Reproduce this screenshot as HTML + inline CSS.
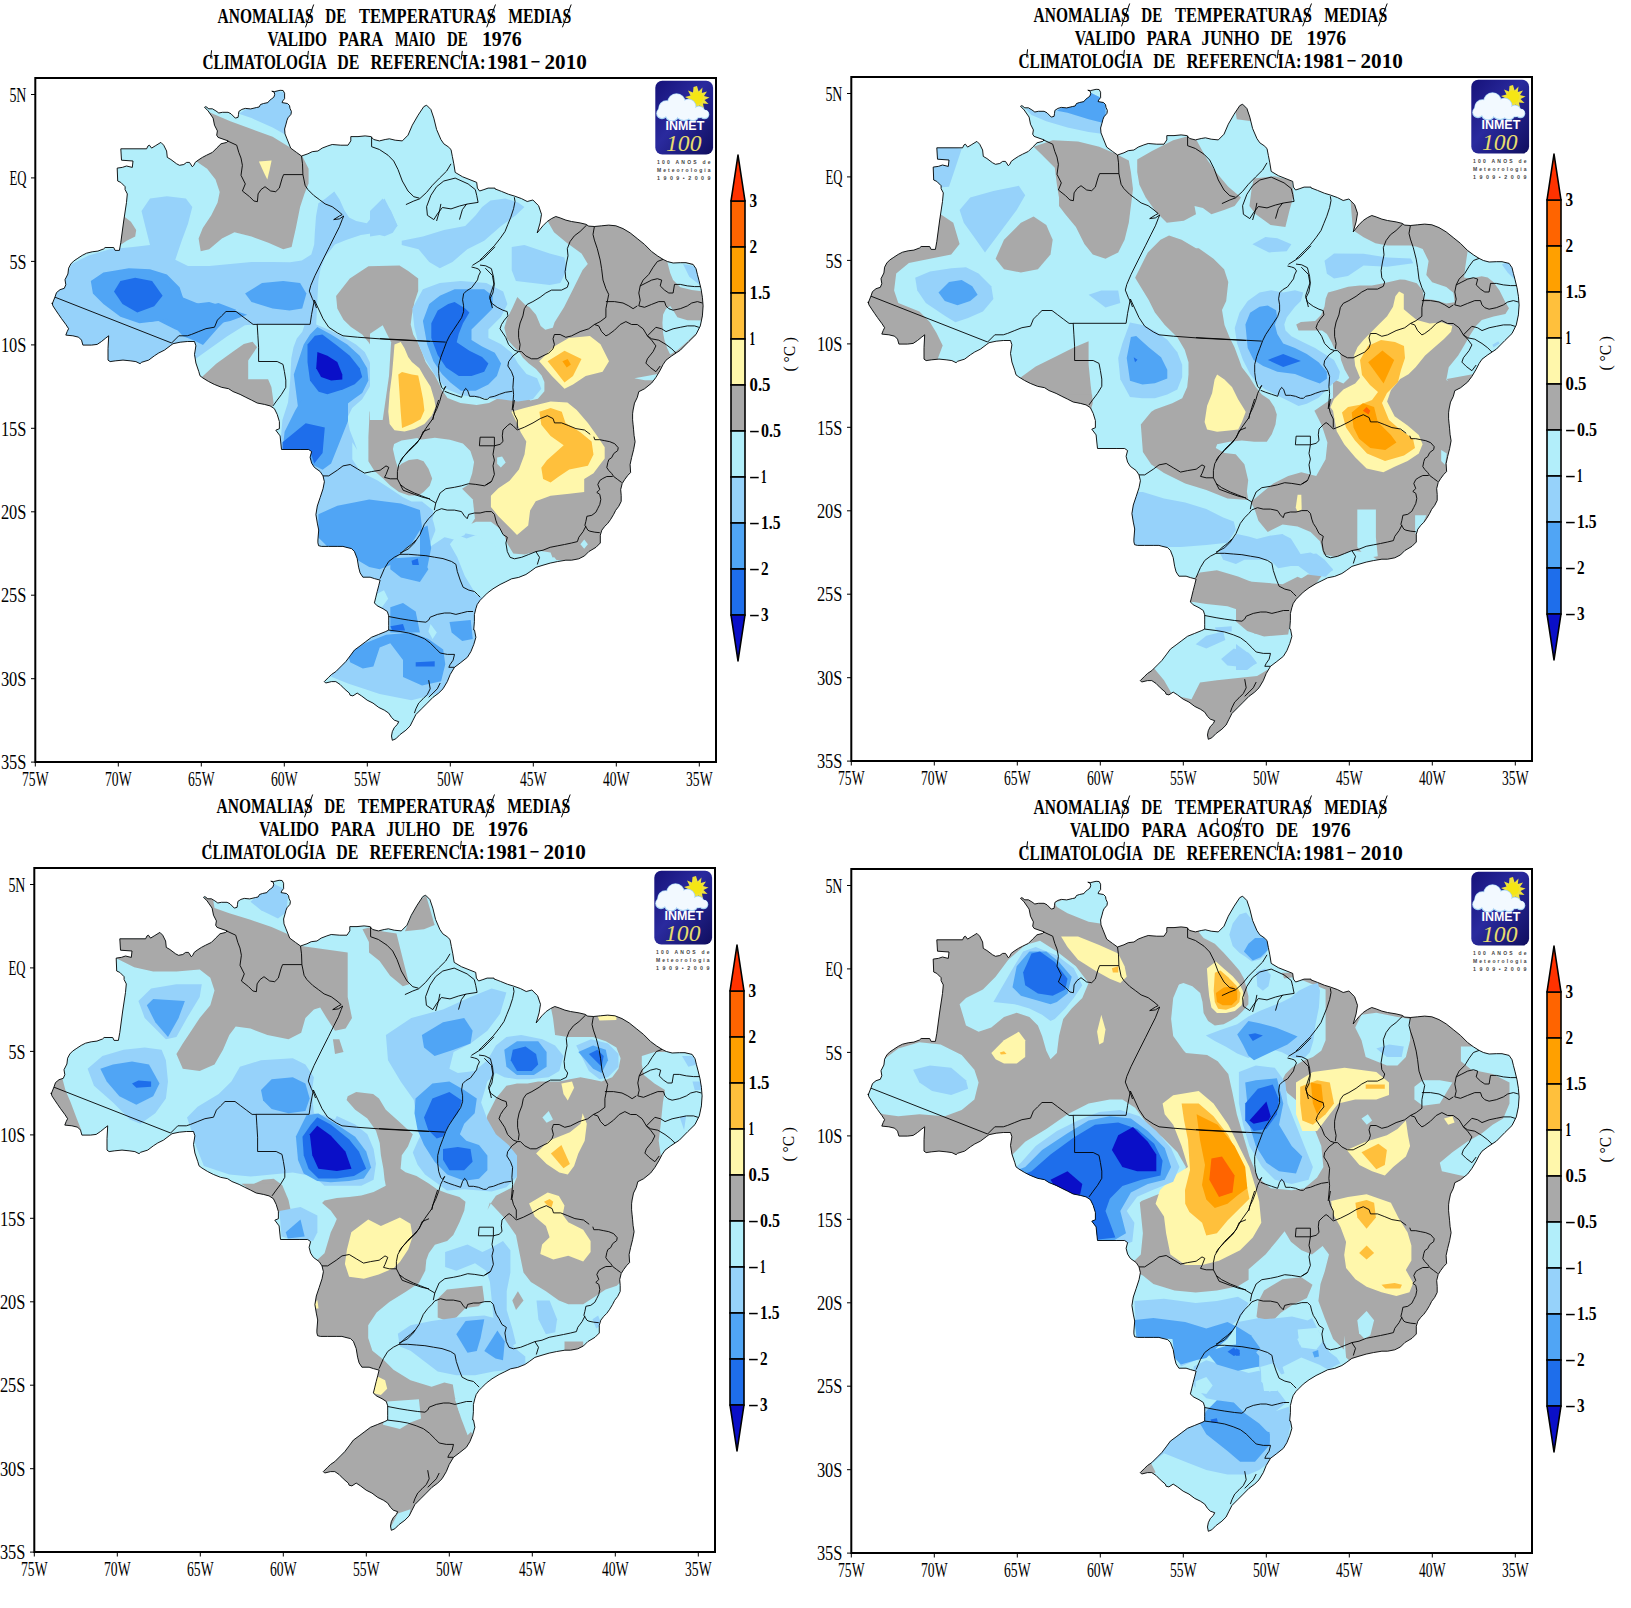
<!DOCTYPE html>
<html><head><meta charset="utf-8"><style>html,body{margin:0;padding:0;background:#fff}svg{display:block}</style></head>
<body><svg xmlns="http://www.w3.org/2000/svg" width="1631" height="1608" viewBox="0 0 1631 1608">
<defs>
<clipPath id="brz"><path d="M52.2 304.0 L55.0 296.9 L56.5 292.6 L60.0 289.7 L64.3 288.3 L65.8 284.7 L65.0 279.7 L67.9 274.0 L68.6 268.2 L70.8 264.0 L73.6 261.1 L77.9 258.2 L82.2 255.4 L86.5 253.2 L92.2 251.8 L97.9 251.1 L103.7 248.9 L105.1 247.5 L113.7 247.5 L115.1 250.4 L119.4 250.4 L120.8 242.5 L123.7 221.0 L126.5 202.4 L127.3 193.9 L125.1 189.6 L125.1 186.7 L120.8 182.4 L117.7 181.0 L117.2 168.1 L122.3 167.4 L126.5 166.0 L132.3 167.4 L133.0 161.0 L121.5 160.2 L120.8 148.8 L146.6 148.8 L148.0 145.9 L149.4 145.2 L151.6 148.1 L155.2 145.9 L160.9 142.4 L163.7 145.2 L166.6 151.0 L167.3 157.4 L170.9 159.5 L176.6 163.8 L179.5 165.3 L183.8 164.5 L186.6 162.4 L189.5 162.4 L192.3 166.7 L193.8 165.3 L195.2 162.4 L198.1 160.2 L202.4 157.4 L206.6 155.2 L212.4 152.4 L216.7 148.1 L221.0 143.8 L226.7 142.4 L228.1 140.9 L218.1 137.4 L216.7 135.2 L217.4 130.9 L214.5 125.2 L213.1 118.1 L208.1 110.9 L204.5 107.3 L205.9 106.6 L208.8 108.8 L212.4 108.8 L215.9 110.9 L218.8 113.0 L222.4 112.3 L228.1 112.3 L231.0 113.8 L235.3 118.1 L238.1 117.3 L238.5 114.3 L238.9 111.4 L241.9 109.4 L245.3 108.4 L250.7 108.9 L256.6 107.5 L259.1 107.0 L260.5 104.5 L263.5 103.5 L267.9 102.6 L269.4 100.6 L271.3 99.1 L273.8 97.2 L274.7 94.7 L274.3 92.3 L271.8 91.2 L274.5 91.6 L280.1 90.3 L283.1 90.5 L284.6 93.2 L284.6 98.6 L282.6 101.1 L282.1 102.6 L287.5 103.5 L289.5 105.5 L290.0 108.4 L291.4 111.4 L291.0 114.3 L288.0 117.8 L287.0 120.2 L286.0 124.1 L284.6 129.0 L285.0 133.9 L287.0 138.9 L290.7 148.1 L296.5 152.4 L301.5 156.0 L307.9 153.8 L312.2 151.7 L317.9 151.0 L322.2 148.1 L327.9 145.9 L332.2 144.5 L340.8 145.2 L348.0 145.2 L350.8 140.9 L350.8 136.6 L358.0 136.6 L365.1 135.9 L370.9 136.6 L373.7 139.5 L379.4 140.9 L385.2 139.5 L389.4 138.8 L395.2 140.2 L402.3 140.9 L408.0 135.2 L412.3 125.2 L418.1 115.2 L423.8 106.6 L426.6 105.2 L430.9 109.5 L433.8 118.1 L436.6 129.5 L440.9 139.5 L443.8 143.8 L448.1 146.7 L451.0 149.5 L452.4 156.7 L453.8 163.8 L455.2 172.4 L462.4 176.7 L476.7 182.4 L477.4 188.1 L479.6 191.0 L483.9 189.6 L488.1 188.1 L495.0 188.1 L495.0 188.9 L501.5 191.4 L508.6 194.3 L514.3 196.0 L521.5 198.6 L527.2 201.5 L532.9 200.0 L538.6 205.7 L541.5 214.3 L540.1 222.9 L537.2 232.9 L542.9 225.8 L547.2 221.5 L551.5 218.6 L555.8 216.5 L560.1 217.9 L565.8 220.1 L571.5 221.5 L580.1 222.9 L585.9 224.3 L588.7 226.1 L594.4 226.5 L601.6 225.8 L608.7 225.1 L615.9 225.8 L623.0 228.6 L630.2 232.9 L637.3 238.6 L644.5 244.4 L651.6 251.5 L657.4 255.8 L663.1 259.4 L667.4 261.5 L673.1 263.0 L680.3 262.7 L686.0 262.7 L693.1 264.4 L696.0 268.7 L697.4 274.4 L698.9 280.1 L701.0 288.7 L702.4 297.3 L703.1 305.9 L702.4 315.9 L700.3 325.9 L696.0 334.5 L688.8 341.6 L680.3 350.2 L671.7 355.9 L666.0 360.2 L663.1 364.5 L660.2 370.2 L655.9 377.4 L651.6 383.1 L644.5 388.8 L638.8 391.7 L637.3 397.4 L634.5 403.1 L633.1 410.0 L632.6 413.8 L632.6 419.8 L633.1 424.8 L633.6 429.8 L634.1 435.7 L635.1 441.7 L633.6 449.7 L631.6 457.6 L630.1 464.6 L630.6 472.5 L627.7 475.5 L624.7 479.5 L622.2 483.5 L620.7 489.5 L621.2 495.4 L621.2 501.4 L618.7 506.4 L615.7 510.3 L613.7 514.3 L610.7 519.3 L607.8 523.3 L604.8 526.3 L601.8 530.2 L600.3 535.2 L600.3 543.0 L596.0 547.3 L588.8 551.6 L584.5 555.9 L578.8 558.8 L571.6 560.2 L565.9 560.2 L557.3 561.6 L550.2 563.1 L543.0 565.2 L535.9 567.4 L530.2 571.6 L525.9 574.5 L518.7 577.4 L511.6 578.8 L505.9 581.7 L500.1 584.5 L493.0 588.8 L487.3 593.1 L483.0 597.4 L480.1 600.3 L477.2 604.5 L475.8 608.8 L474.4 614.6 L474.4 621.7 L473.7 630.0 L474.5 630.1 L475.9 637.3 L473.8 644.4 L470.9 651.6 L467.4 657.3 L460.2 663.0 L454.5 667.3 L450.2 674.5 L447.3 681.6 L443.0 688.8 L438.7 693.1 L433.0 697.3 L427.3 703.1 L421.6 708.8 L415.9 714.5 L413.0 720.2 L410.1 726.0 L405.9 730.2 L400.1 734.5 L395.8 738.8 L392.3 740.3 L391.5 736.0 L392.3 731.7 L394.4 727.4 L397.3 724.5 L398.7 721.7 L394.4 720.2 L391.5 717.4 L388.7 713.1 L384.4 710.2 L378.7 707.4 L373.0 703.1 L367.2 700.2 L361.5 695.9 L357.2 693.1 L352.9 695.9 L350.1 695.2 L349.3 693.1 L344.3 688.8 L340.1 684.5 L335.8 681.6 L331.5 681.6 L325.7 683.0 L324.3 681.6 L328.6 677.3 L331.5 674.5 L335.8 671.6 L341.5 665.9 L345.8 661.6 L350.1 655.9 L354.4 650.1 L360.1 645.9 L365.8 641.6 L371.5 637.3 L378.7 634.4 L385.8 631.5 L388.7 630.1 L388.7 625.8 L388.7 620.1 L388.7 615.8 L387.3 611.5 L383.0 608.7 L377.2 605.8 L374.4 602.9 L375.8 597.2 L377.2 591.5 L378.7 585.8 L380.1 580.1 L374.4 578.6 L370.1 577.2 L362.9 577.2 L360.1 572.9 L358.6 567.2 L357.2 558.6 L354.4 551.4 L351.5 548.6 L345.8 547.2 L342.9 546.4 L337.2 546.4 L328.6 546.4 L321.5 546.4 L318.6 545.7 L317.9 542.9 L317.9 540.0 L318.7 530.0 L317.3 523.1 L315.9 514.6 L317.3 506.0 L320.2 497.4 L323.0 488.8 L324.4 481.7 L323.0 475.9 L320.2 471.6 L314.4 467.4 L311.6 463.1 L310.1 457.3 L311.6 451.6 L308.7 449.5 L300.1 449.5 L281.5 449.5 L280.8 443.0 L280.1 435.9 L275.8 430.2 L279.4 428.7 L279.4 421.6 L277.2 414.4 L274.4 408.7 L270.1 405.9 L264.4 404.4 L257.2 403.0 L251.5 400.1 L245.8 397.3 L240.1 394.4 L232.9 391.5 L228.6 388.7 L221.5 387.3 L214.3 384.4 L208.6 381.5 L202.9 378.0 L200.0 375.8 L198.8 371.6 L195.9 363.0 L194.5 354.4 L195.9 345.8 L194.5 341.5 L187.3 341.5 L180.2 342.2 L173.0 343.7 L170.2 345.8 L164.5 350.1 L158.7 353.0 L154.4 355.8 L148.7 360.1 L141.6 362.3 L140.1 363.7 L135.9 361.6 L130.1 360.8 L123.0 360.1 L115.8 360.8 L110.1 361.6 L108.0 360.1 L108.0 348.7 L108.7 335.8 L105.8 338.0 L101.5 341.5 L97.2 344.4 L91.5 345.1 L82.9 345.1 L81.5 340.1 L78.6 337.2 L72.9 335.8 L65.8 335.1 L67.2 331.5 L68.6 328.7 L65.8 324.4 L61.5 318.6 L58.6 314.4 L55.7 310.1 L52.9 305.8 L52.2 302.9 Z"/></clipPath>
<path id="brzline" d="M52.2 304.0 L55.0 296.9 L56.5 292.6 L60.0 289.7 L64.3 288.3 L65.8 284.7 L65.0 279.7 L67.9 274.0 L68.6 268.2 L70.8 264.0 L73.6 261.1 L77.9 258.2 L82.2 255.4 L86.5 253.2 L92.2 251.8 L97.9 251.1 L103.7 248.9 L105.1 247.5 L113.7 247.5 L115.1 250.4 L119.4 250.4 L120.8 242.5 L123.7 221.0 L126.5 202.4 L127.3 193.9 L125.1 189.6 L125.1 186.7 L120.8 182.4 L117.7 181.0 L117.2 168.1 L122.3 167.4 L126.5 166.0 L132.3 167.4 L133.0 161.0 L121.5 160.2 L120.8 148.8 L146.6 148.8 L148.0 145.9 L149.4 145.2 L151.6 148.1 L155.2 145.9 L160.9 142.4 L163.7 145.2 L166.6 151.0 L167.3 157.4 L170.9 159.5 L176.6 163.8 L179.5 165.3 L183.8 164.5 L186.6 162.4 L189.5 162.4 L192.3 166.7 L193.8 165.3 L195.2 162.4 L198.1 160.2 L202.4 157.4 L206.6 155.2 L212.4 152.4 L216.7 148.1 L221.0 143.8 L226.7 142.4 L228.1 140.9 L218.1 137.4 L216.7 135.2 L217.4 130.9 L214.5 125.2 L213.1 118.1 L208.1 110.9 L204.5 107.3 L205.9 106.6 L208.8 108.8 L212.4 108.8 L215.9 110.9 L218.8 113.0 L222.4 112.3 L228.1 112.3 L231.0 113.8 L235.3 118.1 L238.1 117.3 L238.5 114.3 L238.9 111.4 L241.9 109.4 L245.3 108.4 L250.7 108.9 L256.6 107.5 L259.1 107.0 L260.5 104.5 L263.5 103.5 L267.9 102.6 L269.4 100.6 L271.3 99.1 L273.8 97.2 L274.7 94.7 L274.3 92.3 L271.8 91.2 L274.5 91.6 L280.1 90.3 L283.1 90.5 L284.6 93.2 L284.6 98.6 L282.6 101.1 L282.1 102.6 L287.5 103.5 L289.5 105.5 L290.0 108.4 L291.4 111.4 L291.0 114.3 L288.0 117.8 L287.0 120.2 L286.0 124.1 L284.6 129.0 L285.0 133.9 L287.0 138.9 L290.7 148.1 L296.5 152.4 L301.5 156.0 L307.9 153.8 L312.2 151.7 L317.9 151.0 L322.2 148.1 L327.9 145.9 L332.2 144.5 L340.8 145.2 L348.0 145.2 L350.8 140.9 L350.8 136.6 L358.0 136.6 L365.1 135.9 L370.9 136.6 L373.7 139.5 L379.4 140.9 L385.2 139.5 L389.4 138.8 L395.2 140.2 L402.3 140.9 L408.0 135.2 L412.3 125.2 L418.1 115.2 L423.8 106.6 L426.6 105.2 L430.9 109.5 L433.8 118.1 L436.6 129.5 L440.9 139.5 L443.8 143.8 L448.1 146.7 L451.0 149.5 L452.4 156.7 L453.8 163.8 L455.2 172.4 L462.4 176.7 L476.7 182.4 L477.4 188.1 L479.6 191.0 L483.9 189.6 L488.1 188.1 L495.0 188.1 L495.0 188.9 L501.5 191.4 L508.6 194.3 L514.3 196.0 L521.5 198.6 L527.2 201.5 L532.9 200.0 L538.6 205.7 L541.5 214.3 L540.1 222.9 L537.2 232.9 L542.9 225.8 L547.2 221.5 L551.5 218.6 L555.8 216.5 L560.1 217.9 L565.8 220.1 L571.5 221.5 L580.1 222.9 L585.9 224.3 L588.7 226.1 L594.4 226.5 L601.6 225.8 L608.7 225.1 L615.9 225.8 L623.0 228.6 L630.2 232.9 L637.3 238.6 L644.5 244.4 L651.6 251.5 L657.4 255.8 L663.1 259.4 L667.4 261.5 L673.1 263.0 L680.3 262.7 L686.0 262.7 L693.1 264.4 L696.0 268.7 L697.4 274.4 L698.9 280.1 L701.0 288.7 L702.4 297.3 L703.1 305.9 L702.4 315.9 L700.3 325.9 L696.0 334.5 L688.8 341.6 L680.3 350.2 L671.7 355.9 L666.0 360.2 L663.1 364.5 L660.2 370.2 L655.9 377.4 L651.6 383.1 L644.5 388.8 L638.8 391.7 L637.3 397.4 L634.5 403.1 L633.1 410.0 L632.6 413.8 L632.6 419.8 L633.1 424.8 L633.6 429.8 L634.1 435.7 L635.1 441.7 L633.6 449.7 L631.6 457.6 L630.1 464.6 L630.6 472.5 L627.7 475.5 L624.7 479.5 L622.2 483.5 L620.7 489.5 L621.2 495.4 L621.2 501.4 L618.7 506.4 L615.7 510.3 L613.7 514.3 L610.7 519.3 L607.8 523.3 L604.8 526.3 L601.8 530.2 L600.3 535.2 L600.3 543.0 L596.0 547.3 L588.8 551.6 L584.5 555.9 L578.8 558.8 L571.6 560.2 L565.9 560.2 L557.3 561.6 L550.2 563.1 L543.0 565.2 L535.9 567.4 L530.2 571.6 L525.9 574.5 L518.7 577.4 L511.6 578.8 L505.9 581.7 L500.1 584.5 L493.0 588.8 L487.3 593.1 L483.0 597.4 L480.1 600.3 L477.2 604.5 L475.8 608.8 L474.4 614.6 L474.4 621.7 L473.7 630.0 L474.5 630.1 L475.9 637.3 L473.8 644.4 L470.9 651.6 L467.4 657.3 L460.2 663.0 L454.5 667.3 L450.2 674.5 L447.3 681.6 L443.0 688.8 L438.7 693.1 L433.0 697.3 L427.3 703.1 L421.6 708.8 L415.9 714.5 L413.0 720.2 L410.1 726.0 L405.9 730.2 L400.1 734.5 L395.8 738.8 L392.3 740.3 L391.5 736.0 L392.3 731.7 L394.4 727.4 L397.3 724.5 L398.7 721.7 L394.4 720.2 L391.5 717.4 L388.7 713.1 L384.4 710.2 L378.7 707.4 L373.0 703.1 L367.2 700.2 L361.5 695.9 L357.2 693.1 L352.9 695.9 L350.1 695.2 L349.3 693.1 L344.3 688.8 L340.1 684.5 L335.8 681.6 L331.5 681.6 L325.7 683.0 L324.3 681.6 L328.6 677.3 L331.5 674.5 L335.8 671.6 L341.5 665.9 L345.8 661.6 L350.1 655.9 L354.4 650.1 L360.1 645.9 L365.8 641.6 L371.5 637.3 L378.7 634.4 L385.8 631.5 L388.7 630.1 L388.7 625.8 L388.7 620.1 L388.7 615.8 L387.3 611.5 L383.0 608.7 L377.2 605.8 L374.4 602.9 L375.8 597.2 L377.2 591.5 L378.7 585.8 L380.1 580.1 L374.4 578.6 L370.1 577.2 L362.9 577.2 L360.1 572.9 L358.6 567.2 L357.2 558.6 L354.4 551.4 L351.5 548.6 L345.8 547.2 L342.9 546.4 L337.2 546.4 L328.6 546.4 L321.5 546.4 L318.6 545.7 L317.9 542.9 L317.9 540.0 L318.7 530.0 L317.3 523.1 L315.9 514.6 L317.3 506.0 L320.2 497.4 L323.0 488.8 L324.4 481.7 L323.0 475.9 L320.2 471.6 L314.4 467.4 L311.6 463.1 L310.1 457.3 L311.6 451.6 L308.7 449.5 L300.1 449.5 L281.5 449.5 L280.8 443.0 L280.1 435.9 L275.8 430.2 L279.4 428.7 L279.4 421.6 L277.2 414.4 L274.4 408.7 L270.1 405.9 L264.4 404.4 L257.2 403.0 L251.5 400.1 L245.8 397.3 L240.1 394.4 L232.9 391.5 L228.6 388.7 L221.5 387.3 L214.3 384.4 L208.6 381.5 L202.9 378.0 L200.0 375.8 L198.8 371.6 L195.9 363.0 L194.5 354.4 L195.9 345.8 L194.5 341.5 L187.3 341.5 L180.2 342.2 L173.0 343.7 L170.2 345.8 L164.5 350.1 L158.7 353.0 L154.4 355.8 L148.7 360.1 L141.6 362.3 L140.1 363.7 L135.9 361.6 L130.1 360.8 L123.0 360.1 L115.8 360.8 L110.1 361.6 L108.0 360.1 L108.0 348.7 L108.7 335.8 L105.8 338.0 L101.5 341.5 L97.2 344.4 L91.5 345.1 L82.9 345.1 L81.5 340.1 L78.6 337.2 L72.9 335.8 L65.8 335.1 L67.2 331.5 L68.6 328.7 L65.8 324.4 L61.5 318.6 L58.6 314.4 L55.7 310.1 L52.9 305.8 L52.2 302.9 Z" fill="none" stroke="#000" stroke-width="0.9" stroke-linejoin="round"/>
<g id="logo">
<defs><linearGradient id="lg" x1="0" y1="0" x2="1" y2="1"><stop offset="0" stop-color="#16127a"/><stop offset="0.45" stop-color="#2a2a9e"/><stop offset="1" stop-color="#100e5e"/></linearGradient></defs>
<rect x="655.3" y="80.8" width="57.8" height="73.8" rx="7" fill="url(#lg)"/>
<polygon points="697,86 698.6,91.5 702.5,87.5 701.8,93 707,91.5 704,96 709.5,97.5 704.5,100 708.5,104 703,103.5 704,109 699.5,105.5 697,110 695,105 690.5,108 691.5,103 686,103.5 690,99.5 685,97 690.5,95.5 688,90.5 693,92.5 693.5,87" fill="#efe23a"/>
<circle cx="697" cy="97.8" r="6.2" fill="#f5e614"/>
<g fill="#a8d4f4"><circle cx="666.5" cy="108.5" r="8.3"/><circle cx="676.5" cy="102.5" r="9.3"/><circle cx="688.5" cy="106.5" r="7.8"/><circle cx="699" cy="112" r="6.3"/><circle cx="684" cy="112" r="9.3"/><circle cx="662" cy="113.5" r="5.8"/><circle cx="704.5" cy="114.5" r="4.8"/><circle cx="672" cy="114.5" r="7.3"/><circle cx="693" cy="115" r="6.3"/></g>
<g fill="#f2f9ff"><circle cx="666.5" cy="108.5" r="7.5"/><circle cx="676.5" cy="102.5" r="8.5"/><circle cx="688.5" cy="106.5" r="7"/><circle cx="699" cy="112" r="5.5"/><circle cx="684" cy="111.5" r="8.5"/><circle cx="662" cy="113" r="5"/><circle cx="704.5" cy="114" r="4"/><circle cx="672" cy="114" r="6.5"/><circle cx="693" cy="114.5" r="5.5"/></g>
<text x="665.5" y="130.3" font-size="12" fill="#ffffff" style="font-family:'Liberation Sans',sans-serif;font-weight:bold" textLength="38.8" lengthAdjust="spacingAndGlyphs">INMET</text>
<text x="666" y="150.5" font-size="23" fill="#e6dc6e" style="font-family:'Liberation Serif',serif;font-style:italic" textLength="35.5" lengthAdjust="spacingAndGlyphs">100</text>
<text x="657" y="163.8" font-size="5" fill="#444" style="font-family:'Liberation Sans',sans-serif;font-weight:bold" textLength="53.5" lengthAdjust="spacing">100 ANOS de</text>
<text x="657" y="171.9" font-size="5" fill="#444" style="font-family:'Liberation Sans',sans-serif;font-weight:bold" textLength="53.5" lengthAdjust="spacing">Meteorologia</text>
<text x="657" y="179.6" font-size="5.3" fill="#444" style="font-family:'Liberation Sans',sans-serif;font-weight:bold" textLength="53.5" lengthAdjust="spacing">1909•2009</text>
</g>
</defs>
<rect width="1631" height="1608" fill="#fff"/>
<g transform="translate(0,0)">
<text x="217.6" y="22.8" font-size="21.5" textLength="96.1" lengthAdjust="spacingAndGlyphs" style="font-family:'Liberation Serif',serif;font-weight:bold">ANOMALIAS</text>
<text x="325.3" y="22.8" font-size="21.5" textLength="21.0" lengthAdjust="spacingAndGlyphs" style="font-family:'Liberation Serif',serif;font-weight:bold">DE</text>
<text x="359.1" y="22.8" font-size="21.5" textLength="136.9" lengthAdjust="spacingAndGlyphs" style="font-family:'Liberation Serif',serif;font-weight:bold">TEMPERATURAS</text>
<text x="508.2" y="22.8" font-size="21.5" textLength="63.0" lengthAdjust="spacingAndGlyphs" style="font-family:'Liberation Serif',serif;font-weight:bold">MEDIAS</text>
<text x="267.5" y="45.6" font-size="21.5" textLength="59.6" lengthAdjust="spacingAndGlyphs" style="font-family:'Liberation Serif',serif;font-weight:bold">VALIDO</text>
<text x="338.6" y="45.6" font-size="21.5" textLength="44.7" lengthAdjust="spacingAndGlyphs" style="font-family:'Liberation Serif',serif;font-weight:bold">PARA</text>
<text x="394.9" y="45.6" font-size="21.5" textLength="40.6" lengthAdjust="spacingAndGlyphs" style="font-family:'Liberation Serif',serif;font-weight:bold">MAIO</text>
<text x="447.1" y="45.6" font-size="21.5" textLength="20.7" lengthAdjust="spacingAndGlyphs" style="font-family:'Liberation Serif',serif;font-weight:bold">DE</text>
<text x="481.9" y="45.6" font-size="21.5" textLength="39.7" lengthAdjust="spacingAndGlyphs" style="font-family:'Liberation Serif',serif;font-weight:bold">1976</text>
<text x="202.4" y="69.2" font-size="21.5" textLength="124.4" lengthAdjust="spacingAndGlyphs" style="font-family:'Liberation Serif',serif;font-weight:bold">CLIMATOLOGIA</text>
<text x="337.2" y="69.2" font-size="21.5" textLength="22.1" lengthAdjust="spacingAndGlyphs" style="font-family:'Liberation Serif',serif;font-weight:bold">DE</text>
<text x="370.4" y="69.2" font-size="21.5" textLength="115.1" lengthAdjust="spacingAndGlyphs" style="font-family:'Liberation Serif',serif;font-weight:bold">REFERENCIA:</text>
<text x="486.9" y="69.2" font-size="21.5" textLength="41.7" lengthAdjust="spacingAndGlyphs" style="font-family:'Liberation Serif',serif;font-weight:bold">1981</text>
<text x="530.5" y="69.2" font-size="21.5" textLength="10.0" lengthAdjust="spacingAndGlyphs" style="font-family:'Liberation Serif',serif;font-weight:bold">−</text>
<text x="544.5" y="69.2" font-size="21.5" textLength="42.3" lengthAdjust="spacingAndGlyphs" style="font-family:'Liberation Serif',serif;font-weight:bold">2010</text>
<line x1="305.5" y1="27.3" x2="313.7" y2="4.5" stroke="#000" stroke-width="1"/>
<line x1="486.7" y1="27.3" x2="495.5" y2="4.5" stroke="#000" stroke-width="1"/>
<line x1="562.4" y1="27.3" x2="571.2" y2="4.5" stroke="#000" stroke-width="1"/>
<line x1="211.6" y1="50.3" x2="210.6" y2="58.3" stroke="#000" stroke-width="1"/>
<line x1="308.4" y1="50.9" x2="307.4" y2="59.5" stroke="#000" stroke-width="1"/>
<line x1="462.3" y1="50.9" x2="461.3" y2="59.5" stroke="#000" stroke-width="1"/>
<g clip-path="url(#brz)">
<rect x="40" y="80" width="680" height="680" fill="#b2eefa"/>
<path d="M545.5 217.4 L540.0 190.0 L730.0 190.0 L730.0 565.0 L553.4 560.0 L550.6 552.6 L539.4 550.7 L524.5 554.4 L513.3 553.5 L507.7 544.2 L504.0 534.9 L498.4 527.4 L490.9 521.8 L476.0 521.8 L462.9 527.4 L453.6 534.9 L446.1 534.9 L440.5 529.3 L440.5 510.6 L448.0 501.3 L457.3 491.9 L462.9 488.2 L468.5 484.5 L472.2 473.3 L474.1 462.1 L470.4 450.9 L462.9 443.4 L449.9 439.7 L434.9 437.8 L420.0 439.7 L417.4 438.0 L401.5 440.5 L394.1 444.1 L392.9 449.0 L395.4 460.1 L397.8 467.4 L401.5 463.8 L408.9 460.1 L417.4 458.9 L423.6 461.3 L428.5 468.7 L432.2 478.5 L429.7 485.8 L423.6 492.0 L418.7 495.6 L408.9 495.6 L399.0 492.0 L390.5 485.8 L383.1 478.5 L374.5 471.1 L368.4 461.3 L368.4 436.8 L369.6 412.3 L373.3 400.0 L369.7 450.0 L368.4 436.6 L369.7 430.3 L369.7 417.9 L373.4 405.5 L374.6 393.0 L377.1 380.6 L377.1 369.4 L374.6 359.5 L373.4 349.5 L368.4 342.0 L362.2 334.6 L351.0 327.1 L343.5 319.7 L337.3 308.5 L336.1 296.0 L349.8 278.6 L368.4 266.2 L399.5 265.5 L408.2 271.1 L418.2 278.6 L418.2 291.0 L414.4 302.2 L411.9 314.7 L410.7 324.6 L413.2 334.6 L418.2 343.3 L421.9 352.0 L425.6 361.9 L430.6 369.4 L434.3 374.4 L438.1 381.8 L440.5 386.8 L441.0 388.6 L447.5 398.0 L460.4 403.0 L476.6 405.0 L489.0 403.0 L498.7 398.0 L513.6 391.0 L520.1 392.2 L530.4 400.6 L537.9 398.7 L544.4 391.3 L544.4 381.9 L541.6 375.4 L536.0 368.9 L528.5 363.3 L522.9 357.7 L519.2 352.1 L513.6 346.5 L507.1 339.0 L504.3 327.8 L507.1 318.5 L512.7 307.3 L517.3 297.1 L524.8 304.5 L529.5 307.3 L536.0 314.8 L540.7 326.0 L545.3 329.7 L552.8 327.8 L554.6 322.2 L564.0 307.3 L573.3 288.7 L582.6 270.0 L587.8 264.0 L581.5 253.4 L566.7 242.8 L554.0 232.3 Z" fill="#a9a9a9"/>
<path d="M188.0 101.1 L202.8 109.6 L230.3 121.2 L251.5 129.1 L272.6 136.7 L288.5 146.6 L302.2 156.1 L308.6 168.8 L308.6 183.6 L304.3 194.2 L300.1 206.9 L295.9 228.0 L291.6 247.1 L283.2 249.2 L268.4 242.8 L251.5 236.5 L234.5 232.3 L221.9 238.6 L209.2 249.2 L200.7 251.3 L198.6 238.6 L202.8 228.0 L211.3 215.3 L217.6 202.6 L219.7 192.1 L215.5 179.4 L207.1 168.8 L196.5 161.4 L188.0 160.4 Z" fill="#a9a9a9"/>
<path d="M122.5 215.3 L130.9 221.7 L136.2 230.1 L135.2 236.5 L126.7 240.7 L120.4 244.9 L114.0 228.0 Z" fill="#a9a9a9"/>
<path d="M201.9 377.1 L216.2 363.8 L232.8 351.7 L243.8 343.9 L252.6 341.7 L257.1 347.3 L252.6 353.9 L248.2 360.5 L248.2 379.3 L268.1 379.3 L271.4 387.0 L273.6 402.4 L272.5 406.9 L275.8 424.5 L194.1 424.5 Z" fill="#a9a9a9"/>
<path d="M667.4 262.2 L686.0 263.0 L694.6 265.8 L716.0 265.8 L716.0 293.0 L691.7 290.1 L680.3 287.3 L673.1 280.1 L670.2 273.0 Z" fill="#b2eefa"/>
<path d="M683.0 264.0 L693.5 266.1 L718.9 270.3 L718.9 289.3 L699.9 285.1 L689.3 276.7 Z" fill="#96d2fa"/>
<path d="M663.1 314.5 L666.0 308.7 L670.2 305.9 L673.1 310.2 L677.4 317.3 L687.4 320.2 L716.0 320.9 L716.0 325.9 L694.6 334.5 L687.4 341.6 L677.4 350.2 L670.2 354.5 L667.4 348.8 L664.5 340.2 L663.1 333.1 L662.4 323.0 Z" fill="#b2eefa"/>
<path d="M634.3 378.2 L647.0 376.0 L657.6 373.9 L655.5 380.3 L644.9 380.3 Z" fill="#b2eefa"/>
<path d="M497.1 457.6 L502.1 456.4 L505.7 462.5 L500.8 467.4 L497.1 463.8 Z" fill="#b2eefa"/>
<path d="M580.4 544.2 L584.2 539.5 L587.9 544.2 L584.2 548.8 Z" fill="#b2eefa"/>
<path d="M258.9 161.4 L271.6 160.4 L269.4 170.9 L267.3 179.4 L264.1 173.0 Z" fill="#fff7ab"/>
<path d="M394.5 344.5 L400.7 342.0 L404.5 348.3 L408.2 357.0 L411.9 361.9 L419.4 368.2 L424.4 376.9 L430.6 386.8 L434.3 399.3 L435.6 406.7 L431.8 415.4 L424.4 424.1 L414.4 429.1 L404.5 431.6 L394.5 430.3 L389.6 424.1 L388.3 411.7 L389.6 393.0 L392.0 374.4 L393.3 359.5 Z" fill="#fff7ab"/>
<path d="M398.3 374.4 L402.0 371.9 L411.9 374.4 L418.2 375.6 L420.6 386.8 L423.1 399.3 L424.4 410.4 L420.6 419.2 L411.9 424.1 L402.0 427.9 L400.7 411.7 L399.5 393.0 Z" fill="#ffc03c"/>
<path d="M539.2 361.2 L554.0 346.4 L568.8 338.0 L589.9 335.9 L600.5 344.3 L609.0 361.2 L602.6 371.8 L585.7 376.0 L573.0 384.5 L564.5 388.7 L551.9 376.0 Z" fill="#fff7ab"/>
<path d="M547.6 361.2 L564.5 350.7 L581.5 359.1 L573.0 376.0 L564.5 382.4 L556.1 371.8 Z" fill="#ffc03c"/>
<path d="M562.4 361.2 L567.7 359.1 L570.9 364.4 L566.7 367.6 Z" fill="#ffa000"/>
<path d="M511.4 411.7 L524.5 408.0 L539.4 404.3 L550.6 401.5 L567.4 402.4 L576.7 409.9 L587.9 422.9 L597.2 436.0 L604.7 447.2 L604.7 458.4 L599.1 465.8 L593.5 473.3 L584.2 478.9 L584.2 491.9 L569.3 493.8 L550.6 495.7 L535.7 501.3 L530.1 510.6 L528.2 525.5 L517.0 534.9 L507.7 525.5 L498.4 516.2 L490.9 506.9 L490.9 495.7 L498.4 488.2 L509.6 480.7 L518.9 469.6 L524.5 454.6 L526.3 441.6 L520.7 432.2 L517.0 422.9 Z" fill="#fff7ab"/>
<path d="M539.4 411.7 L550.6 408.0 L561.8 411.7 L565.5 422.9 L580.4 432.2 L591.6 441.6 L593.5 454.6 L587.9 465.8 L569.3 469.6 L558.1 477.0 L550.6 482.6 L543.1 478.9 L541.3 467.7 L546.9 460.2 L563.7 445.3 L550.6 436.0 L541.3 424.8 Z" fill="#ffc03c"/>
<path d="M238.8 113.8 L251.5 105.4 L272.6 90.6 L289.5 92.7 L293.8 122.3 L289.5 137.1 L272.6 127.6 L251.5 118.1 Z" fill="#96d2fa"/>
<path d="M40.0 312.6 L52.7 299.9 L56.9 289.3 L65.4 276.7 L71.7 264.0 L88.6 255.5 L109.8 249.2 L133.0 247.1 L150.0 244.9 L145.7 228.0 L141.5 211.1 L150.0 198.4 L166.9 196.3 L185.9 198.4 L192.3 206.9 L188.0 223.8 L181.7 240.7 L175.3 259.7 L188.0 266.1 L209.2 266.1 L230.3 264.0 L251.5 261.9 L272.6 261.9 L290.0 262.3 L301.8 260.5 L311.3 254.6 L314.2 244.5 L314.8 232.7 L316.0 216.2 L318.4 203.2 L325.5 198.4 L334.3 191.4 L339.6 199.6 L344.4 210.3 L349.1 217.4 L356.2 220.9 L366.8 223.3 L371.5 217.4 L377.4 206.7 L384.5 198.4 L390.4 210.3 L397.5 225.6 L392.8 232.7 L384.5 236.3 L372.7 233.3 L360.9 235.1 L346.7 239.8 L334.9 244.5 L325.5 256.4 L320.7 268.2 L318.4 280.0 L316.2 324.6 L331.1 330.8 L343.5 337.1 L356.0 344.5 L364.7 352.0 L369.7 361.9 L372.1 374.4 L369.7 386.8 L362.2 399.3 L352.2 408.0 L347.3 417.9 L349.8 430.3 L354.7 442.8 L357.2 450.0 L352.3 442.3 L352.3 459.2 L360.7 471.9 L377.6 480.4 L390.3 488.8 L403.0 497.3 L411.5 501.5 L422.0 501.5 L432.6 510.0 L436.8 526.9 L428.4 548.0 L453.8 531.1 L474.9 535.3 L481.2 548.0 L477.0 560.7 L481.2 573.4 L431.2 518.1 L444.3 536.7 L457.3 531.1 L466.6 538.6 L476.0 534.9 L481.6 544.2 L494.6 551.6 L500.2 559.1 L507.7 566.6 L517.0 566.6 L524.5 566.6 L535.7 570.3 L550.6 572.2 L560.0 650.0 L520.0 760.0 L300.0 760.0 L300.0 650.0 L270.0 560.0 L282.4 420.0 L288.0 402.4 L290.2 380.4 L291.3 358.3 L293.5 347.3 L296.8 338.4 L302.3 331.8 L304.5 325.2 L257.1 324.1 L244.9 325.2 L227.3 336.2 L211.8 347.3 L196.4 358.3 L183.1 369.3 L100.0 360.0 L20.0 330.0 Z" fill="#96d2fa"/>
<path d="M466.6 538.6 L476.0 534.9 L487.2 540.4 L498.4 547.9 L507.7 555.4 L524.5 559.1 L539.4 559.1 L554.3 557.2 L561.8 566.6 L531.9 585.2 L494.6 603.9 L476.0 594.6 L464.8 575.9 L457.3 557.2 L449.9 544.2 L457.3 534.9 Z" fill="#b2eefa"/>
<path d="M443.2 490.9 L460.1 486.7 L472.8 499.4 L474.9 518.4 L464.3 535.3 L453.8 539.6 L436.8 535.3 L432.6 518.4 L436.8 501.5 Z" fill="#b2eefa"/>
<path d="M305.7 679.1 L326.9 674.9 L348.0 683.4 L379.7 693.9 L411.5 700.3 L428.4 696.0 L443.2 691.8 L453.8 717.2 L411.5 759.5 L305.7 759.5 Z" fill="#b2eefa"/>
<path d="M430.5 624.1 L436.8 632.6 L432.6 639.0 L428.4 631.6 Z" fill="#b2eefa"/>
<path d="M375.5 594.5 L384.0 590.3 L388.2 598.8 L381.9 607.2 L373.4 603.0 Z" fill="#b2eefa"/>
<path d="M370.0 333.8 L382.7 325.3 L391.1 342.2 L389.0 376.0 L382.7 420.0 L370.0 420.0 Z" fill="#b2eefa"/>
<path d="M370.0 211.1 L382.7 198.4 L391.1 211.1 L397.5 225.9 L382.7 234.4 L370.0 236.5 Z" fill="#96d2fa"/>
<path d="M401.7 240.7 L422.9 236.5 L444.0 230.1 L465.2 225.9 L475.7 215.3 L482.1 206.9 L490.5 200.5 L505.3 198.4 L518.0 202.6 L524.4 206.9 L515.9 215.3 L501.1 225.9 L484.2 240.7 L467.3 249.2 L452.5 261.9 L439.8 268.2 L429.2 261.9 L418.6 249.2 L401.7 244.9 Z" fill="#96d2fa"/>
<path d="M511.7 247.1 L524.4 244.9 L549.7 253.4 L564.5 257.6 L566.7 270.3 L560.3 283.0 L549.7 285.1 L532.8 283.0 L515.9 280.9 L511.7 270.3 Z" fill="#96d2fa"/>
<path d="M412.3 308.4 L422.9 289.3 L439.8 283.0 L460.9 280.9 L486.3 283.0 L503.2 291.5 L507.4 304.1 L501.1 316.8 L488.4 329.5 L488.4 338.0 L501.1 344.3 L511.7 352.8 L518.0 363.4 L526.5 373.9 L537.1 378.2 L541.3 388.7 L532.8 399.3 L518.0 401.4 L501.1 399.3 L475.7 397.2 L460.9 395.1 L446.1 388.7 L435.6 376.0 L425.0 359.1 L418.6 344.3 L414.4 327.4 Z" fill="#96d2fa"/>
<path d="M422.9 321.1 L429.2 304.1 L439.8 295.7 L454.6 289.3 L484.2 289.3 L492.6 295.7 L492.6 308.4 L482.1 319.0 L471.5 329.5 L471.5 340.1 L482.1 346.4 L494.8 352.8 L501.1 363.4 L496.9 376.0 L488.4 384.5 L475.7 390.8 L460.9 390.8 L450.4 382.4 L441.9 373.9 L433.4 361.2 L427.1 344.3 Z" fill="#50a5f5"/>
<path d="M431.3 323.2 L437.7 310.5 L448.2 304.1 L454.6 302.0 L465.2 308.4 L469.4 312.6 L463.0 323.2 L458.8 333.8 L456.7 342.2 L469.4 350.7 L482.1 357.0 L488.4 363.4 L484.2 371.8 L471.5 376.0 L458.8 376.0 L446.1 367.6 L437.7 354.9 L431.3 338.0 Z" fill="#1e6eeb"/>
<path d="M90.8 280.9 L103.4 272.4 L128.8 268.2 L150.0 269.3 L166.9 274.5 L179.6 287.2 L183.8 299.9 L192.3 304.1 L209.2 302.0 L230.3 308.4 L234.5 310.5 L247.2 314.7 L230.3 321.1 L209.2 325.3 L188.0 333.8 L175.3 329.5 L158.4 321.1 L139.4 323.2 L120.4 316.8 L103.4 304.1 L92.9 293.6 Z" fill="#50a5f5"/>
<path d="M245.1 293.6 L262.0 283.0 L283.2 280.9 L300.1 283.0 L306.4 293.6 L302.2 308.4 L289.5 310.5 L272.6 308.4 L251.5 302.0 Z" fill="#50a5f5"/>
<path d="M150.0 270.0 L161.0 274.4 L183.1 297.6 L205.2 306.4 L218.4 303.1 L236.1 309.7 L218.4 327.4 L203.0 345.0 L194.1 340.6 L183.1 336.2 L166.6 318.6 L150.0 321.9 Z" fill="#50a5f5"/>
<path d="M114.0 291.5 L120.4 280.9 L135.2 277.7 L152.1 280.9 L162.6 295.7 L154.2 306.3 L137.3 312.6 L122.5 304.1 Z" fill="#1e6eeb"/>
<path d="M303.7 344.5 L310.0 334.6 L317.4 327.1 L331.1 334.6 L347.3 344.5 L359.7 355.7 L367.2 368.2 L368.4 380.6 L362.2 393.0 L353.5 399.3 L343.5 406.7 L337.3 415.4 L328.6 421.6 L318.7 424.1 L310.0 424.1 L300.0 422.9 L293.8 374.4 Z" fill="#50a5f5"/>
<path d="M307.5 344.5 L314.9 335.8 L322.4 334.6 L337.3 345.8 L349.8 355.7 L359.7 368.2 L362.2 376.9 L354.7 384.3 L343.5 389.3 L327.4 394.3 L318.7 391.8 L310.0 380.6 L307.5 361.9 Z" fill="#1e6eeb"/>
<path d="M317.4 352.0 L327.4 355.7 L337.3 361.9 L342.3 374.4 L342.3 379.4 L331.1 380.6 L321.1 376.9 L316.2 368.2 Z" fill="#0a0fc8"/>
<path d="M301.5 400.0 L348.0 400.0 L348.0 421.1 L339.6 442.3 L331.1 463.4 L322.6 469.8 L310.0 463.4 L295.2 452.9 L282.5 450.8 L284.6 431.7 L295.2 410.6 Z" fill="#50a5f5"/>
<path d="M282.5 442.3 L305.7 423.3 L324.8 427.5 L322.6 452.9 L314.2 463.4 L310.0 450.8 L282.5 450.8 Z" fill="#1e6eeb"/>
<path d="M318.4 514.2 L337.4 505.7 L369.2 499.4 L400.9 503.6 L419.9 510.0 L422.0 526.9 L411.5 543.8 L400.9 552.3 L390.3 564.9 L379.7 569.2 L369.2 567.1 L358.6 560.7 L348.0 548.0 L326.9 545.9 L318.4 537.4 Z" fill="#50a5f5"/>
<path d="M390.3 558.6 L422.0 556.5 L428.4 569.2 L419.9 581.9 L400.9 577.6 L390.3 569.2 Z" fill="#50a5f5"/>
<path d="M411.5 560.7 L417.8 558.6 L418.9 564.9 L412.5 564.9 Z" fill="#1e6eeb"/>
<path d="M390.3 607.2 L403.0 603.0 L415.7 611.5 L419.9 632.6 L390.3 632.6 Z" fill="#50a5f5"/>
<path d="M390.3 626.3 L403.0 624.1 L405.1 630.5 L392.4 630.5 Z" fill="#1e6eeb"/>
<path d="M449.5 622.0 L470.7 619.9 L472.8 639.0 L462.2 641.1 L451.6 632.6 Z" fill="#50a5f5"/>
<path d="M348.0 653.8 L364.9 643.2 L386.1 634.7 L411.5 632.6 L428.4 639.0 L443.2 649.5 L445.3 664.3 L441.1 681.2 L422.0 685.5 L403.0 677.0 L403.0 660.1 L390.3 643.2 L379.7 647.4 L373.4 666.4 L362.8 668.6 L350.1 662.2 Z" fill="#50a5f5"/>
<path d="M415.7 662.2 L434.7 661.2 L434.7 666.4 L415.7 666.4 Z" fill="#1e6eeb"/>
<path d="M420.0 529.3 L427.5 525.5 L431.2 547.9 L427.5 566.6 L420.0 575.9 Z" fill="#50a5f5"/>
</g>
<path d="M227.4 140.9 L236.7 145.2 L238.8 152.4 L241.0 158.1 L242.4 165.3 L241.0 175.3 L245.3 183.9 L242.4 191.0 L249.6 196.7 L253.9 201.0 L257.4 201.7 L258.1 193.9 L261.0 189.6 L265.0 186.7" fill="none" stroke="#000" stroke-width="0.9"/>
<path d="M265.0 186.7 L270.7 191.0 L275.7 191.7 L279.3 188.1 L282.2 178.1 L283.6 174.6 L302.9 174.6" fill="none" stroke="#000" stroke-width="0.9"/>
<path d="M301.5 156.0 L302.5 163.8 L302.9 174.6 L305.1 185.3 L307.9 189.6 L313.6 195.3 L319.4 199.6 L325.1 203.9 L332.2 206.7 L338.0 211.0 L342.2 214.6 L339.4 216.0 L333.7 219.6 L339.4 218.9 L343.7 216.0 L342.2 219.6 L339.4 226.8 L335.1 235.3 L329.4 246.8 L322.2 261.1 L315.1 275.4 L310.8 285.4 L309.3 291.1 L312.2 298.3 L315.1 304.0 L316.5 308.0" fill="none" stroke="#000" stroke-width="0.9"/>
<path d="M371.6 136.6 L371.6 146.7 L379.4 149.5 L388.0 155.2 L393.7 161.0 L398.0 169.5 L402.3 181.0 L408.0 191.0 L413.8 196.7 L419.5 198.2" fill="none" stroke="#000" stroke-width="0.9"/>
<path d="M405.9 204.6 L413.8 201.0 L419.5 198.9 L426.6 192.4 L432.4 185.3 L439.5 178.1 L446.7 171.0 L451.0 163.8" fill="none" stroke="#000" stroke-width="0.9"/>
<path d="M426.6 206.7 L427.4 215.3 L433.8 219.6 L437.4 213.9 L442.4 207.5 L451.0 208.9 L459.5 206.0 L468.1 203.9 L478.1 202.4 L476.7 195.3 L475.3 189.6 L468.1 183.9 L455.2 178.1 L443.8 181.0 L436.6 186.7 L430.9 195.3 L426.6 206.7" fill="none" stroke="#000" stroke-width="0.9"/>
<path d="M436.6 221.0 L439.5 211.0 L440.9 203.9" fill="none" stroke="#000" stroke-width="0.9"/>
<path d="M459.5 219.6 L462.4 209.6 L466.7 203.9" fill="none" stroke="#000" stroke-width="0.9"/>
<path d="M495.0 246.8 L483.9 258.2 L472.4 265.4" fill="none" stroke="#000" stroke-width="0.9"/>
<path d="M471.5 267.0 L475.5 268.0 L478.5 269.0 L480.5 271.9 L478.5 275.9 L477.5 279.9 L474.5 283.9 L471.5 287.9 L466.6 290.8 L463.6 293.8 L462.6 299.8 L463.6 305.8 L463.6 311.7 L461.6 317.7 L457.6 323.7 L453.6 329.7 L449.7 335.6 L446.7 341.6 L443.7 349.6 L440.7 357.5 L438.7 365.5 L438.7 373.4 L439.7 381.4 L441.7 387.4 L443.7 389.4 L445.7 386.4 L443.7 390.3 L441.7 394.3 L439.7 401.3 L436.7 409.3 L433.7 415.2 L432.7 420.0" fill="none" stroke="#000" stroke-width="0.9"/>
<path d="M380.0 338.6 L445.7 342.1" fill="none" stroke="#000" stroke-width="0.9"/>
<path d="M444.7 391.3 L449.7 393.3 L455.6 395.3 L461.6 397.3 L463.6 391.3 L465.6 388.4 L467.6 390.3 L469.6 396.3 L474.5 396.3 L479.5 397.3 L484.5 399.3 L487.5 399.3 L489.5 397.3 L494.4 396.3 L499.4 394.3 L505.4 392.3 L512.3 391.3" fill="none" stroke="#000" stroke-width="0.9"/>
<path d="M514.3 197.2 L515.0 201.5 L513.6 208.6 L510.8 217.2 L507.9 224.3 L505.0 231.5 L500.0 238.6 L494.3 245.8 L488.6 251.5 L482.9 257.2 L480.0 260.1" fill="none" stroke="#000" stroke-width="0.9"/>
<path d="M485.3 268.2 L492.4 275.4 L493.9 284.0 L489.6 296.9 L492.4 308.0" fill="none" stroke="#000" stroke-width="0.9"/>
<path d="M480.0 265.1 L485.7 265.8 L491.4 268.7 L493.6 277.3 L494.3 284.4 L492.9 293.0 L490.0 298.7 L491.4 303.0 L497.2 307.3 L502.9 310.2 L507.2 311.6 L507.9 315.9 L504.3 320.2 L501.5 324.5 L500.0 328.8 L502.9 333.1 L505.7 337.3 L508.6 344.5 L514.3 350.2 L518.6 351.6" fill="none" stroke="#000" stroke-width="0.9"/>
<path d="M518.6 351.6 L512.9 355.9 L508.6 361.7 L507.9 366.0 L511.5 371.7 L513.6 377.4 L512.9 387.4 L513.6 394.6 L512.9 403.1 L512.2 410.0" fill="none" stroke="#000" stroke-width="0.9"/>
<path d="M586.6 225.1 L580.1 231.5 L574.4 235.8 L570.1 241.5 L567.3 248.7 L568.0 255.8 L566.5 263.0 L565.1 271.5 L565.8 278.7 L568.7 283.0 L567.3 287.3 L561.5 290.1 L551.5 290.1 L545.8 293.0 L540.1 297.3 L532.9 301.6 L527.2 304.4 L524.3 308.7 L522.9 315.9 L520.1 323.0 L518.6 330.2 L518.6 337.3 L520.1 344.5 L519.3 350.2" fill="none" stroke="#000" stroke-width="0.9"/>
<path d="M594.4 226.5 L593.0 234.4 L594.4 240.1 L597.3 248.7 L600.2 260.1 L601.6 268.7 L603.0 280.1 L605.9 288.7 L608.7 294.4 L607.3 301.6 L605.9 308.7 L605.9 317.3 L600.2 321.6 L594.4 324.5" fill="none" stroke="#000" stroke-width="0.9"/>
<path d="M594.4 324.5 L588.7 328.8 L580.1 331.6 L571.5 335.9 L565.8 337.3 L560.1 334.5 L554.4 334.5 L553.0 338.8 L554.4 344.5 L553.0 348.8 L548.7 353.1 L542.9 355.9 L537.2 358.8 L531.5 358.8 L525.8 355.9 L521.5 351.6 L518.6 351.6" fill="none" stroke="#000" stroke-width="0.9"/>
<path d="M605.9 301.6 L614.5 301.6 L623.0 303.0 L628.8 305.9 L633.1 308.7 L637.3 305.9" fill="none" stroke="#000" stroke-width="0.9"/>
<path d="M594.4 324.5 L598.7 325.9 L601.6 331.6 L605.9 335.9 L608.7 334.5 L614.5 330.2 L620.2 324.5 L625.9 321.6 L631.6 324.5 L637.3 324.5 L643.1 328.8 L647.4 335.9 L651.6 338.8 L658.8 340.2 L666.0 344.5 L671.7 348.8 L676.0 353.1" fill="none" stroke="#000" stroke-width="0.9"/>
<path d="M663.1 259.4 L657.4 261.5 L653.1 267.3 L648.8 274.4 L643.1 280.1 L640.2 285.9 L638.8 293.0 L640.2 300.2 L638.8 305.9" fill="none" stroke="#000" stroke-width="0.9"/>
<path d="M640.2 285.9 L645.9 283.0 L651.6 280.1 L657.4 278.7 L661.7 280.1 L660.2 285.9 L664.5 290.1 L668.8 293.0 L673.1 293.0 L674.5 284.4 L680.3 284.4 L687.4 285.9 L694.6 286.6 L700.3 286.6" fill="none" stroke="#000" stroke-width="0.9"/>
<path d="M638.8 305.9 L644.5 307.3 L651.6 304.4 L658.8 301.6 L664.5 301.6 L666.0 305.9 L668.8 308.7 L673.1 310.2 L680.3 308.7 L687.4 305.9 L691.7 303.0 L697.4 301.6 L702.4 303.0" fill="none" stroke="#000" stroke-width="0.9"/>
<path d="M647.4 335.9 L655.9 327.3 L661.7 328.8 L666.0 331.6 L673.1 328.8 L680.3 327.3 L687.4 325.9 L694.6 325.9 L698.9 327.3" fill="none" stroke="#000" stroke-width="0.9"/>
<path d="M647.4 335.9 L651.6 340.2 L655.9 345.9 L653.1 351.6 L647.4 358.8 L645.9 363.1 L650.2 367.4 L655.9 371.7 L660.2 366.0" fill="none" stroke="#000" stroke-width="0.9"/>
<path d="M514.4 400.0 L513.0 408.6 L514.4 414.3 L517.3 420.0 L517.3 428.6" fill="none" stroke="#000" stroke-width="0.9"/>
<path d="M517.3 430.0 L524.4 427.2 L533.0 422.9 L540.2 418.6 L547.3 415.7 L553.1 418.6 L554.5 422.9 L561.6 422.9 L568.8 425.7 L575.9 428.6 L584.5 430.0 L590.2 434.3" fill="none" stroke="#000" stroke-width="0.9"/>
<path d="M593.8 436.7 L594.8 439.7 L599.8 439.7 L604.8 440.7 L609.8 441.7 L614.7 443.7 L618.2 447.7 L617.7 450.6 L613.7 453.6 L611.7 457.6 L608.8 459.6 L607.8 462.6 L606.8 467.6 L608.8 470.5 L611.7 473.5 L613.7 476.5 L617.7 479.5 L621.7 482.5" fill="none" stroke="#000" stroke-width="0.9"/>
<path d="M612.7 476.5 L606.8 476.5 L602.8 478.5 L599.8 480.5 L597.8 484.5 L599.8 489.5 L596.8 492.4 L599.8 494.4 L600.8 499.4 L599.8 504.4 L597.8 508.4 L595.8 512.3 L591.8 515.3 L586.9 516.3 L585.9 521.3 L584.9 525.3 L587.9 530.2 L589.9 531.2 L594.8 532.2 L599.8 532.7" fill="none" stroke="#000" stroke-width="0.9"/>
<path d="M586.0 525.9 L583.1 531.6 L578.8 537.3 L577.4 541.6 L571.6 543.0 L564.5 544.5 L557.3 545.9 L550.2 547.3 L543.0 550.2 L535.9 551.6 L528.7 554.5 L521.6 557.3 L514.4 558.8 L510.1 557.3 L507.3 551.6 L505.9 543.0 L507.3 537.3 L503.0 534.5 L500.1 528.7 L497.3 524.4 L495.8 520.2 L494.4 514.4 L491.5 511.6 L485.8 511.6 L480.1 513.0 L474.4 513.0 L468.7 514.4 L467.2 518.7 L464.4 515.9 L461.5 511.6 L454.4 510.1 L447.2 510.1 L441.5 508.7 L435.8 510.9 L432.9 514.4 L428.6 518.7 L424.3 524.4 L420.0 534.5 L414.3 543.0 L408.6 548.8 L400.0 553.1" fill="none" stroke="#000" stroke-width="0.9"/>
<path d="M535.9 551.6 L539.5 557.3 L537.3 564.5" fill="none" stroke="#000" stroke-width="0.9"/>
<path d="M485.8 485.1 L491.5 481.5 L494.4 474.4 L493.0 465.8 L494.4 460.1 L493.0 454.4 L494.4 445.8" fill="none" stroke="#000" stroke-width="0.9"/>
<path d="M480.1 437.2 L494.4 437.2 L494.4 445.8 L479.4 445.8 L480.1 437.2" fill="none" stroke="#000" stroke-width="0.9"/>
<path d="M494.4 445.8 L500.1 444.3 L503.0 441.5 L502.3 435.8 L503.0 430.0 L507.3 425.7 L510.1 423.6 L513.0 425.7 L517.3 430.0" fill="none" stroke="#000" stroke-width="0.9"/>
<path d="M400.0 484.4 L405.7 488.7 L414.3 493.0 L421.5 495.8 L428.6 498.7 L435.8 503.0" fill="none" stroke="#000" stroke-width="0.9"/>
<path d="M435.8 503.0 L440.1 493.0 L445.8 488.7 L454.4 487.3 L461.5 485.8 L468.7 483.7 L475.8 484.4 L484.4 485.8 L491.5 481.5" fill="none" stroke="#000" stroke-width="0.9"/>
<path d="M435.8 503.0 L434.3 510.1" fill="none" stroke="#000" stroke-width="0.9"/>
<path d="M438.6 400.0 L435.8 408.6 L432.9 418.6 L425.7 428.6 L421.5 435.8 L417.2 442.9 L408.6 451.5 L402.9 457.2 L400.0 461.5" fill="none" stroke="#000" stroke-width="0.9"/>
<path d="M388.7 616.5 L400.1 618.7 L408.7 620.1 L418.7 621.5 L425.9 622.2 L428.7 620.1 L430.2 617.2 L437.3 614.4 L444.5 613.0 L450.2 613.0 L455.9 614.4 L461.6 613.0 L467.4 611.5 L473.1 611.5" fill="none" stroke="#000" stroke-width="0.9"/>
<path d="M388.7 630.1 L400.1 631.5 L408.7 633.0 L417.3 635.8 L424.4 638.7 L430.2 643.0 L435.9 648.7 L440.2 653.0 L447.3 654.4 L454.5 654.4 L453.1 660.2 L450.2 664.4 L448.8 667.3 L454.5 667.3" fill="none" stroke="#000" stroke-width="0.9"/>
<path d="M380.1 578.6 L384.4 568.6 L388.7 561.5 L394.4 557.2 L400.1 554.3 L408.7 554.3 L417.3 555.0 L425.9 555.7 L434.5 557.2 L443.0 558.6 L451.6 561.5 L455.9 564.3 L457.3 571.5 L460.2 580.1 L463.1 587.2 L468.8 590.1 L474.5 591.5 L477.4 594.4 L480.2 597.2" fill="none" stroke="#000" stroke-width="0.9"/>
<path d="M400.1 554.3 L405.9 548.6 L411.6 544.3 L415.9 540.0" fill="none" stroke="#000" stroke-width="0.9"/>
<path d="M428.7 680.2 L430.2 688.8 L427.3 694.5 L423.0 698.8 L418.7 703.1 L415.9 708.8 L414.4 713.1" fill="none" stroke="#000" stroke-width="0.9"/>
<path d="M440.2 683.0 L437.3 688.8 L433.0 693.1 L428.7 697.3" fill="none" stroke="#000" stroke-width="0.9"/>
<path d="M55.0 297.2 L171.6 343.0 L178.8 335.8 L187.3 335.8 L191.6 334.4 L198.8 331.5 L205.9 328.7 L214.5 327.2 L217.4 320.1 L221.7 315.8 L226.0 311.5 L236.0 311.5 L241.7 315.8 L247.4 320.1 L253.1 324.4 L257.4 324.4" fill="none" stroke="#000" stroke-width="0.9"/>
<path d="M257.2 324.3 L257.9 335.8 L258.6 347.2 L258.6 361.5 L277.2 361.5 L283.0 364.4 L284.4 371.5 L285.8 380.1 L285.8 387.3 L281.5 394.4 L277.2 400.1 L273.0 405.9" fill="none" stroke="#000" stroke-width="0.9"/>
<path d="M257.2 324.3 L310.1 324.3 L311.6 314.3 L314.4 300.0" fill="none" stroke="#000" stroke-width="0.9"/>
<path d="M314.4 300.0 L323.0 318.6 L328.7 327.2 L337.3 332.9 L343.0 335.8 L357.3 337.2 L386.0 339.3 L430.0 341.5" fill="none" stroke="#000" stroke-width="0.9"/>
<path d="M323.0 475.9 L328.7 475.9 L337.3 470.2 L343.0 465.9 L350.2 464.5 L357.3 468.8 L364.5 473.1 L371.6 471.6 L380.2 470.2 L386.0 465.9 L388.8 467.4 L386.0 474.5 L384.5 477.4 L390.2 478.8 L397.4 478.8 L400.3 484.5 L403.1 490.2 L414.6 494.5 L423.1 497.4 L430.0 498.8" fill="none" stroke="#000" stroke-width="0.9"/>
<path d="M430.0 428.7 L423.1 431.6 L420.3 438.7 L414.6 444.5 L408.8 450.2 L403.1 457.3 L398.8 464.5 L397.4 471.6 L397.4 478.8" fill="none" stroke="#000" stroke-width="0.9"/>
<use href="#brzline"/>
<rect x="35.3" y="78" width="680.7" height="684" fill="none" stroke="#000" stroke-width="2"/>
<line x1="31" y1="94.5" x2="35.3" y2="94.5" stroke="#000" stroke-width="1"/>
<text x="26.4" y="101.7" font-size="20" text-anchor="end" textLength="17.0" lengthAdjust="spacingAndGlyphs" style="font-family:'Liberation Serif',serif" >5N</text>
<line x1="31" y1="177.9" x2="35.3" y2="177.9" stroke="#000" stroke-width="1"/>
<text x="26.4" y="185.1" font-size="20" text-anchor="end" textLength="17.0" lengthAdjust="spacingAndGlyphs" style="font-family:'Liberation Serif',serif" >EQ</text>
<line x1="31" y1="261.4" x2="35.3" y2="261.4" stroke="#000" stroke-width="1"/>
<text x="26.4" y="268.6" font-size="20" text-anchor="end" textLength="17.0" lengthAdjust="spacingAndGlyphs" style="font-family:'Liberation Serif',serif" >5S</text>
<line x1="31" y1="344.9" x2="35.3" y2="344.9" stroke="#000" stroke-width="1"/>
<text x="26.4" y="352.1" font-size="20" text-anchor="end" textLength="25.5" lengthAdjust="spacingAndGlyphs" style="font-family:'Liberation Serif',serif" >10S</text>
<line x1="31" y1="428.3" x2="35.3" y2="428.3" stroke="#000" stroke-width="1"/>
<text x="26.4" y="435.5" font-size="20" text-anchor="end" textLength="25.5" lengthAdjust="spacingAndGlyphs" style="font-family:'Liberation Serif',serif" >15S</text>
<line x1="31" y1="511.8" x2="35.3" y2="511.8" stroke="#000" stroke-width="1"/>
<text x="26.4" y="519.0" font-size="20" text-anchor="end" textLength="25.5" lengthAdjust="spacingAndGlyphs" style="font-family:'Liberation Serif',serif" >20S</text>
<line x1="31" y1="595.2" x2="35.3" y2="595.2" stroke="#000" stroke-width="1"/>
<text x="26.4" y="602.4" font-size="20" text-anchor="end" textLength="25.5" lengthAdjust="spacingAndGlyphs" style="font-family:'Liberation Serif',serif" >25S</text>
<line x1="31" y1="678.7" x2="35.3" y2="678.7" stroke="#000" stroke-width="1"/>
<text x="26.4" y="685.9" font-size="20" text-anchor="end" textLength="25.5" lengthAdjust="spacingAndGlyphs" style="font-family:'Liberation Serif',serif" >30S</text>
<line x1="31" y1="762.1" x2="35.3" y2="762.1" stroke="#000" stroke-width="1"/>
<text x="26.4" y="769.3" font-size="20" text-anchor="end" textLength="25.5" lengthAdjust="spacingAndGlyphs" style="font-family:'Liberation Serif',serif" >35S</text>
<line x1="35.3" y1="762" x2="35.3" y2="766.5" stroke="#000" stroke-width="1"/>
<text x="35.3" y="785.8" font-size="20" text-anchor="middle" textLength="26.5" lengthAdjust="spacingAndGlyphs" style="font-family:'Liberation Serif',serif" >75W</text>
<line x1="118.3" y1="762" x2="118.3" y2="766.5" stroke="#000" stroke-width="1"/>
<text x="118.3" y="785.8" font-size="20" text-anchor="middle" textLength="26.5" lengthAdjust="spacingAndGlyphs" style="font-family:'Liberation Serif',serif" >70W</text>
<line x1="201.3" y1="762" x2="201.3" y2="766.5" stroke="#000" stroke-width="1"/>
<text x="201.3" y="785.8" font-size="20" text-anchor="middle" textLength="26.5" lengthAdjust="spacingAndGlyphs" style="font-family:'Liberation Serif',serif" >65W</text>
<line x1="284.3" y1="762" x2="284.3" y2="766.5" stroke="#000" stroke-width="1"/>
<text x="284.3" y="785.8" font-size="20" text-anchor="middle" textLength="26.5" lengthAdjust="spacingAndGlyphs" style="font-family:'Liberation Serif',serif" >60W</text>
<line x1="367.3" y1="762" x2="367.3" y2="766.5" stroke="#000" stroke-width="1"/>
<text x="367.3" y="785.8" font-size="20" text-anchor="middle" textLength="26.5" lengthAdjust="spacingAndGlyphs" style="font-family:'Liberation Serif',serif" >55W</text>
<line x1="450.3" y1="762" x2="450.3" y2="766.5" stroke="#000" stroke-width="1"/>
<text x="450.3" y="785.8" font-size="20" text-anchor="middle" textLength="26.5" lengthAdjust="spacingAndGlyphs" style="font-family:'Liberation Serif',serif" >50W</text>
<line x1="533.3" y1="762" x2="533.3" y2="766.5" stroke="#000" stroke-width="1"/>
<text x="533.3" y="785.8" font-size="20" text-anchor="middle" textLength="26.5" lengthAdjust="spacingAndGlyphs" style="font-family:'Liberation Serif',serif" >45W</text>
<line x1="616.3" y1="762" x2="616.3" y2="766.5" stroke="#000" stroke-width="1"/>
<text x="616.3" y="785.8" font-size="20" text-anchor="middle" textLength="26.5" lengthAdjust="spacingAndGlyphs" style="font-family:'Liberation Serif',serif" >40W</text>
<line x1="699.3" y1="762" x2="699.3" y2="766.5" stroke="#000" stroke-width="1"/>
<text x="699.3" y="785.8" font-size="20" text-anchor="middle" textLength="26.5" lengthAdjust="spacingAndGlyphs" style="font-family:'Liberation Serif',serif" >35W</text>
<rect x="731" y="201" width="14" height="46" fill="#ff6400" stroke="#000" stroke-width="1.6"/>
<rect x="731" y="247" width="14" height="46" fill="#ffa000" stroke="#000" stroke-width="1.6"/>
<rect x="731" y="293" width="14" height="46" fill="#ffc03c" stroke="#000" stroke-width="1.6"/>
<rect x="731" y="339" width="14" height="46" fill="#fff7ab" stroke="#000" stroke-width="1.6"/>
<rect x="731" y="385" width="14" height="46" fill="#a9a9a9" stroke="#000" stroke-width="1.6"/>
<rect x="731" y="431" width="14" height="46" fill="#b2eefa" stroke="#000" stroke-width="1.6"/>
<rect x="731" y="477" width="14" height="46" fill="#96d2fa" stroke="#000" stroke-width="1.6"/>
<rect x="731" y="523" width="14" height="46" fill="#50a5f5" stroke="#000" stroke-width="1.6"/>
<rect x="731" y="569" width="14" height="46" fill="#1e6eeb" stroke="#000" stroke-width="1.6"/>
<path d="M731 201 L738 155 L745 201 Z" fill="#ff3200" stroke="#000" stroke-width="1.6" stroke-linejoin="round"/>
<path d="M731 615 L738 661 L745 615 Z" fill="#0a0fc8" stroke="#000" stroke-width="1.6" stroke-linejoin="round"/>
<text x="749.5" y="207.3" font-size="18.5" textLength="7.6" lengthAdjust="spacingAndGlyphs" style="font-family:'Liberation Serif',serif;font-weight:bold">3</text>
<text x="749.5" y="253.3" font-size="18.5" textLength="7.6" lengthAdjust="spacingAndGlyphs" style="font-family:'Liberation Serif',serif;font-weight:bold">2</text>
<text x="749.5" y="299.3" font-size="18.5" textLength="21" lengthAdjust="spacingAndGlyphs" style="font-family:'Liberation Serif',serif;font-weight:bold">1.5</text>
<text x="749.5" y="345.3" font-size="18.5" textLength="5.6" lengthAdjust="spacingAndGlyphs" style="font-family:'Liberation Serif',serif;font-weight:bold">1</text>
<text x="749.5" y="391.3" font-size="18.5" textLength="21" lengthAdjust="spacingAndGlyphs" style="font-family:'Liberation Serif',serif;font-weight:bold">0.5</text>
<rect x="750.1" y="430.8" width="8.6" height="1.5" fill="#000"/>
<text x="761" y="437.3" font-size="18.5" textLength="20" lengthAdjust="spacingAndGlyphs" style="font-family:'Liberation Serif',serif;font-weight:bold">0.5</text>
<rect x="750.1" y="476.8" width="8.6" height="1.5" fill="#000"/>
<text x="761" y="483.3" font-size="18.5" textLength="5.6" lengthAdjust="spacingAndGlyphs" style="font-family:'Liberation Serif',serif;font-weight:bold">1</text>
<rect x="750.1" y="522.8" width="8.6" height="1.5" fill="#000"/>
<text x="761" y="529.3" font-size="18.5" textLength="19.5" lengthAdjust="spacingAndGlyphs" style="font-family:'Liberation Serif',serif;font-weight:bold">1.5</text>
<rect x="750.1" y="568.8" width="8.6" height="1.5" fill="#000"/>
<text x="761" y="575.3" font-size="18.5" textLength="7.6" lengthAdjust="spacingAndGlyphs" style="font-family:'Liberation Serif',serif;font-weight:bold">2</text>
<rect x="750.1" y="614.8" width="8.6" height="1.5" fill="#000"/>
<text x="761" y="621.3" font-size="18.5" textLength="7.6" lengthAdjust="spacingAndGlyphs" style="font-family:'Liberation Serif',serif;font-weight:bold">3</text>
<text transform="translate(795,354.3) rotate(-90)" font-size="17" text-anchor="middle" textLength="34.5" lengthAdjust="spacingAndGlyphs" style="font-family:'Liberation Serif',serif">( °C )</text>
<use href="#logo"/>
</g><g transform="translate(816,-1)">
<text x="217.6" y="22.8" font-size="21.5" textLength="96.1" lengthAdjust="spacingAndGlyphs" style="font-family:'Liberation Serif',serif;font-weight:bold">ANOMALIAS</text>
<text x="325.3" y="22.8" font-size="21.5" textLength="21.0" lengthAdjust="spacingAndGlyphs" style="font-family:'Liberation Serif',serif;font-weight:bold">DE</text>
<text x="359.1" y="22.8" font-size="21.5" textLength="136.9" lengthAdjust="spacingAndGlyphs" style="font-family:'Liberation Serif',serif;font-weight:bold">TEMPERATURAS</text>
<text x="508.2" y="22.8" font-size="21.5" textLength="63.0" lengthAdjust="spacingAndGlyphs" style="font-family:'Liberation Serif',serif;font-weight:bold">MEDIAS</text>
<text x="258.7" y="45.6" font-size="21.5" textLength="60.7" lengthAdjust="spacingAndGlyphs" style="font-family:'Liberation Serif',serif;font-weight:bold">VALIDO</text>
<text x="330.4" y="45.6" font-size="21.5" textLength="45.1" lengthAdjust="spacingAndGlyphs" style="font-family:'Liberation Serif',serif;font-weight:bold">PARA</text>
<text x="385.6" y="45.6" font-size="21.5" textLength="58.0" lengthAdjust="spacingAndGlyphs" style="font-family:'Liberation Serif',serif;font-weight:bold">JUNHO</text>
<text x="454.6" y="45.6" font-size="21.5" textLength="22.1" lengthAdjust="spacingAndGlyphs" style="font-family:'Liberation Serif',serif;font-weight:bold">DE</text>
<text x="490.5" y="45.6" font-size="21.5" textLength="39.5" lengthAdjust="spacingAndGlyphs" style="font-family:'Liberation Serif',serif;font-weight:bold">1976</text>
<text x="202.4" y="69.2" font-size="21.5" textLength="124.4" lengthAdjust="spacingAndGlyphs" style="font-family:'Liberation Serif',serif;font-weight:bold">CLIMATOLOGIA</text>
<text x="337.2" y="69.2" font-size="21.5" textLength="22.1" lengthAdjust="spacingAndGlyphs" style="font-family:'Liberation Serif',serif;font-weight:bold">DE</text>
<text x="370.4" y="69.2" font-size="21.5" textLength="115.1" lengthAdjust="spacingAndGlyphs" style="font-family:'Liberation Serif',serif;font-weight:bold">REFERENCIA:</text>
<text x="486.9" y="69.2" font-size="21.5" textLength="41.7" lengthAdjust="spacingAndGlyphs" style="font-family:'Liberation Serif',serif;font-weight:bold">1981</text>
<text x="530.5" y="69.2" font-size="21.5" textLength="10.0" lengthAdjust="spacingAndGlyphs" style="font-family:'Liberation Serif',serif;font-weight:bold">−</text>
<text x="544.5" y="69.2" font-size="21.5" textLength="42.3" lengthAdjust="spacingAndGlyphs" style="font-family:'Liberation Serif',serif;font-weight:bold">2010</text>
<line x1="305.5" y1="27.3" x2="313.7" y2="4.5" stroke="#000" stroke-width="1"/>
<line x1="486.7" y1="27.3" x2="495.5" y2="4.5" stroke="#000" stroke-width="1"/>
<line x1="562.4" y1="27.3" x2="571.2" y2="4.5" stroke="#000" stroke-width="1"/>
<line x1="211.6" y1="50.3" x2="210.6" y2="58.3" stroke="#000" stroke-width="1"/>
<line x1="308.4" y1="50.9" x2="307.4" y2="59.5" stroke="#000" stroke-width="1"/>
<line x1="462.3" y1="50.9" x2="461.3" y2="59.5" stroke="#000" stroke-width="1"/>
<g clip-path="url(#brz)">
<rect x="40" y="80" width="680" height="680" fill="#b2eefa"/>
<path d="M217.6 147.7 L236.7 141.3 L262.0 142.4 L283.2 147.7 L300.1 155.1 L312.8 161.4 L314.9 173.0 L317.0 190.0 L314.9 206.9 L312.8 223.8 L308.6 240.7 L302.2 253.4 L289.5 259.7 L276.8 255.5 L268.4 244.9 L259.9 228.0 L249.3 215.3 L243.0 206.9 L243.0 198.4 L240.9 185.7 L238.8 168.8 L226.1 156.1 Z" fill="#a9a9a9"/>
<path d="M321.2 160.4 L336.0 151.9 L357.2 141.3 L380.0 135.0 L380.6 141.3 L391.1 160.4 L401.7 175.2 L412.3 187.8 L425.0 198.4 L418.6 206.9 L408.1 211.1 L395.4 215.3 L386.9 209.0 L378.5 206.9 L380.0 215.3 L367.8 221.7 L350.8 223.8 L340.3 213.2 L329.7 198.4 L323.4 185.7 L321.2 173.0 Z" fill="#a9a9a9"/>
<path d="M437.7 179.4 L458.8 177.3 L475.7 181.5 L477.8 196.3 L473.6 211.1 L469.4 228.0 L454.6 225.9 L439.8 215.3 L433.4 206.9 L435.6 190.0 Z" fill="#a9a9a9"/>
<path d="M418.6 107.5 L431.3 103.3 L437.7 113.8 L435.6 122.3 L420.8 120.2 Z" fill="#a9a9a9"/>
<path d="M179.6 259.7 L188.0 240.7 L204.9 223.8 L217.6 217.4 L230.3 225.9 L236.7 240.7 L234.5 255.5 L221.9 270.3 L204.9 273.5 L188.0 270.3 Z" fill="#a9a9a9"/>
<path d="M124.6 215.3 L137.3 223.8 L143.6 244.9 L135.2 255.5 L114.0 259.7 L92.9 264.0 L80.2 274.5 L78.1 291.5 L82.3 304.1 L103.4 312.6 L114.0 323.2 L120.4 333.8 L126.7 346.4 L120.4 363.4 L40.0 363.4 L40.0 215.3 Z" fill="#a9a9a9"/>
<path d="M188.0 397.2 L204.9 378.2 L219.7 367.6 L240.9 357.0 L257.8 348.6 L272.6 342.2 L272.6 365.5 L274.7 386.6 L276.8 403.5 L272.6 420.0 L230.3 439.5 L188.0 418.3 Z" fill="#a9a9a9"/>
<path d="M319.1 278.8 L331.8 253.4 L344.5 240.7 L353.0 236.5 L365.6 240.7 L380.0 249.2 L382.7 249.2 L397.5 259.7 L408.1 270.3 L412.3 283.0 L410.2 302.0 L406.0 311.0 L408.5 325.9 L413.5 338.3 L418.5 348.3 L422.2 358.2 L425.9 368.2 L433.4 378.1 L439.6 388.1 L445.8 395.5 L453.3 400.5 L458.3 408.0 L460.8 415.4 L459.5 425.4 L455.8 435.3 L450.8 442.8 L438.4 442.8 L425.9 441.5 L413.5 442.8 L401.1 445.3 L399.8 449.0 L408.5 454.0 L419.7 455.2 L428.4 465.2 L432.2 481.3 L430.9 492.5 L432.2 501.0 L411.5 499.4 L390.3 490.9 L369.2 484.6 L348.0 474.0 L335.3 465.6 L326.9 452.9 L324.8 425.4 L335.3 412.7 L338.9 410.5 L356.3 404.2 L366.2 399.3 L371.2 388.1 L372.5 375.6 L372.5 363.2 L368.7 350.8 L361.3 338.3 L348.8 325.9 L338.9 313.4 L332.7 301.0 Z" fill="#a9a9a9"/>
<path d="M534.9 206.9 L534.0 181.0 L734.0 181.0 L734.0 566.0 L604.0 566.0 L561.8 561.0 L550.6 553.5 L535.7 551.6 L520.7 558.2 L507.7 555.4 L504.0 542.3 L494.6 533.0 L481.6 527.4 L466.6 525.5 L451.7 533.0 L442.4 521.8 L438.7 510.6 L434.9 503.1 L448.0 491.9 L457.3 484.5 L472.2 477.0 L485.3 473.3 L500.2 477.0 L509.6 460.2 L511.4 443.4 L505.8 426.6 L498.4 411.7 L517.0 398.7 L517.0 380.0 L527.4 384.6 L533.3 378.7 L528.6 370.4 L525.0 360.9 L523.9 352.7 L518.0 349.1 L515.6 343.2 L510.9 335.0 L506.1 331.4 L496.7 331.4 L482.5 331.4 L480.2 325.5 L484.9 323.1 L499.1 322.0 L505.0 316.1 L508.5 307.8 L509.7 299.5 L512.1 293.6 L520.3 291.2 L532.1 287.7 L543.9 286.5 L555.8 286.5 L567.6 284.2 L584.0 280.6 L589.0 280.8 L600.8 284.3 L606.7 291.4 L607.9 299.7 L618.5 300.9 L630.3 304.4 L638.6 303.3 L637.4 293.8 L630.3 287.9 L616.2 283.2 L610.3 276.1 L612.6 261.9 L606.7 250.1 L600.8 247.7 L594.9 246.5 L583.1 246.5 L571.3 246.5 L559.4 244.2 L547.6 238.3 L537.0 231.2 Z" fill="#a9a9a9"/>
<path d="M348.0 584.0 L373.4 584.0 L384.0 573.4 L400.9 571.3 L422.0 577.6 L443.2 586.1 L464.3 590.3 L474.9 588.2 L481.2 581.9 L491.8 575.5 L506.6 575.5 L496.0 590.3 L479.1 603.0 L474.9 611.5 L470.7 624.1 L453.8 628.4 L439.0 634.7 L430.5 628.4 L424.1 611.5 L411.5 607.2 L390.3 605.1 L377.6 603.0 L348.0 603.0 Z" fill="#a9a9a9"/>
<path d="M420.0 581.5 L466.6 585.2 L481.6 577.8 L498.4 585.2 L476.0 613.2 L472.2 635.6 L448.0 637.5 L431.2 631.9 L420.0 622.5 Z" fill="#a9a9a9"/>
<path d="M318.4 681.2 L337.4 668.6 L348.0 681.2 L356.5 696.0 L375.5 700.3 L384.0 683.4 L400.9 681.2 L422.0 679.1 L441.1 677.0 L451.6 670.7 L464.3 662.2 L485.5 674.9 L474.9 759.5 L326.9 759.5 Z" fill="#a9a9a9"/>
<path d="M242.3 395.8 L276.1 395.8 L276.1 406.3 L263.4 408.5 Z" fill="#a9a9a9"/>
<path d="M651.6 252.4 L662.2 258.4 L689.4 263.1 L724.9 261.9 L724.9 391.9 L648.1 391.9 L630.3 381.0 L632.7 368.2 L642.2 356.4 L649.3 344.6 L654.0 336.3 L659.9 326.9 L665.8 321.0 L677.6 317.4 L689.4 315.1 L693.0 309.2 L689.4 303.3 L683.5 291.4 L677.6 283.2 L671.7 278.4 L665.8 277.3 L654.0 279.6 L648.1 278.4 L649.3 267.8 Z" fill="#b2eefa"/>
<path d="M685.9 265.4 L691.8 263.1 L713.1 266.6 L713.1 280.8 L697.7 279.6 L691.8 273.7 Z" fill="#96d2fa"/>
<path d="M676.4 345.8 L682.3 342.2 L683.5 344.6 L677.6 348.2 Z" fill="#96d2fa"/>
<path d="M630.8 380.0 L681.2 370.7 L681.2 391.2 L643.9 391.2 L634.6 387.5 Z" fill="#a9a9a9"/>
<path d="M625.2 450.9 L630.8 454.6 L629.0 465.8 L625.2 462.1 Z" fill="#b2eefa"/>
<path d="M541.3 510.6 L559.9 510.6 L559.9 538.6 L561.8 557.2 L550.6 559.1 L541.3 547.9 L541.3 525.5 Z" fill="#b2eefa"/>
<path d="M599.1 516.2 L610.3 516.2 L606.6 525.5 L599.1 534.9 Z" fill="#b2eefa"/>
<path d="M583.1 292.6 L587.8 295.0 L587.8 310.3 L594.9 316.3 L600.8 321.0 L613.8 324.5 L625.6 323.3 L636.3 326.9 L635.1 332.8 L628.0 339.9 L618.5 348.2 L609.1 356.4 L599.6 368.2 L592.5 375.3 L584.2 380.0 L574.9 391.2 L571.1 402.4 L578.6 417.3 L591.6 426.6 L602.8 436.0 L606.6 445.3 L602.8 454.6 L591.6 462.1 L578.6 467.7 L567.4 473.3 L550.6 469.6 L539.4 458.4 L528.2 445.3 L520.7 432.2 L517.0 411.7 L514.4 408.2 L518.0 399.9 L527.4 390.5 L539.2 384.6 L544.0 378.7 L539.2 366.9 L538.0 356.2 L541.6 348.0 L547.5 340.9 L555.8 332.6 L562.8 325.5 L571.1 317.2 L577.0 307.8 L579.4 297.2 Z" fill="#fff7ab"/>
<path d="M544.0 361.0 L552.0 347.0 L565.0 340.9 L579.0 343.0 L588.0 347.0 L589.0 359.0 L585.0 371.0 L582.0 383.0 L571.0 394.0 L566.0 404.0 L573.0 421.0 L584.0 430.4 L597.0 439.7 L599.0 449.0 L588.0 456.5 L569.0 462.0 L551.0 454.6 L539.0 441.6 L530.0 428.5 L526.0 413.6 L532.0 408.0 L544.0 405.8 L556.0 401.0 L562.0 393.0 L554.0 386.0 L546.0 376.0 Z" fill="#ffc03c"/>
<path d="M552.2 363.3 L566.4 351.5 L578.2 361.0 L567.6 384.6 Z" fill="#ffa000"/>
<path d="M535.7 413.6 L546.9 404.3 L558.1 408.0 L561.8 422.9 L574.9 436.0 L580.4 443.4 L569.3 450.9 L554.3 449.0 L543.1 439.7 L537.5 428.5 Z" fill="#ffa000"/>
<path d="M546.9 411.7 L550.6 408.0 L554.3 411.7 L552.5 415.4 Z" fill="#ff6400"/>
<path d="M388.6 422.9 L391.1 406.7 L396.1 394.3 L398.6 380.6 L401.1 375.6 L408.5 380.6 L416.0 388.1 L422.2 400.5 L428.4 410.5 L429.7 412.9 L425.9 422.9 L422.2 430.4 L413.5 431.6 L401.1 432.8 L391.1 430.4 Z" fill="#fff7ab"/>
<path d="M481.6 495.7 L485.3 495.7 L485.7 510.6 L481.6 512.8 L479.7 508.7 Z" fill="#fff7ab"/>
<path d="M209.2 109.6 L240.9 109.6 L272.6 92.7 L289.5 101.1 L291.6 115.9 L287.4 135.0 L272.6 132.9 L251.5 128.6 L230.3 122.3 L215.5 115.9 Z" fill="#96d2fa"/>
<path d="M240.9 111.7 L272.6 92.7 L289.5 101.1 L289.5 124.4 L272.6 120.2 L251.5 113.8 Z" fill="#50a5f5"/>
<path d="M103.4 143.4 L145.7 149.8 L139.4 168.8 L133.0 187.8 L103.4 190.0 Z" fill="#96d2fa"/>
<path d="M143.6 211.1 L154.2 198.4 L177.4 192.1 L202.8 186.8 L209.2 196.3 L200.7 211.1 L188.0 228.0 L175.3 244.9 L169.0 253.4 L158.4 238.6 L147.8 223.8 Z" fill="#96d2fa"/>
<path d="M99.2 278.8 L114.0 272.4 L135.2 269.3 L150.0 268.2 L162.6 274.5 L175.3 287.2 L177.4 299.9 L166.9 312.6 L152.1 319.0 L139.4 323.2 L128.8 316.8 L109.8 304.1 L101.3 291.5 Z" fill="#96d2fa"/>
<path d="M122.5 293.6 L133.0 283.0 L145.7 280.9 L156.3 287.2 L161.6 295.7 L154.2 302.0 L141.5 306.3 L128.8 302.0 Z" fill="#50a5f5"/>
<path d="M272.6 295.7 L285.3 291.5 L302.2 291.5 L304.3 304.1 L289.5 308.4 Z" fill="#96d2fa"/>
<path d="M302.2 359.1 L306.4 344.3 L314.0 323.4 L326.4 325.9 L338.9 332.1 L351.3 340.8 L361.3 353.2 L366.2 365.7 L366.2 378.1 L361.3 390.6 L351.3 395.5 L338.9 399.3 L326.4 399.3 L314.0 398.0 L304.3 380.3 Z" fill="#96d2fa"/>
<path d="M310.7 359.1 L314.9 338.0 L320.2 337.1 L332.7 348.3 L345.1 358.2 L351.3 370.7 L351.3 379.4 L338.9 384.3 L326.4 385.6 L314.0 381.8 Z" fill="#50a5f5"/>
<path d="M317.7 358.2 L321.5 360.7 L319.0 363.2 Z" fill="#1e6eeb"/>
<path d="M418.7 329.1 L423.5 313.7 L431.7 301.9 L443.5 293.6 L455.3 291.2 L467.2 293.6 L479.0 291.2 L487.2 293.6 L484.9 301.9 L479.0 307.8 L470.7 318.4 L468.3 325.5 L469.5 331.4 L475.4 337.3 L487.2 343.2 L499.1 349.1 L508.5 355.0 L518.0 360.9 L523.9 372.8 L522.7 379.8 L516.8 384.6 L510.9 390.5 L502.6 398.7 L490.8 404.7 L482.5 407.0 L473.1 402.3 L461.3 396.4 L449.4 390.5 L441.2 384.6 L434.1 375.1 L427.0 360.9 L421.1 344.4 Z" fill="#96d2fa"/>
<path d="M429.4 325.5 L434.1 313.7 L443.5 307.8 L451.8 306.6 L460.1 311.3 L461.3 319.6 L458.9 325.5 L461.3 335.0 L467.2 344.4 L479.0 349.1 L490.8 355.0 L502.6 363.3 L510.9 372.8 L510.9 379.8 L503.8 384.6 L490.8 379.8 L479.0 375.1 L461.3 372.8 L447.1 366.9 L437.6 360.9 L431.7 349.1 Z" fill="#50a5f5"/>
<path d="M451.8 360.9 L467.2 355.0 L484.9 362.1 L467.2 368.0 Z" fill="#1e6eeb"/>
<path d="M436.4 245.2 L449.4 238.1 L461.3 239.3 L475.4 245.2 L470.7 252.3 L453.0 253.4 Z" fill="#96d2fa"/>
<path d="M508.5 261.7 L518.0 254.6 L547.6 254.8 L571.3 258.4 L594.9 259.5 L597.3 264.3 L571.3 267.8 L547.6 266.6 L532.0 277.0 L518.0 279.4 L510.9 274.7 Z" fill="#96d2fa"/>
<path d="M295.2 493.0 L326.9 493.0 L348.0 499.4 L369.2 503.6 L390.3 510.0 L407.2 518.4 L417.8 522.6 L419.9 531.1 L411.5 543.8 L390.3 545.9 L364.9 548.0 L348.0 548.0 L326.9 548.0 L295.2 548.0 Z" fill="#96d2fa"/>
<path d="M403.0 552.3 L411.5 543.8 L422.0 535.3 L432.6 537.4 L453.8 543.8 L466.4 535.3 L474.9 539.6 L485.5 556.5 L500.3 554.4 L508.7 560.7 L517.2 571.3 L508.7 575.5 L491.8 567.1 L474.9 567.1 L462.2 569.2 L453.8 560.7 L428.4 560.7 L419.9 564.9 L407.2 560.7 Z" fill="#96d2fa"/>
<path d="M420.0 534.9 L438.7 540.4 L453.6 536.7 L466.6 534.9 L476.0 544.2 L481.6 555.4 L494.6 553.5 L505.8 559.1 L517.0 570.3 L509.6 577.8 L494.6 575.9 L481.6 566.6 L466.6 566.6 L453.6 561.0 L438.7 555.4 L420.0 555.4 Z" fill="#96d2fa"/>
<path d="M398.8 628.4 L415.7 627.3 L415.7 632.6 L400.9 632.6 Z" fill="#96d2fa"/>
<path d="M379.7 645.3 L390.3 636.8 L407.2 632.6 L409.3 641.1 L390.3 649.5 Z" fill="#96d2fa"/>
<path d="M405.1 660.1 L417.8 649.5 L432.6 653.8 L441.1 664.3 L432.6 668.6 L411.5 666.4 Z" fill="#96d2fa"/>
<path d="M420.0 644.9 L434.9 656.1 L440.5 663.6 L431.2 671.0 L420.0 671.0 Z" fill="#96d2fa"/>
</g>
<path d="M227.4 140.9 L236.7 145.2 L238.8 152.4 L241.0 158.1 L242.4 165.3 L241.0 175.3 L245.3 183.9 L242.4 191.0 L249.6 196.7 L253.9 201.0 L257.4 201.7 L258.1 193.9 L261.0 189.6 L265.0 186.7" fill="none" stroke="#000" stroke-width="0.9"/>
<path d="M265.0 186.7 L270.7 191.0 L275.7 191.7 L279.3 188.1 L282.2 178.1 L283.6 174.6 L302.9 174.6" fill="none" stroke="#000" stroke-width="0.9"/>
<path d="M301.5 156.0 L302.5 163.8 L302.9 174.6 L305.1 185.3 L307.9 189.6 L313.6 195.3 L319.4 199.6 L325.1 203.9 L332.2 206.7 L338.0 211.0 L342.2 214.6 L339.4 216.0 L333.7 219.6 L339.4 218.9 L343.7 216.0 L342.2 219.6 L339.4 226.8 L335.1 235.3 L329.4 246.8 L322.2 261.1 L315.1 275.4 L310.8 285.4 L309.3 291.1 L312.2 298.3 L315.1 304.0 L316.5 308.0" fill="none" stroke="#000" stroke-width="0.9"/>
<path d="M371.6 136.6 L371.6 146.7 L379.4 149.5 L388.0 155.2 L393.7 161.0 L398.0 169.5 L402.3 181.0 L408.0 191.0 L413.8 196.7 L419.5 198.2" fill="none" stroke="#000" stroke-width="0.9"/>
<path d="M405.9 204.6 L413.8 201.0 L419.5 198.9 L426.6 192.4 L432.4 185.3 L439.5 178.1 L446.7 171.0 L451.0 163.8" fill="none" stroke="#000" stroke-width="0.9"/>
<path d="M426.6 206.7 L427.4 215.3 L433.8 219.6 L437.4 213.9 L442.4 207.5 L451.0 208.9 L459.5 206.0 L468.1 203.9 L478.1 202.4 L476.7 195.3 L475.3 189.6 L468.1 183.9 L455.2 178.1 L443.8 181.0 L436.6 186.7 L430.9 195.3 L426.6 206.7" fill="none" stroke="#000" stroke-width="0.9"/>
<path d="M436.6 221.0 L439.5 211.0 L440.9 203.9" fill="none" stroke="#000" stroke-width="0.9"/>
<path d="M459.5 219.6 L462.4 209.6 L466.7 203.9" fill="none" stroke="#000" stroke-width="0.9"/>
<path d="M495.0 246.8 L483.9 258.2 L472.4 265.4" fill="none" stroke="#000" stroke-width="0.9"/>
<path d="M471.5 267.0 L475.5 268.0 L478.5 269.0 L480.5 271.9 L478.5 275.9 L477.5 279.9 L474.5 283.9 L471.5 287.9 L466.6 290.8 L463.6 293.8 L462.6 299.8 L463.6 305.8 L463.6 311.7 L461.6 317.7 L457.6 323.7 L453.6 329.7 L449.7 335.6 L446.7 341.6 L443.7 349.6 L440.7 357.5 L438.7 365.5 L438.7 373.4 L439.7 381.4 L441.7 387.4 L443.7 389.4 L445.7 386.4 L443.7 390.3 L441.7 394.3 L439.7 401.3 L436.7 409.3 L433.7 415.2 L432.7 420.0" fill="none" stroke="#000" stroke-width="0.9"/>
<path d="M380.0 338.6 L445.7 342.1" fill="none" stroke="#000" stroke-width="0.9"/>
<path d="M444.7 391.3 L449.7 393.3 L455.6 395.3 L461.6 397.3 L463.6 391.3 L465.6 388.4 L467.6 390.3 L469.6 396.3 L474.5 396.3 L479.5 397.3 L484.5 399.3 L487.5 399.3 L489.5 397.3 L494.4 396.3 L499.4 394.3 L505.4 392.3 L512.3 391.3" fill="none" stroke="#000" stroke-width="0.9"/>
<path d="M514.3 197.2 L515.0 201.5 L513.6 208.6 L510.8 217.2 L507.9 224.3 L505.0 231.5 L500.0 238.6 L494.3 245.8 L488.6 251.5 L482.9 257.2 L480.0 260.1" fill="none" stroke="#000" stroke-width="0.9"/>
<path d="M485.3 268.2 L492.4 275.4 L493.9 284.0 L489.6 296.9 L492.4 308.0" fill="none" stroke="#000" stroke-width="0.9"/>
<path d="M480.0 265.1 L485.7 265.8 L491.4 268.7 L493.6 277.3 L494.3 284.4 L492.9 293.0 L490.0 298.7 L491.4 303.0 L497.2 307.3 L502.9 310.2 L507.2 311.6 L507.9 315.9 L504.3 320.2 L501.5 324.5 L500.0 328.8 L502.9 333.1 L505.7 337.3 L508.6 344.5 L514.3 350.2 L518.6 351.6" fill="none" stroke="#000" stroke-width="0.9"/>
<path d="M518.6 351.6 L512.9 355.9 L508.6 361.7 L507.9 366.0 L511.5 371.7 L513.6 377.4 L512.9 387.4 L513.6 394.6 L512.9 403.1 L512.2 410.0" fill="none" stroke="#000" stroke-width="0.9"/>
<path d="M586.6 225.1 L580.1 231.5 L574.4 235.8 L570.1 241.5 L567.3 248.7 L568.0 255.8 L566.5 263.0 L565.1 271.5 L565.8 278.7 L568.7 283.0 L567.3 287.3 L561.5 290.1 L551.5 290.1 L545.8 293.0 L540.1 297.3 L532.9 301.6 L527.2 304.4 L524.3 308.7 L522.9 315.9 L520.1 323.0 L518.6 330.2 L518.6 337.3 L520.1 344.5 L519.3 350.2" fill="none" stroke="#000" stroke-width="0.9"/>
<path d="M594.4 226.5 L593.0 234.4 L594.4 240.1 L597.3 248.7 L600.2 260.1 L601.6 268.7 L603.0 280.1 L605.9 288.7 L608.7 294.4 L607.3 301.6 L605.9 308.7 L605.9 317.3 L600.2 321.6 L594.4 324.5" fill="none" stroke="#000" stroke-width="0.9"/>
<path d="M594.4 324.5 L588.7 328.8 L580.1 331.6 L571.5 335.9 L565.8 337.3 L560.1 334.5 L554.4 334.5 L553.0 338.8 L554.4 344.5 L553.0 348.8 L548.7 353.1 L542.9 355.9 L537.2 358.8 L531.5 358.8 L525.8 355.9 L521.5 351.6 L518.6 351.6" fill="none" stroke="#000" stroke-width="0.9"/>
<path d="M605.9 301.6 L614.5 301.6 L623.0 303.0 L628.8 305.9 L633.1 308.7 L637.3 305.9" fill="none" stroke="#000" stroke-width="0.9"/>
<path d="M594.4 324.5 L598.7 325.9 L601.6 331.6 L605.9 335.9 L608.7 334.5 L614.5 330.2 L620.2 324.5 L625.9 321.6 L631.6 324.5 L637.3 324.5 L643.1 328.8 L647.4 335.9 L651.6 338.8 L658.8 340.2 L666.0 344.5 L671.7 348.8 L676.0 353.1" fill="none" stroke="#000" stroke-width="0.9"/>
<path d="M663.1 259.4 L657.4 261.5 L653.1 267.3 L648.8 274.4 L643.1 280.1 L640.2 285.9 L638.8 293.0 L640.2 300.2 L638.8 305.9" fill="none" stroke="#000" stroke-width="0.9"/>
<path d="M640.2 285.9 L645.9 283.0 L651.6 280.1 L657.4 278.7 L661.7 280.1 L660.2 285.9 L664.5 290.1 L668.8 293.0 L673.1 293.0 L674.5 284.4 L680.3 284.4 L687.4 285.9 L694.6 286.6 L700.3 286.6" fill="none" stroke="#000" stroke-width="0.9"/>
<path d="M638.8 305.9 L644.5 307.3 L651.6 304.4 L658.8 301.6 L664.5 301.6 L666.0 305.9 L668.8 308.7 L673.1 310.2 L680.3 308.7 L687.4 305.9 L691.7 303.0 L697.4 301.6 L702.4 303.0" fill="none" stroke="#000" stroke-width="0.9"/>
<path d="M647.4 335.9 L655.9 327.3 L661.7 328.8 L666.0 331.6 L673.1 328.8 L680.3 327.3 L687.4 325.9 L694.6 325.9 L698.9 327.3" fill="none" stroke="#000" stroke-width="0.9"/>
<path d="M647.4 335.9 L651.6 340.2 L655.9 345.9 L653.1 351.6 L647.4 358.8 L645.9 363.1 L650.2 367.4 L655.9 371.7 L660.2 366.0" fill="none" stroke="#000" stroke-width="0.9"/>
<path d="M514.4 400.0 L513.0 408.6 L514.4 414.3 L517.3 420.0 L517.3 428.6" fill="none" stroke="#000" stroke-width="0.9"/>
<path d="M517.3 430.0 L524.4 427.2 L533.0 422.9 L540.2 418.6 L547.3 415.7 L553.1 418.6 L554.5 422.9 L561.6 422.9 L568.8 425.7 L575.9 428.6 L584.5 430.0 L590.2 434.3" fill="none" stroke="#000" stroke-width="0.9"/>
<path d="M593.8 436.7 L594.8 439.7 L599.8 439.7 L604.8 440.7 L609.8 441.7 L614.7 443.7 L618.2 447.7 L617.7 450.6 L613.7 453.6 L611.7 457.6 L608.8 459.6 L607.8 462.6 L606.8 467.6 L608.8 470.5 L611.7 473.5 L613.7 476.5 L617.7 479.5 L621.7 482.5" fill="none" stroke="#000" stroke-width="0.9"/>
<path d="M612.7 476.5 L606.8 476.5 L602.8 478.5 L599.8 480.5 L597.8 484.5 L599.8 489.5 L596.8 492.4 L599.8 494.4 L600.8 499.4 L599.8 504.4 L597.8 508.4 L595.8 512.3 L591.8 515.3 L586.9 516.3 L585.9 521.3 L584.9 525.3 L587.9 530.2 L589.9 531.2 L594.8 532.2 L599.8 532.7" fill="none" stroke="#000" stroke-width="0.9"/>
<path d="M586.0 525.9 L583.1 531.6 L578.8 537.3 L577.4 541.6 L571.6 543.0 L564.5 544.5 L557.3 545.9 L550.2 547.3 L543.0 550.2 L535.9 551.6 L528.7 554.5 L521.6 557.3 L514.4 558.8 L510.1 557.3 L507.3 551.6 L505.9 543.0 L507.3 537.3 L503.0 534.5 L500.1 528.7 L497.3 524.4 L495.8 520.2 L494.4 514.4 L491.5 511.6 L485.8 511.6 L480.1 513.0 L474.4 513.0 L468.7 514.4 L467.2 518.7 L464.4 515.9 L461.5 511.6 L454.4 510.1 L447.2 510.1 L441.5 508.7 L435.8 510.9 L432.9 514.4 L428.6 518.7 L424.3 524.4 L420.0 534.5 L414.3 543.0 L408.6 548.8 L400.0 553.1" fill="none" stroke="#000" stroke-width="0.9"/>
<path d="M535.9 551.6 L539.5 557.3 L537.3 564.5" fill="none" stroke="#000" stroke-width="0.9"/>
<path d="M485.8 485.1 L491.5 481.5 L494.4 474.4 L493.0 465.8 L494.4 460.1 L493.0 454.4 L494.4 445.8" fill="none" stroke="#000" stroke-width="0.9"/>
<path d="M480.1 437.2 L494.4 437.2 L494.4 445.8 L479.4 445.8 L480.1 437.2" fill="none" stroke="#000" stroke-width="0.9"/>
<path d="M494.4 445.8 L500.1 444.3 L503.0 441.5 L502.3 435.8 L503.0 430.0 L507.3 425.7 L510.1 423.6 L513.0 425.7 L517.3 430.0" fill="none" stroke="#000" stroke-width="0.9"/>
<path d="M400.0 484.4 L405.7 488.7 L414.3 493.0 L421.5 495.8 L428.6 498.7 L435.8 503.0" fill="none" stroke="#000" stroke-width="0.9"/>
<path d="M435.8 503.0 L440.1 493.0 L445.8 488.7 L454.4 487.3 L461.5 485.8 L468.7 483.7 L475.8 484.4 L484.4 485.8 L491.5 481.5" fill="none" stroke="#000" stroke-width="0.9"/>
<path d="M435.8 503.0 L434.3 510.1" fill="none" stroke="#000" stroke-width="0.9"/>
<path d="M438.6 400.0 L435.8 408.6 L432.9 418.6 L425.7 428.6 L421.5 435.8 L417.2 442.9 L408.6 451.5 L402.9 457.2 L400.0 461.5" fill="none" stroke="#000" stroke-width="0.9"/>
<path d="M388.7 616.5 L400.1 618.7 L408.7 620.1 L418.7 621.5 L425.9 622.2 L428.7 620.1 L430.2 617.2 L437.3 614.4 L444.5 613.0 L450.2 613.0 L455.9 614.4 L461.6 613.0 L467.4 611.5 L473.1 611.5" fill="none" stroke="#000" stroke-width="0.9"/>
<path d="M388.7 630.1 L400.1 631.5 L408.7 633.0 L417.3 635.8 L424.4 638.7 L430.2 643.0 L435.9 648.7 L440.2 653.0 L447.3 654.4 L454.5 654.4 L453.1 660.2 L450.2 664.4 L448.8 667.3 L454.5 667.3" fill="none" stroke="#000" stroke-width="0.9"/>
<path d="M380.1 578.6 L384.4 568.6 L388.7 561.5 L394.4 557.2 L400.1 554.3 L408.7 554.3 L417.3 555.0 L425.9 555.7 L434.5 557.2 L443.0 558.6 L451.6 561.5 L455.9 564.3 L457.3 571.5 L460.2 580.1 L463.1 587.2 L468.8 590.1 L474.5 591.5 L477.4 594.4 L480.2 597.2" fill="none" stroke="#000" stroke-width="0.9"/>
<path d="M400.1 554.3 L405.9 548.6 L411.6 544.3 L415.9 540.0" fill="none" stroke="#000" stroke-width="0.9"/>
<path d="M428.7 680.2 L430.2 688.8 L427.3 694.5 L423.0 698.8 L418.7 703.1 L415.9 708.8 L414.4 713.1" fill="none" stroke="#000" stroke-width="0.9"/>
<path d="M440.2 683.0 L437.3 688.8 L433.0 693.1 L428.7 697.3" fill="none" stroke="#000" stroke-width="0.9"/>
<path d="M55.0 297.2 L171.6 343.0 L178.8 335.8 L187.3 335.8 L191.6 334.4 L198.8 331.5 L205.9 328.7 L214.5 327.2 L217.4 320.1 L221.7 315.8 L226.0 311.5 L236.0 311.5 L241.7 315.8 L247.4 320.1 L253.1 324.4 L257.4 324.4" fill="none" stroke="#000" stroke-width="0.9"/>
<path d="M257.2 324.3 L257.9 335.8 L258.6 347.2 L258.6 361.5 L277.2 361.5 L283.0 364.4 L284.4 371.5 L285.8 380.1 L285.8 387.3 L281.5 394.4 L277.2 400.1 L273.0 405.9" fill="none" stroke="#000" stroke-width="0.9"/>
<path d="M257.2 324.3 L310.1 324.3 L311.6 314.3 L314.4 300.0" fill="none" stroke="#000" stroke-width="0.9"/>
<path d="M314.4 300.0 L323.0 318.6 L328.7 327.2 L337.3 332.9 L343.0 335.8 L357.3 337.2 L386.0 339.3 L430.0 341.5" fill="none" stroke="#000" stroke-width="0.9"/>
<path d="M323.0 475.9 L328.7 475.9 L337.3 470.2 L343.0 465.9 L350.2 464.5 L357.3 468.8 L364.5 473.1 L371.6 471.6 L380.2 470.2 L386.0 465.9 L388.8 467.4 L386.0 474.5 L384.5 477.4 L390.2 478.8 L397.4 478.8 L400.3 484.5 L403.1 490.2 L414.6 494.5 L423.1 497.4 L430.0 498.8" fill="none" stroke="#000" stroke-width="0.9"/>
<path d="M430.0 428.7 L423.1 431.6 L420.3 438.7 L414.6 444.5 L408.8 450.2 L403.1 457.3 L398.8 464.5 L397.4 471.6 L397.4 478.8" fill="none" stroke="#000" stroke-width="0.9"/>
<use href="#brzline"/>
<rect x="35.3" y="78" width="680.7" height="684" fill="none" stroke="#000" stroke-width="2"/>
<line x1="31" y1="94.5" x2="35.3" y2="94.5" stroke="#000" stroke-width="1"/>
<text x="26.4" y="101.7" font-size="20" text-anchor="end" textLength="17.0" lengthAdjust="spacingAndGlyphs" style="font-family:'Liberation Serif',serif" >5N</text>
<line x1="31" y1="177.9" x2="35.3" y2="177.9" stroke="#000" stroke-width="1"/>
<text x="26.4" y="185.1" font-size="20" text-anchor="end" textLength="17.0" lengthAdjust="spacingAndGlyphs" style="font-family:'Liberation Serif',serif" >EQ</text>
<line x1="31" y1="261.4" x2="35.3" y2="261.4" stroke="#000" stroke-width="1"/>
<text x="26.4" y="268.6" font-size="20" text-anchor="end" textLength="17.0" lengthAdjust="spacingAndGlyphs" style="font-family:'Liberation Serif',serif" >5S</text>
<line x1="31" y1="344.9" x2="35.3" y2="344.9" stroke="#000" stroke-width="1"/>
<text x="26.4" y="352.1" font-size="20" text-anchor="end" textLength="25.5" lengthAdjust="spacingAndGlyphs" style="font-family:'Liberation Serif',serif" >10S</text>
<line x1="31" y1="428.3" x2="35.3" y2="428.3" stroke="#000" stroke-width="1"/>
<text x="26.4" y="435.5" font-size="20" text-anchor="end" textLength="25.5" lengthAdjust="spacingAndGlyphs" style="font-family:'Liberation Serif',serif" >15S</text>
<line x1="31" y1="511.8" x2="35.3" y2="511.8" stroke="#000" stroke-width="1"/>
<text x="26.4" y="519.0" font-size="20" text-anchor="end" textLength="25.5" lengthAdjust="spacingAndGlyphs" style="font-family:'Liberation Serif',serif" >20S</text>
<line x1="31" y1="595.2" x2="35.3" y2="595.2" stroke="#000" stroke-width="1"/>
<text x="26.4" y="602.4" font-size="20" text-anchor="end" textLength="25.5" lengthAdjust="spacingAndGlyphs" style="font-family:'Liberation Serif',serif" >25S</text>
<line x1="31" y1="678.7" x2="35.3" y2="678.7" stroke="#000" stroke-width="1"/>
<text x="26.4" y="685.9" font-size="20" text-anchor="end" textLength="25.5" lengthAdjust="spacingAndGlyphs" style="font-family:'Liberation Serif',serif" >30S</text>
<line x1="31" y1="762.1" x2="35.3" y2="762.1" stroke="#000" stroke-width="1"/>
<text x="26.4" y="769.3" font-size="20" text-anchor="end" textLength="25.5" lengthAdjust="spacingAndGlyphs" style="font-family:'Liberation Serif',serif" >35S</text>
<line x1="35.3" y1="762" x2="35.3" y2="766.5" stroke="#000" stroke-width="1"/>
<text x="35.3" y="785.8" font-size="20" text-anchor="middle" textLength="26.5" lengthAdjust="spacingAndGlyphs" style="font-family:'Liberation Serif',serif" >75W</text>
<line x1="118.3" y1="762" x2="118.3" y2="766.5" stroke="#000" stroke-width="1"/>
<text x="118.3" y="785.8" font-size="20" text-anchor="middle" textLength="26.5" lengthAdjust="spacingAndGlyphs" style="font-family:'Liberation Serif',serif" >70W</text>
<line x1="201.3" y1="762" x2="201.3" y2="766.5" stroke="#000" stroke-width="1"/>
<text x="201.3" y="785.8" font-size="20" text-anchor="middle" textLength="26.5" lengthAdjust="spacingAndGlyphs" style="font-family:'Liberation Serif',serif" >65W</text>
<line x1="284.3" y1="762" x2="284.3" y2="766.5" stroke="#000" stroke-width="1"/>
<text x="284.3" y="785.8" font-size="20" text-anchor="middle" textLength="26.5" lengthAdjust="spacingAndGlyphs" style="font-family:'Liberation Serif',serif" >60W</text>
<line x1="367.3" y1="762" x2="367.3" y2="766.5" stroke="#000" stroke-width="1"/>
<text x="367.3" y="785.8" font-size="20" text-anchor="middle" textLength="26.5" lengthAdjust="spacingAndGlyphs" style="font-family:'Liberation Serif',serif" >55W</text>
<line x1="450.3" y1="762" x2="450.3" y2="766.5" stroke="#000" stroke-width="1"/>
<text x="450.3" y="785.8" font-size="20" text-anchor="middle" textLength="26.5" lengthAdjust="spacingAndGlyphs" style="font-family:'Liberation Serif',serif" >50W</text>
<line x1="533.3" y1="762" x2="533.3" y2="766.5" stroke="#000" stroke-width="1"/>
<text x="533.3" y="785.8" font-size="20" text-anchor="middle" textLength="26.5" lengthAdjust="spacingAndGlyphs" style="font-family:'Liberation Serif',serif" >45W</text>
<line x1="616.3" y1="762" x2="616.3" y2="766.5" stroke="#000" stroke-width="1"/>
<text x="616.3" y="785.8" font-size="20" text-anchor="middle" textLength="26.5" lengthAdjust="spacingAndGlyphs" style="font-family:'Liberation Serif',serif" >40W</text>
<line x1="699.3" y1="762" x2="699.3" y2="766.5" stroke="#000" stroke-width="1"/>
<text x="699.3" y="785.8" font-size="20" text-anchor="middle" textLength="26.5" lengthAdjust="spacingAndGlyphs" style="font-family:'Liberation Serif',serif" >35W</text>
<rect x="731" y="201" width="14" height="46" fill="#ff6400" stroke="#000" stroke-width="1.6"/>
<rect x="731" y="247" width="14" height="46" fill="#ffa000" stroke="#000" stroke-width="1.6"/>
<rect x="731" y="293" width="14" height="46" fill="#ffc03c" stroke="#000" stroke-width="1.6"/>
<rect x="731" y="339" width="14" height="46" fill="#fff7ab" stroke="#000" stroke-width="1.6"/>
<rect x="731" y="385" width="14" height="46" fill="#a9a9a9" stroke="#000" stroke-width="1.6"/>
<rect x="731" y="431" width="14" height="46" fill="#b2eefa" stroke="#000" stroke-width="1.6"/>
<rect x="731" y="477" width="14" height="46" fill="#96d2fa" stroke="#000" stroke-width="1.6"/>
<rect x="731" y="523" width="14" height="46" fill="#50a5f5" stroke="#000" stroke-width="1.6"/>
<rect x="731" y="569" width="14" height="46" fill="#1e6eeb" stroke="#000" stroke-width="1.6"/>
<path d="M731 201 L738 155 L745 201 Z" fill="#ff3200" stroke="#000" stroke-width="1.6" stroke-linejoin="round"/>
<path d="M731 615 L738 661 L745 615 Z" fill="#0a0fc8" stroke="#000" stroke-width="1.6" stroke-linejoin="round"/>
<text x="749.5" y="207.3" font-size="18.5" textLength="7.6" lengthAdjust="spacingAndGlyphs" style="font-family:'Liberation Serif',serif;font-weight:bold">3</text>
<text x="749.5" y="253.3" font-size="18.5" textLength="7.6" lengthAdjust="spacingAndGlyphs" style="font-family:'Liberation Serif',serif;font-weight:bold">2</text>
<text x="749.5" y="299.3" font-size="18.5" textLength="21" lengthAdjust="spacingAndGlyphs" style="font-family:'Liberation Serif',serif;font-weight:bold">1.5</text>
<text x="749.5" y="345.3" font-size="18.5" textLength="5.6" lengthAdjust="spacingAndGlyphs" style="font-family:'Liberation Serif',serif;font-weight:bold">1</text>
<text x="749.5" y="391.3" font-size="18.5" textLength="21" lengthAdjust="spacingAndGlyphs" style="font-family:'Liberation Serif',serif;font-weight:bold">0.5</text>
<rect x="750.1" y="430.8" width="8.6" height="1.5" fill="#000"/>
<text x="761" y="437.3" font-size="18.5" textLength="20" lengthAdjust="spacingAndGlyphs" style="font-family:'Liberation Serif',serif;font-weight:bold">0.5</text>
<rect x="750.1" y="476.8" width="8.6" height="1.5" fill="#000"/>
<text x="761" y="483.3" font-size="18.5" textLength="5.6" lengthAdjust="spacingAndGlyphs" style="font-family:'Liberation Serif',serif;font-weight:bold">1</text>
<rect x="750.1" y="522.8" width="8.6" height="1.5" fill="#000"/>
<text x="761" y="529.3" font-size="18.5" textLength="19.5" lengthAdjust="spacingAndGlyphs" style="font-family:'Liberation Serif',serif;font-weight:bold">1.5</text>
<rect x="750.1" y="568.8" width="8.6" height="1.5" fill="#000"/>
<text x="761" y="575.3" font-size="18.5" textLength="7.6" lengthAdjust="spacingAndGlyphs" style="font-family:'Liberation Serif',serif;font-weight:bold">2</text>
<rect x="750.1" y="614.8" width="8.6" height="1.5" fill="#000"/>
<text x="761" y="621.3" font-size="18.5" textLength="7.6" lengthAdjust="spacingAndGlyphs" style="font-family:'Liberation Serif',serif;font-weight:bold">3</text>
<text transform="translate(795,354.3) rotate(-90)" font-size="17" text-anchor="middle" textLength="34.5" lengthAdjust="spacingAndGlyphs" style="font-family:'Liberation Serif',serif">( °C )</text>
<use href="#logo"/>
</g><g transform="translate(-1,790)">
<text x="217.6" y="22.8" font-size="21.5" textLength="96.1" lengthAdjust="spacingAndGlyphs" style="font-family:'Liberation Serif',serif;font-weight:bold">ANOMALIAS</text>
<text x="325.3" y="22.8" font-size="21.5" textLength="21.0" lengthAdjust="spacingAndGlyphs" style="font-family:'Liberation Serif',serif;font-weight:bold">DE</text>
<text x="359.1" y="22.8" font-size="21.5" textLength="136.9" lengthAdjust="spacingAndGlyphs" style="font-family:'Liberation Serif',serif;font-weight:bold">TEMPERATURAS</text>
<text x="508.2" y="22.8" font-size="21.5" textLength="63.0" lengthAdjust="spacingAndGlyphs" style="font-family:'Liberation Serif',serif;font-weight:bold">MEDIAS</text>
<text x="260.3" y="45.6" font-size="21.5" textLength="59.8" lengthAdjust="spacingAndGlyphs" style="font-family:'Liberation Serif',serif;font-weight:bold">VALIDO</text>
<text x="332.0" y="45.6" font-size="21.5" textLength="44.2" lengthAdjust="spacingAndGlyphs" style="font-family:'Liberation Serif',serif;font-weight:bold">PARA</text>
<text x="387.2" y="45.6" font-size="21.5" textLength="54.3" lengthAdjust="spacingAndGlyphs" style="font-family:'Liberation Serif',serif;font-weight:bold">JULHO</text>
<text x="453.4" y="45.6" font-size="21.5" textLength="22.1" lengthAdjust="spacingAndGlyphs" style="font-family:'Liberation Serif',serif;font-weight:bold">DE</text>
<text x="488.4" y="45.6" font-size="21.5" textLength="40.4" lengthAdjust="spacingAndGlyphs" style="font-family:'Liberation Serif',serif;font-weight:bold">1976</text>
<text x="202.4" y="69.2" font-size="21.5" textLength="124.4" lengthAdjust="spacingAndGlyphs" style="font-family:'Liberation Serif',serif;font-weight:bold">CLIMATOLOGIA</text>
<text x="337.2" y="69.2" font-size="21.5" textLength="22.1" lengthAdjust="spacingAndGlyphs" style="font-family:'Liberation Serif',serif;font-weight:bold">DE</text>
<text x="370.4" y="69.2" font-size="21.5" textLength="115.1" lengthAdjust="spacingAndGlyphs" style="font-family:'Liberation Serif',serif;font-weight:bold">REFERENCIA:</text>
<text x="486.9" y="69.2" font-size="21.5" textLength="41.7" lengthAdjust="spacingAndGlyphs" style="font-family:'Liberation Serif',serif;font-weight:bold">1981</text>
<text x="530.5" y="69.2" font-size="21.5" textLength="10.0" lengthAdjust="spacingAndGlyphs" style="font-family:'Liberation Serif',serif;font-weight:bold">−</text>
<text x="544.5" y="69.2" font-size="21.5" textLength="42.3" lengthAdjust="spacingAndGlyphs" style="font-family:'Liberation Serif',serif;font-weight:bold">2010</text>
<line x1="305.5" y1="27.3" x2="313.7" y2="4.5" stroke="#000" stroke-width="1"/>
<line x1="486.7" y1="27.3" x2="495.5" y2="4.5" stroke="#000" stroke-width="1"/>
<line x1="562.4" y1="27.3" x2="571.2" y2="4.5" stroke="#000" stroke-width="1"/>
<line x1="211.6" y1="50.3" x2="210.6" y2="58.3" stroke="#000" stroke-width="1"/>
<line x1="308.4" y1="50.9" x2="307.4" y2="59.5" stroke="#000" stroke-width="1"/>
<line x1="462.3" y1="50.9" x2="461.3" y2="59.5" stroke="#000" stroke-width="1"/>
<g clip-path="url(#brz)">
<rect x="40" y="80" width="680" height="680" fill="#b2eefa"/>
<path d="M103.4 143.4 L213.4 105.4 L215.5 118.1 L230.3 123.3 L251.5 129.7 L272.6 137.1 L287.4 143.4 L302.2 156.1 L348.7 162.5 L348.7 185.7 L348.7 206.9 L353.0 228.0 L346.6 238.6 L336.0 240.7 L327.6 228.0 L321.2 217.4 L314.9 219.6 L306.4 228.0 L302.2 242.8 L289.5 249.2 L268.4 244.9 L251.5 238.6 L236.7 236.5 L230.3 244.9 L224.0 259.7 L215.5 274.5 L200.7 280.9 L183.8 278.8 L177.4 264.0 L183.8 253.4 L192.3 240.7 L200.7 228.0 L211.3 215.3 L215.5 200.5 L211.3 187.8 L200.7 179.4 L177.4 181.5 L154.2 181.5 L135.2 177.3 L118.2 168.8 L103.4 164.6 Z" fill="#a9a9a9"/>
<path d="M333.9 249.2 L340.3 249.2 L344.5 261.9 L336.0 264.0 Z" fill="#a9a9a9"/>
<path d="M40.0 287.2 L63.3 288.3 L66.4 299.9 L71.7 312.6 L78.1 329.5 L82.3 340.1 L40.0 354.9 Z" fill="#a9a9a9"/>
<path d="M247.2 397.2 L264.1 389.8 L274.7 388.7 L283.2 395.1 L289.5 409.9 L291.6 420.0 L251.5 428.9 Z" fill="#a9a9a9"/>
<path d="M242.3 393.7 L278.2 393.7 L280.4 410.6 L269.8 412.7 Z" fill="#a9a9a9"/>
<path d="M363.5 139.2 L380.0 135.0 L382.7 141.3 L397.5 143.4 L401.7 160.4 L405.9 177.3 L410.2 194.2 L403.8 196.3 L391.1 185.7 L380.6 170.9 L370.0 162.5 L369.9 151.9 Z" fill="#a9a9a9"/>
<path d="M405.9 141.3 L418.6 111.7 L427.1 105.4 L435.6 135.0 L425.0 139.2 Z" fill="#a9a9a9"/>
<path d="M348.7 306.3 L357.2 302.0 L374.1 304.1 L380.0 308.4 L386.8 319.8 L399.1 330.8 L413.8 344.3 L408.9 356.6 L402.8 365.2 L401.6 378.7 L406.5 382.3 L417.5 386.0 L429.8 393.4 L438.3 399.5 L448.1 403.2 L460.4 406.9 L466.5 411.8 L465.3 420.4 L460.4 432.6 L454.3 444.9 L448.1 451.0 L435.9 454.7 L429.8 463.3 L427.3 470.0 L426.3 480.4 L419.9 493.0 L407.2 501.5 L390.3 512.1 L377.6 522.6 L369.2 535.3 L369.2 548.0 L373.4 560.7 L384.0 569.2 L394.5 579.7 L411.5 590.3 L432.6 596.7 L445.3 592.4 L453.8 594.5 L455.9 607.2 L460.1 622.0 L464.3 628.4 L466.4 632.6 L472.8 643.2 L496.0 674.9 L432.6 759.5 L326.9 759.5 L263.4 674.9 L242.3 526.9 L274.0 461.3 L310.0 469.8 L318.4 469.8 L325.5 463.3 L329.2 451.0 L331.7 442.4 L335.3 435.1 L337.8 428.9 L331.7 420.4 L323.1 413.0 L325.5 410.6 L337.8 408.1 L350.0 406.9 L362.3 405.6 L374.6 402.0 L386.8 395.8 L385.6 389.7 L384.4 378.7 L381.9 365.2 L380.7 352.9 L377.0 340.7 L368.4 328.4 L356.2 319.8 L347.6 310.0 Z" fill="#a9a9a9"/>
<path d="M551.9 217.4 L551.0 195.0 L731.0 195.0 L731.0 500.0 L621.5 491.9 L617.8 495.7 L606.6 499.4 L595.4 506.9 L584.2 514.3 L569.3 514.3 L559.9 510.6 L546.9 501.3 L531.9 491.9 L524.5 482.6 L520.7 464.0 L517.0 445.3 L504.0 426.6 L490.9 412.6 L488.4 420.0 L492.6 412.0 L496.9 405.7 L505.3 401.4 L513.8 397.2 L518.0 386.6 L515.9 376.0 L507.4 367.6 L496.9 361.2 L488.4 354.9 L484.2 342.2 L488.4 325.3 L496.9 308.4 L507.4 295.7 L518.0 293.6 L528.6 293.6 L539.2 291.5 L549.7 291.5 L560.3 291.5 L570.9 289.3 L581.5 287.2 L592.0 289.3 L602.6 291.5 L613.2 287.2 L619.5 278.8 L621.6 268.2 L617.4 257.6 L606.8 251.3 L594.1 247.1 L581.5 247.1 L568.8 247.1 L556.1 244.9 L554.0 228.0 Z" fill="#a9a9a9"/>
<path d="M438.7 508.7 L448.0 499.4 L483.4 495.7 L485.3 510.6 L479.7 516.2 L466.6 518.1 L457.3 527.4 L448.0 531.1 L438.7 527.4 Z" fill="#a9a9a9"/>
<path d="M513.3 510.6 L518.9 501.3 L524.5 510.6 L517.0 519.9 Z" fill="#a9a9a9"/>
<path d="M565.5 551.6 L584.2 551.6 L584.2 559.1 L565.5 561.0 Z" fill="#a9a9a9"/>
<path d="M388.2 611.5 L419.9 609.3 L422.0 628.4 L411.5 632.6 L400.9 639.0 L384.0 634.7 L386.1 622.0 Z" fill="#b2eefa"/>
<path d="M455.9 609.3 L474.9 609.3 L477.0 636.8 L468.6 645.3 L462.2 628.4 Z" fill="#b2eefa"/>
<path d="M390.3 740.0 L398.8 723.5 L411.5 719.3 L407.2 740.0 Z" fill="#b2eefa"/>
<path d="M642.8 266.1 L655.5 261.9 L676.6 261.9 L693.5 264.0 L729.5 259.7 L729.5 376.0 L661.8 365.5 L659.7 350.7 L661.8 333.8 L663.9 312.6 L666.0 299.9 L655.5 293.6 L644.9 285.1 L642.8 274.5 Z" fill="#b2eefa"/>
<path d="M683.0 266.1 L693.5 266.1 L697.8 274.5 L689.3 276.7 Z" fill="#96d2fa"/>
<path d="M693.5 291.5 L704.1 291.5 L704.1 299.9 L695.7 299.9 Z" fill="#96d2fa"/>
<path d="M680.8 327.4 L687.2 325.3 L685.1 340.1 Z" fill="#96d2fa"/>
<path d="M543.4 327.4 L549.7 321.1 L554.0 329.5 L547.6 332.7 Z" fill="#b2eefa"/>
<path d="M348.0 459.2 L352.3 442.3 L369.2 429.6 L381.9 435.9 L400.9 427.5 L411.5 433.8 L413.6 446.5 L409.3 459.2 L400.9 471.9 L394.5 478.2 L379.7 484.6 L364.9 488.8 L350.1 486.7 L345.9 474.0 Z" fill="#fff7ab"/>
<path d="M373.4 603.0 L377.6 586.1 L386.1 590.3 L388.2 598.8 L381.9 605.1 Z" fill="#fff7ab"/>
<path d="M315.2 514.2 L318.4 510.0 L319.5 518.4 L316.3 518.4 Z" fill="#fff7ab"/>
<path d="M562.4 293.6 L573.0 291.5 L575.1 297.8 L568.8 310.5 L564.5 304.1 Z" fill="#fff7ab"/>
<path d="M537.1 363.4 L549.7 350.7 L570.9 342.2 L581.5 333.8 L583.6 323.2 L587.8 333.8 L585.7 350.7 L579.3 363.4 L575.1 376.0 L568.8 384.5 L560.3 382.4 L547.6 373.9 Z" fill="#fff7ab"/>
<path d="M551.9 363.4 L562.4 354.9 L570.9 373.9 L564.5 378.2 Z" fill="#ffc03c"/>
<path d="M530.1 413.6 L548.7 402.4 L559.9 406.1 L565.5 415.4 L563.7 424.8 L569.3 432.2 L584.2 439.7 L591.6 450.9 L591.6 462.1 L584.2 471.4 L569.3 465.8 L554.3 469.6 L541.3 464.0 L543.1 454.6 L550.6 447.2 L546.9 436.0 L535.7 426.6 Z" fill="#fff7ab"/>
<path d="M545.0 411.7 L550.6 408.9 L554.3 411.7 L552.5 417.3 L548.7 415.4 Z" fill="#ffc03c"/>
<path d="M598.4 225.9 L617.4 224.9 L617.4 230.1 L600.5 230.6 Z" fill="#fff7ab"/>
<path d="M251.5 111.7 L272.6 92.7 L289.5 101.1 L287.4 122.3 L279.0 128.6 L262.0 120.2 Z" fill="#96d2fa"/>
<path d="M139.4 211.1 L152.1 198.4 L177.4 194.2 L202.8 194.2 L200.7 206.9 L188.0 228.0 L177.4 247.1 L166.9 249.2 L158.4 240.7 L145.7 228.0 Z" fill="#96d2fa"/>
<path d="M147.8 215.3 L154.2 209.0 L185.9 211.1 L179.6 228.0 L169.0 247.1 L156.3 232.3 Z" fill="#50a5f5"/>
<path d="M88.6 278.8 L103.4 266.1 L124.6 259.7 L145.7 257.6 L162.6 259.7 L166.9 270.3 L169.0 291.5 L166.9 308.4 L156.3 323.2 L141.5 333.8 L130.9 329.5 L114.0 312.6 L95.0 295.7 Z" fill="#96d2fa"/>
<path d="M101.3 278.8 L114.0 274.5 L133.0 271.4 L150.0 274.5 L160.5 293.6 L154.2 306.3 L137.3 314.7 L120.4 306.3 L107.7 291.5 Z" fill="#50a5f5"/>
<path d="M133.0 293.6 L139.4 290.4 L152.1 291.5 L152.1 296.7 L137.3 297.8 Z" fill="#1e6eeb"/>
<path d="M188.0 327.4 L198.6 316.8 L219.7 304.1 L232.4 291.5 L240.9 276.7 L262.0 270.3 L293.8 268.2 L306.4 274.5 L314.9 287.2 L312.8 302.0 L314.9 323.2 L325.5 325.3 L336.0 329.5 L337.8 325.9 L356.2 334.5 L368.4 344.3 L374.6 359.0 L377.0 373.8 L374.6 389.7 L362.3 395.8 L343.9 395.8 L325.5 395.8 L314.9 386.6 L293.8 382.4 L272.6 384.5 L251.5 386.6 L230.3 384.5 L204.9 376.0 L196.5 354.9 L192.3 340.1 Z" fill="#96d2fa"/>
<path d="M262.0 299.9 L272.6 289.3 L293.8 287.2 L306.4 293.6 L310.7 308.4 L306.4 321.1 L289.5 323.2 L272.6 319.0 L264.1 310.5 Z" fill="#50a5f5"/>
<path d="M296.9 346.4 L307.4 325.3 L319.4 323.5 L337.8 334.5 L356.2 346.8 L367.2 361.5 L372.1 377.4 L364.8 388.5 L350.0 390.9 L331.7 392.2 L318.2 390.9 L304.7 383.6 L299.0 370.0 Z" fill="#50a5f5"/>
<path d="M303.5 346.8 L312.0 334.5 L318.2 327.2 L331.7 334.5 L350.0 349.2 L359.9 361.5 L367.2 378.7 L355.0 386.0 L337.8 388.5 L319.4 388.5 L309.6 378.7 L304.7 365.2 Z" fill="#1e6eeb"/>
<path d="M310.8 344.3 L318.2 335.8 L331.7 345.6 L346.4 361.5 L352.5 378.7 L337.8 381.1 L319.4 378.7 L313.3 365.2 Z" fill="#0a0fc8"/>
<path d="M386.9 244.9 L412.3 228.0 L444.0 219.6 L471.5 206.9 L492.6 198.4 L507.4 202.6 L501.1 223.8 L488.4 240.7 L471.5 253.4 L454.6 261.9 L450.4 278.8 L458.8 283.0 L475.7 280.9 L488.4 270.3 L496.9 255.5 L507.4 247.1 L522.3 244.9 L543.4 249.2 L556.1 255.5 L564.5 266.1 L560.3 280.9 L549.7 287.2 L530.7 289.3 L518.0 289.3 L505.3 287.2 L496.9 283.0 L488.4 291.5 L482.1 312.6 L488.4 329.5 L496.9 344.3 L509.6 354.9 L518.0 365.5 L518.0 386.6 L507.4 397.2 L492.6 401.4 L465.2 399.3 L448.0 400.4 L426.0 384.5 L418.6 374.8 L413.8 362.5 L418.6 351.5 L423.5 341.8 L417.4 328.5 L414.8 310.1 L401.7 291.5 L389.0 270.3 Z" fill="#96d2fa"/>
<path d="M422.9 244.9 L444.0 232.3 L465.2 228.0 L473.6 240.7 L471.5 253.4 L454.6 259.7 L435.6 266.1 L425.0 257.6 Z" fill="#50a5f5"/>
<path d="M505.3 259.7 L518.0 251.3 L539.2 251.3 L547.6 261.9 L547.6 276.7 L534.9 285.1 L518.0 285.1 L507.4 276.7 Z" fill="#50a5f5"/>
<path d="M513.8 259.7 L526.5 256.6 L537.1 264.0 L539.2 274.5 L532.8 280.9 L518.0 280.9 L511.7 270.3 Z" fill="#1e6eeb"/>
<path d="M577.2 255.5 L592.0 249.2 L609.0 253.4 L619.5 264.0 L619.5 276.7 L609.0 287.2 L600.5 289.3 L589.9 280.9 Z" fill="#96d2fa"/>
<path d="M579.3 261.9 L594.1 255.5 L606.8 259.7 L609.0 270.3 L602.6 283.0 L594.1 278.8 Z" fill="#50a5f5"/>
<path d="M589.9 264.0 L598.4 259.7 L604.7 266.1 L602.6 276.7 Z" fill="#1e6eeb"/>
<path d="M416.5 308.4 L433.4 293.6 L450.4 291.5 L465.2 299.9 L477.8 308.4 L475.7 323.2 L465.2 333.8 L460.9 344.3 L467.3 350.7 L480.0 354.9 L488.4 365.5 L488.4 380.3 L480.0 388.7 L465.2 390.8 L448.2 384.5 L435.6 371.8 L425.0 354.9 L418.6 340.1 L415.5 323.2 Z" fill="#50a5f5"/>
<path d="M425.0 327.4 L433.4 308.4 L450.4 302.0 L463.0 310.5 L458.8 323.2 L450.4 333.8 L444.0 346.4 L437.7 348.6 L429.2 340.1 Z" fill="#1e6eeb"/>
<path d="M444.0 359.1 L458.8 357.0 L471.5 359.1 L473.6 371.8 L465.2 380.3 L450.4 380.3 L444.0 369.7 Z" fill="#1e6eeb"/>
<path d="M280.4 421.1 L301.5 416.9 L318.4 425.4 L318.4 442.3 L314.2 450.8 L297.3 450.8 L282.5 446.5 Z" fill="#96d2fa"/>
<path d="M286.7 442.3 L301.5 429.6 L305.7 446.5 L288.8 448.6 Z" fill="#50a5f5"/>
<path d="M446.1 462.1 L468.5 454.6 L483.4 462.1 L490.9 458.4 L504.0 450.9 L511.4 460.2 L511.4 482.6 L507.7 501.3 L507.7 519.9 L513.3 538.6 L517.0 553.5 L507.7 559.1 L502.1 547.9 L494.6 529.3 L492.8 510.6 L490.9 491.9 L487.2 480.7 L476.0 473.3 L457.3 480.7 L446.1 477.0 Z" fill="#96d2fa"/>
<path d="M537.5 510.6 L550.6 510.6 L558.1 529.3 L556.2 542.3 L546.9 544.2 L539.4 529.3 Z" fill="#96d2fa"/>
<path d="M398.8 543.8 L411.5 535.3 L432.6 531.1 L457.3 527.4 L485.3 525.5 L500.2 529.3 L507.7 547.9 L517.0 559.1 L526.3 566.6 L526.3 574.0 L513.3 579.6 L494.6 581.5 L476.0 585.2 L457.3 585.2 L438.7 581.5 L411.5 560.7 L400.9 556.5 Z" fill="#96d2fa"/>
<path d="M457.3 544.2 L466.6 531.1 L485.3 529.3 L481.6 547.9 L477.8 561.0 L468.5 562.8 Z" fill="#50a5f5"/>
<path d="M485.3 561.0 L498.4 540.4 L505.8 551.6 L504.0 570.3 L496.5 568.4 Z" fill="#50a5f5"/>
<path d="M593.5 529.3 L599.1 525.5 L602.8 534.9 L597.2 538.6 Z" fill="#96d2fa"/>
</g>
<path d="M227.4 140.9 L236.7 145.2 L238.8 152.4 L241.0 158.1 L242.4 165.3 L241.0 175.3 L245.3 183.9 L242.4 191.0 L249.6 196.7 L253.9 201.0 L257.4 201.7 L258.1 193.9 L261.0 189.6 L265.0 186.7" fill="none" stroke="#000" stroke-width="0.9"/>
<path d="M265.0 186.7 L270.7 191.0 L275.7 191.7 L279.3 188.1 L282.2 178.1 L283.6 174.6 L302.9 174.6" fill="none" stroke="#000" stroke-width="0.9"/>
<path d="M301.5 156.0 L302.5 163.8 L302.9 174.6 L305.1 185.3 L307.9 189.6 L313.6 195.3 L319.4 199.6 L325.1 203.9 L332.2 206.7 L338.0 211.0 L342.2 214.6 L339.4 216.0 L333.7 219.6 L339.4 218.9 L343.7 216.0 L342.2 219.6 L339.4 226.8 L335.1 235.3 L329.4 246.8 L322.2 261.1 L315.1 275.4 L310.8 285.4 L309.3 291.1 L312.2 298.3 L315.1 304.0 L316.5 308.0" fill="none" stroke="#000" stroke-width="0.9"/>
<path d="M371.6 136.6 L371.6 146.7 L379.4 149.5 L388.0 155.2 L393.7 161.0 L398.0 169.5 L402.3 181.0 L408.0 191.0 L413.8 196.7 L419.5 198.2" fill="none" stroke="#000" stroke-width="0.9"/>
<path d="M405.9 204.6 L413.8 201.0 L419.5 198.9 L426.6 192.4 L432.4 185.3 L439.5 178.1 L446.7 171.0 L451.0 163.8" fill="none" stroke="#000" stroke-width="0.9"/>
<path d="M426.6 206.7 L427.4 215.3 L433.8 219.6 L437.4 213.9 L442.4 207.5 L451.0 208.9 L459.5 206.0 L468.1 203.9 L478.1 202.4 L476.7 195.3 L475.3 189.6 L468.1 183.9 L455.2 178.1 L443.8 181.0 L436.6 186.7 L430.9 195.3 L426.6 206.7" fill="none" stroke="#000" stroke-width="0.9"/>
<path d="M436.6 221.0 L439.5 211.0 L440.9 203.9" fill="none" stroke="#000" stroke-width="0.9"/>
<path d="M459.5 219.6 L462.4 209.6 L466.7 203.9" fill="none" stroke="#000" stroke-width="0.9"/>
<path d="M495.0 246.8 L483.9 258.2 L472.4 265.4" fill="none" stroke="#000" stroke-width="0.9"/>
<path d="M471.5 267.0 L475.5 268.0 L478.5 269.0 L480.5 271.9 L478.5 275.9 L477.5 279.9 L474.5 283.9 L471.5 287.9 L466.6 290.8 L463.6 293.8 L462.6 299.8 L463.6 305.8 L463.6 311.7 L461.6 317.7 L457.6 323.7 L453.6 329.7 L449.7 335.6 L446.7 341.6 L443.7 349.6 L440.7 357.5 L438.7 365.5 L438.7 373.4 L439.7 381.4 L441.7 387.4 L443.7 389.4 L445.7 386.4 L443.7 390.3 L441.7 394.3 L439.7 401.3 L436.7 409.3 L433.7 415.2 L432.7 420.0" fill="none" stroke="#000" stroke-width="0.9"/>
<path d="M380.0 338.6 L445.7 342.1" fill="none" stroke="#000" stroke-width="0.9"/>
<path d="M444.7 391.3 L449.7 393.3 L455.6 395.3 L461.6 397.3 L463.6 391.3 L465.6 388.4 L467.6 390.3 L469.6 396.3 L474.5 396.3 L479.5 397.3 L484.5 399.3 L487.5 399.3 L489.5 397.3 L494.4 396.3 L499.4 394.3 L505.4 392.3 L512.3 391.3" fill="none" stroke="#000" stroke-width="0.9"/>
<path d="M514.3 197.2 L515.0 201.5 L513.6 208.6 L510.8 217.2 L507.9 224.3 L505.0 231.5 L500.0 238.6 L494.3 245.8 L488.6 251.5 L482.9 257.2 L480.0 260.1" fill="none" stroke="#000" stroke-width="0.9"/>
<path d="M485.3 268.2 L492.4 275.4 L493.9 284.0 L489.6 296.9 L492.4 308.0" fill="none" stroke="#000" stroke-width="0.9"/>
<path d="M480.0 265.1 L485.7 265.8 L491.4 268.7 L493.6 277.3 L494.3 284.4 L492.9 293.0 L490.0 298.7 L491.4 303.0 L497.2 307.3 L502.9 310.2 L507.2 311.6 L507.9 315.9 L504.3 320.2 L501.5 324.5 L500.0 328.8 L502.9 333.1 L505.7 337.3 L508.6 344.5 L514.3 350.2 L518.6 351.6" fill="none" stroke="#000" stroke-width="0.9"/>
<path d="M518.6 351.6 L512.9 355.9 L508.6 361.7 L507.9 366.0 L511.5 371.7 L513.6 377.4 L512.9 387.4 L513.6 394.6 L512.9 403.1 L512.2 410.0" fill="none" stroke="#000" stroke-width="0.9"/>
<path d="M586.6 225.1 L580.1 231.5 L574.4 235.8 L570.1 241.5 L567.3 248.7 L568.0 255.8 L566.5 263.0 L565.1 271.5 L565.8 278.7 L568.7 283.0 L567.3 287.3 L561.5 290.1 L551.5 290.1 L545.8 293.0 L540.1 297.3 L532.9 301.6 L527.2 304.4 L524.3 308.7 L522.9 315.9 L520.1 323.0 L518.6 330.2 L518.6 337.3 L520.1 344.5 L519.3 350.2" fill="none" stroke="#000" stroke-width="0.9"/>
<path d="M594.4 226.5 L593.0 234.4 L594.4 240.1 L597.3 248.7 L600.2 260.1 L601.6 268.7 L603.0 280.1 L605.9 288.7 L608.7 294.4 L607.3 301.6 L605.9 308.7 L605.9 317.3 L600.2 321.6 L594.4 324.5" fill="none" stroke="#000" stroke-width="0.9"/>
<path d="M594.4 324.5 L588.7 328.8 L580.1 331.6 L571.5 335.9 L565.8 337.3 L560.1 334.5 L554.4 334.5 L553.0 338.8 L554.4 344.5 L553.0 348.8 L548.7 353.1 L542.9 355.9 L537.2 358.8 L531.5 358.8 L525.8 355.9 L521.5 351.6 L518.6 351.6" fill="none" stroke="#000" stroke-width="0.9"/>
<path d="M605.9 301.6 L614.5 301.6 L623.0 303.0 L628.8 305.9 L633.1 308.7 L637.3 305.9" fill="none" stroke="#000" stroke-width="0.9"/>
<path d="M594.4 324.5 L598.7 325.9 L601.6 331.6 L605.9 335.9 L608.7 334.5 L614.5 330.2 L620.2 324.5 L625.9 321.6 L631.6 324.5 L637.3 324.5 L643.1 328.8 L647.4 335.9 L651.6 338.8 L658.8 340.2 L666.0 344.5 L671.7 348.8 L676.0 353.1" fill="none" stroke="#000" stroke-width="0.9"/>
<path d="M663.1 259.4 L657.4 261.5 L653.1 267.3 L648.8 274.4 L643.1 280.1 L640.2 285.9 L638.8 293.0 L640.2 300.2 L638.8 305.9" fill="none" stroke="#000" stroke-width="0.9"/>
<path d="M640.2 285.9 L645.9 283.0 L651.6 280.1 L657.4 278.7 L661.7 280.1 L660.2 285.9 L664.5 290.1 L668.8 293.0 L673.1 293.0 L674.5 284.4 L680.3 284.4 L687.4 285.9 L694.6 286.6 L700.3 286.6" fill="none" stroke="#000" stroke-width="0.9"/>
<path d="M638.8 305.9 L644.5 307.3 L651.6 304.4 L658.8 301.6 L664.5 301.6 L666.0 305.9 L668.8 308.7 L673.1 310.2 L680.3 308.7 L687.4 305.9 L691.7 303.0 L697.4 301.6 L702.4 303.0" fill="none" stroke="#000" stroke-width="0.9"/>
<path d="M647.4 335.9 L655.9 327.3 L661.7 328.8 L666.0 331.6 L673.1 328.8 L680.3 327.3 L687.4 325.9 L694.6 325.9 L698.9 327.3" fill="none" stroke="#000" stroke-width="0.9"/>
<path d="M647.4 335.9 L651.6 340.2 L655.9 345.9 L653.1 351.6 L647.4 358.8 L645.9 363.1 L650.2 367.4 L655.9 371.7 L660.2 366.0" fill="none" stroke="#000" stroke-width="0.9"/>
<path d="M514.4 400.0 L513.0 408.6 L514.4 414.3 L517.3 420.0 L517.3 428.6" fill="none" stroke="#000" stroke-width="0.9"/>
<path d="M517.3 430.0 L524.4 427.2 L533.0 422.9 L540.2 418.6 L547.3 415.7 L553.1 418.6 L554.5 422.9 L561.6 422.9 L568.8 425.7 L575.9 428.6 L584.5 430.0 L590.2 434.3" fill="none" stroke="#000" stroke-width="0.9"/>
<path d="M593.8 436.7 L594.8 439.7 L599.8 439.7 L604.8 440.7 L609.8 441.7 L614.7 443.7 L618.2 447.7 L617.7 450.6 L613.7 453.6 L611.7 457.6 L608.8 459.6 L607.8 462.6 L606.8 467.6 L608.8 470.5 L611.7 473.5 L613.7 476.5 L617.7 479.5 L621.7 482.5" fill="none" stroke="#000" stroke-width="0.9"/>
<path d="M612.7 476.5 L606.8 476.5 L602.8 478.5 L599.8 480.5 L597.8 484.5 L599.8 489.5 L596.8 492.4 L599.8 494.4 L600.8 499.4 L599.8 504.4 L597.8 508.4 L595.8 512.3 L591.8 515.3 L586.9 516.3 L585.9 521.3 L584.9 525.3 L587.9 530.2 L589.9 531.2 L594.8 532.2 L599.8 532.7" fill="none" stroke="#000" stroke-width="0.9"/>
<path d="M586.0 525.9 L583.1 531.6 L578.8 537.3 L577.4 541.6 L571.6 543.0 L564.5 544.5 L557.3 545.9 L550.2 547.3 L543.0 550.2 L535.9 551.6 L528.7 554.5 L521.6 557.3 L514.4 558.8 L510.1 557.3 L507.3 551.6 L505.9 543.0 L507.3 537.3 L503.0 534.5 L500.1 528.7 L497.3 524.4 L495.8 520.2 L494.4 514.4 L491.5 511.6 L485.8 511.6 L480.1 513.0 L474.4 513.0 L468.7 514.4 L467.2 518.7 L464.4 515.9 L461.5 511.6 L454.4 510.1 L447.2 510.1 L441.5 508.7 L435.8 510.9 L432.9 514.4 L428.6 518.7 L424.3 524.4 L420.0 534.5 L414.3 543.0 L408.6 548.8 L400.0 553.1" fill="none" stroke="#000" stroke-width="0.9"/>
<path d="M535.9 551.6 L539.5 557.3 L537.3 564.5" fill="none" stroke="#000" stroke-width="0.9"/>
<path d="M485.8 485.1 L491.5 481.5 L494.4 474.4 L493.0 465.8 L494.4 460.1 L493.0 454.4 L494.4 445.8" fill="none" stroke="#000" stroke-width="0.9"/>
<path d="M480.1 437.2 L494.4 437.2 L494.4 445.8 L479.4 445.8 L480.1 437.2" fill="none" stroke="#000" stroke-width="0.9"/>
<path d="M494.4 445.8 L500.1 444.3 L503.0 441.5 L502.3 435.8 L503.0 430.0 L507.3 425.7 L510.1 423.6 L513.0 425.7 L517.3 430.0" fill="none" stroke="#000" stroke-width="0.9"/>
<path d="M400.0 484.4 L405.7 488.7 L414.3 493.0 L421.5 495.8 L428.6 498.7 L435.8 503.0" fill="none" stroke="#000" stroke-width="0.9"/>
<path d="M435.8 503.0 L440.1 493.0 L445.8 488.7 L454.4 487.3 L461.5 485.8 L468.7 483.7 L475.8 484.4 L484.4 485.8 L491.5 481.5" fill="none" stroke="#000" stroke-width="0.9"/>
<path d="M435.8 503.0 L434.3 510.1" fill="none" stroke="#000" stroke-width="0.9"/>
<path d="M438.6 400.0 L435.8 408.6 L432.9 418.6 L425.7 428.6 L421.5 435.8 L417.2 442.9 L408.6 451.5 L402.9 457.2 L400.0 461.5" fill="none" stroke="#000" stroke-width="0.9"/>
<path d="M388.7 616.5 L400.1 618.7 L408.7 620.1 L418.7 621.5 L425.9 622.2 L428.7 620.1 L430.2 617.2 L437.3 614.4 L444.5 613.0 L450.2 613.0 L455.9 614.4 L461.6 613.0 L467.4 611.5 L473.1 611.5" fill="none" stroke="#000" stroke-width="0.9"/>
<path d="M388.7 630.1 L400.1 631.5 L408.7 633.0 L417.3 635.8 L424.4 638.7 L430.2 643.0 L435.9 648.7 L440.2 653.0 L447.3 654.4 L454.5 654.4 L453.1 660.2 L450.2 664.4 L448.8 667.3 L454.5 667.3" fill="none" stroke="#000" stroke-width="0.9"/>
<path d="M380.1 578.6 L384.4 568.6 L388.7 561.5 L394.4 557.2 L400.1 554.3 L408.7 554.3 L417.3 555.0 L425.9 555.7 L434.5 557.2 L443.0 558.6 L451.6 561.5 L455.9 564.3 L457.3 571.5 L460.2 580.1 L463.1 587.2 L468.8 590.1 L474.5 591.5 L477.4 594.4 L480.2 597.2" fill="none" stroke="#000" stroke-width="0.9"/>
<path d="M400.1 554.3 L405.9 548.6 L411.6 544.3 L415.9 540.0" fill="none" stroke="#000" stroke-width="0.9"/>
<path d="M428.7 680.2 L430.2 688.8 L427.3 694.5 L423.0 698.8 L418.7 703.1 L415.9 708.8 L414.4 713.1" fill="none" stroke="#000" stroke-width="0.9"/>
<path d="M440.2 683.0 L437.3 688.8 L433.0 693.1 L428.7 697.3" fill="none" stroke="#000" stroke-width="0.9"/>
<path d="M55.0 297.2 L171.6 343.0 L178.8 335.8 L187.3 335.8 L191.6 334.4 L198.8 331.5 L205.9 328.7 L214.5 327.2 L217.4 320.1 L221.7 315.8 L226.0 311.5 L236.0 311.5 L241.7 315.8 L247.4 320.1 L253.1 324.4 L257.4 324.4" fill="none" stroke="#000" stroke-width="0.9"/>
<path d="M257.2 324.3 L257.9 335.8 L258.6 347.2 L258.6 361.5 L277.2 361.5 L283.0 364.4 L284.4 371.5 L285.8 380.1 L285.8 387.3 L281.5 394.4 L277.2 400.1 L273.0 405.9" fill="none" stroke="#000" stroke-width="0.9"/>
<path d="M257.2 324.3 L310.1 324.3 L311.6 314.3 L314.4 300.0" fill="none" stroke="#000" stroke-width="0.9"/>
<path d="M314.4 300.0 L323.0 318.6 L328.7 327.2 L337.3 332.9 L343.0 335.8 L357.3 337.2 L386.0 339.3 L430.0 341.5" fill="none" stroke="#000" stroke-width="0.9"/>
<path d="M323.0 475.9 L328.7 475.9 L337.3 470.2 L343.0 465.9 L350.2 464.5 L357.3 468.8 L364.5 473.1 L371.6 471.6 L380.2 470.2 L386.0 465.9 L388.8 467.4 L386.0 474.5 L384.5 477.4 L390.2 478.8 L397.4 478.8 L400.3 484.5 L403.1 490.2 L414.6 494.5 L423.1 497.4 L430.0 498.8" fill="none" stroke="#000" stroke-width="0.9"/>
<path d="M430.0 428.7 L423.1 431.6 L420.3 438.7 L414.6 444.5 L408.8 450.2 L403.1 457.3 L398.8 464.5 L397.4 471.6 L397.4 478.8" fill="none" stroke="#000" stroke-width="0.9"/>
<use href="#brzline"/>
<rect x="35.3" y="78" width="680.7" height="684" fill="none" stroke="#000" stroke-width="2"/>
<line x1="31" y1="94.5" x2="35.3" y2="94.5" stroke="#000" stroke-width="1"/>
<text x="26.4" y="101.7" font-size="20" text-anchor="end" textLength="17.0" lengthAdjust="spacingAndGlyphs" style="font-family:'Liberation Serif',serif" >5N</text>
<line x1="31" y1="177.9" x2="35.3" y2="177.9" stroke="#000" stroke-width="1"/>
<text x="26.4" y="185.1" font-size="20" text-anchor="end" textLength="17.0" lengthAdjust="spacingAndGlyphs" style="font-family:'Liberation Serif',serif" >EQ</text>
<line x1="31" y1="261.4" x2="35.3" y2="261.4" stroke="#000" stroke-width="1"/>
<text x="26.4" y="268.6" font-size="20" text-anchor="end" textLength="17.0" lengthAdjust="spacingAndGlyphs" style="font-family:'Liberation Serif',serif" >5S</text>
<line x1="31" y1="344.9" x2="35.3" y2="344.9" stroke="#000" stroke-width="1"/>
<text x="26.4" y="352.1" font-size="20" text-anchor="end" textLength="25.5" lengthAdjust="spacingAndGlyphs" style="font-family:'Liberation Serif',serif" >10S</text>
<line x1="31" y1="428.3" x2="35.3" y2="428.3" stroke="#000" stroke-width="1"/>
<text x="26.4" y="435.5" font-size="20" text-anchor="end" textLength="25.5" lengthAdjust="spacingAndGlyphs" style="font-family:'Liberation Serif',serif" >15S</text>
<line x1="31" y1="511.8" x2="35.3" y2="511.8" stroke="#000" stroke-width="1"/>
<text x="26.4" y="519.0" font-size="20" text-anchor="end" textLength="25.5" lengthAdjust="spacingAndGlyphs" style="font-family:'Liberation Serif',serif" >20S</text>
<line x1="31" y1="595.2" x2="35.3" y2="595.2" stroke="#000" stroke-width="1"/>
<text x="26.4" y="602.4" font-size="20" text-anchor="end" textLength="25.5" lengthAdjust="spacingAndGlyphs" style="font-family:'Liberation Serif',serif" >25S</text>
<line x1="31" y1="678.7" x2="35.3" y2="678.7" stroke="#000" stroke-width="1"/>
<text x="26.4" y="685.9" font-size="20" text-anchor="end" textLength="25.5" lengthAdjust="spacingAndGlyphs" style="font-family:'Liberation Serif',serif" >30S</text>
<line x1="31" y1="762.1" x2="35.3" y2="762.1" stroke="#000" stroke-width="1"/>
<text x="26.4" y="769.3" font-size="20" text-anchor="end" textLength="25.5" lengthAdjust="spacingAndGlyphs" style="font-family:'Liberation Serif',serif" >35S</text>
<line x1="35.3" y1="762" x2="35.3" y2="766.5" stroke="#000" stroke-width="1"/>
<text x="35.3" y="785.8" font-size="20" text-anchor="middle" textLength="26.5" lengthAdjust="spacingAndGlyphs" style="font-family:'Liberation Serif',serif" >75W</text>
<line x1="118.3" y1="762" x2="118.3" y2="766.5" stroke="#000" stroke-width="1"/>
<text x="118.3" y="785.8" font-size="20" text-anchor="middle" textLength="26.5" lengthAdjust="spacingAndGlyphs" style="font-family:'Liberation Serif',serif" >70W</text>
<line x1="201.3" y1="762" x2="201.3" y2="766.5" stroke="#000" stroke-width="1"/>
<text x="201.3" y="785.8" font-size="20" text-anchor="middle" textLength="26.5" lengthAdjust="spacingAndGlyphs" style="font-family:'Liberation Serif',serif" >65W</text>
<line x1="284.3" y1="762" x2="284.3" y2="766.5" stroke="#000" stroke-width="1"/>
<text x="284.3" y="785.8" font-size="20" text-anchor="middle" textLength="26.5" lengthAdjust="spacingAndGlyphs" style="font-family:'Liberation Serif',serif" >60W</text>
<line x1="367.3" y1="762" x2="367.3" y2="766.5" stroke="#000" stroke-width="1"/>
<text x="367.3" y="785.8" font-size="20" text-anchor="middle" textLength="26.5" lengthAdjust="spacingAndGlyphs" style="font-family:'Liberation Serif',serif" >55W</text>
<line x1="450.3" y1="762" x2="450.3" y2="766.5" stroke="#000" stroke-width="1"/>
<text x="450.3" y="785.8" font-size="20" text-anchor="middle" textLength="26.5" lengthAdjust="spacingAndGlyphs" style="font-family:'Liberation Serif',serif" >50W</text>
<line x1="533.3" y1="762" x2="533.3" y2="766.5" stroke="#000" stroke-width="1"/>
<text x="533.3" y="785.8" font-size="20" text-anchor="middle" textLength="26.5" lengthAdjust="spacingAndGlyphs" style="font-family:'Liberation Serif',serif" >45W</text>
<line x1="616.3" y1="762" x2="616.3" y2="766.5" stroke="#000" stroke-width="1"/>
<text x="616.3" y="785.8" font-size="20" text-anchor="middle" textLength="26.5" lengthAdjust="spacingAndGlyphs" style="font-family:'Liberation Serif',serif" >40W</text>
<line x1="699.3" y1="762" x2="699.3" y2="766.5" stroke="#000" stroke-width="1"/>
<text x="699.3" y="785.8" font-size="20" text-anchor="middle" textLength="26.5" lengthAdjust="spacingAndGlyphs" style="font-family:'Liberation Serif',serif" >35W</text>
<rect x="731" y="201" width="14" height="46" fill="#ff6400" stroke="#000" stroke-width="1.6"/>
<rect x="731" y="247" width="14" height="46" fill="#ffa000" stroke="#000" stroke-width="1.6"/>
<rect x="731" y="293" width="14" height="46" fill="#ffc03c" stroke="#000" stroke-width="1.6"/>
<rect x="731" y="339" width="14" height="46" fill="#fff7ab" stroke="#000" stroke-width="1.6"/>
<rect x="731" y="385" width="14" height="46" fill="#a9a9a9" stroke="#000" stroke-width="1.6"/>
<rect x="731" y="431" width="14" height="46" fill="#b2eefa" stroke="#000" stroke-width="1.6"/>
<rect x="731" y="477" width="14" height="46" fill="#96d2fa" stroke="#000" stroke-width="1.6"/>
<rect x="731" y="523" width="14" height="46" fill="#50a5f5" stroke="#000" stroke-width="1.6"/>
<rect x="731" y="569" width="14" height="46" fill="#1e6eeb" stroke="#000" stroke-width="1.6"/>
<path d="M731 201 L738 155 L745 201 Z" fill="#ff3200" stroke="#000" stroke-width="1.6" stroke-linejoin="round"/>
<path d="M731 615 L738 661 L745 615 Z" fill="#0a0fc8" stroke="#000" stroke-width="1.6" stroke-linejoin="round"/>
<text x="749.5" y="207.3" font-size="18.5" textLength="7.6" lengthAdjust="spacingAndGlyphs" style="font-family:'Liberation Serif',serif;font-weight:bold">3</text>
<text x="749.5" y="253.3" font-size="18.5" textLength="7.6" lengthAdjust="spacingAndGlyphs" style="font-family:'Liberation Serif',serif;font-weight:bold">2</text>
<text x="749.5" y="299.3" font-size="18.5" textLength="21" lengthAdjust="spacingAndGlyphs" style="font-family:'Liberation Serif',serif;font-weight:bold">1.5</text>
<text x="749.5" y="345.3" font-size="18.5" textLength="5.6" lengthAdjust="spacingAndGlyphs" style="font-family:'Liberation Serif',serif;font-weight:bold">1</text>
<text x="749.5" y="391.3" font-size="18.5" textLength="21" lengthAdjust="spacingAndGlyphs" style="font-family:'Liberation Serif',serif;font-weight:bold">0.5</text>
<rect x="750.1" y="430.8" width="8.6" height="1.5" fill="#000"/>
<text x="761" y="437.3" font-size="18.5" textLength="20" lengthAdjust="spacingAndGlyphs" style="font-family:'Liberation Serif',serif;font-weight:bold">0.5</text>
<rect x="750.1" y="476.8" width="8.6" height="1.5" fill="#000"/>
<text x="761" y="483.3" font-size="18.5" textLength="5.6" lengthAdjust="spacingAndGlyphs" style="font-family:'Liberation Serif',serif;font-weight:bold">1</text>
<rect x="750.1" y="522.8" width="8.6" height="1.5" fill="#000"/>
<text x="761" y="529.3" font-size="18.5" textLength="19.5" lengthAdjust="spacingAndGlyphs" style="font-family:'Liberation Serif',serif;font-weight:bold">1.5</text>
<rect x="750.1" y="568.8" width="8.6" height="1.5" fill="#000"/>
<text x="761" y="575.3" font-size="18.5" textLength="7.6" lengthAdjust="spacingAndGlyphs" style="font-family:'Liberation Serif',serif;font-weight:bold">2</text>
<rect x="750.1" y="614.8" width="8.6" height="1.5" fill="#000"/>
<text x="761" y="621.3" font-size="18.5" textLength="7.6" lengthAdjust="spacingAndGlyphs" style="font-family:'Liberation Serif',serif;font-weight:bold">3</text>
<text transform="translate(795,354.3) rotate(-90)" font-size="17" text-anchor="middle" textLength="34.5" lengthAdjust="spacingAndGlyphs" style="font-family:'Liberation Serif',serif">( °C )</text>
<use href="#logo"/>
</g><g transform="translate(816,791)">
<text x="217.6" y="22.8" font-size="21.5" textLength="96.1" lengthAdjust="spacingAndGlyphs" style="font-family:'Liberation Serif',serif;font-weight:bold">ANOMALIAS</text>
<text x="325.3" y="22.8" font-size="21.5" textLength="21.0" lengthAdjust="spacingAndGlyphs" style="font-family:'Liberation Serif',serif;font-weight:bold">DE</text>
<text x="359.1" y="22.8" font-size="21.5" textLength="136.9" lengthAdjust="spacingAndGlyphs" style="font-family:'Liberation Serif',serif;font-weight:bold">TEMPERATURAS</text>
<text x="508.2" y="22.8" font-size="21.5" textLength="63.0" lengthAdjust="spacingAndGlyphs" style="font-family:'Liberation Serif',serif;font-weight:bold">MEDIAS</text>
<text x="254.1" y="45.6" font-size="21.5" textLength="59.8" lengthAdjust="spacingAndGlyphs" style="font-family:'Liberation Serif',serif;font-weight:bold">VALIDO</text>
<text x="325.8" y="45.6" font-size="21.5" textLength="45.1" lengthAdjust="spacingAndGlyphs" style="font-family:'Liberation Serif',serif;font-weight:bold">PARA</text>
<text x="381.0" y="45.6" font-size="21.5" textLength="67.2" lengthAdjust="spacingAndGlyphs" style="font-family:'Liberation Serif',serif;font-weight:bold">AGOSTO</text>
<text x="460.1" y="45.6" font-size="21.5" textLength="22.1" lengthAdjust="spacingAndGlyphs" style="font-family:'Liberation Serif',serif;font-weight:bold">DE</text>
<text x="495.1" y="45.6" font-size="21.5" textLength="39.5" lengthAdjust="spacingAndGlyphs" style="font-family:'Liberation Serif',serif;font-weight:bold">1976</text>
<text x="202.4" y="69.2" font-size="21.5" textLength="124.4" lengthAdjust="spacingAndGlyphs" style="font-family:'Liberation Serif',serif;font-weight:bold">CLIMATOLOGIA</text>
<text x="337.2" y="69.2" font-size="21.5" textLength="22.1" lengthAdjust="spacingAndGlyphs" style="font-family:'Liberation Serif',serif;font-weight:bold">DE</text>
<text x="370.4" y="69.2" font-size="21.5" textLength="115.1" lengthAdjust="spacingAndGlyphs" style="font-family:'Liberation Serif',serif;font-weight:bold">REFERENCIA:</text>
<text x="486.9" y="69.2" font-size="21.5" textLength="41.7" lengthAdjust="spacingAndGlyphs" style="font-family:'Liberation Serif',serif;font-weight:bold">1981</text>
<text x="530.5" y="69.2" font-size="21.5" textLength="10.0" lengthAdjust="spacingAndGlyphs" style="font-family:'Liberation Serif',serif;font-weight:bold">−</text>
<text x="544.5" y="69.2" font-size="21.5" textLength="42.3" lengthAdjust="spacingAndGlyphs" style="font-family:'Liberation Serif',serif;font-weight:bold">2010</text>
<line x1="305.5" y1="27.3" x2="313.7" y2="4.5" stroke="#000" stroke-width="1"/>
<line x1="486.7" y1="27.3" x2="495.5" y2="4.5" stroke="#000" stroke-width="1"/>
<line x1="562.4" y1="27.3" x2="571.2" y2="4.5" stroke="#000" stroke-width="1"/>
<line x1="211.6" y1="50.3" x2="210.6" y2="58.3" stroke="#000" stroke-width="1"/>
<line x1="308.4" y1="50.9" x2="307.4" y2="59.5" stroke="#000" stroke-width="1"/>
<line x1="462.3" y1="50.9" x2="461.3" y2="59.5" stroke="#000" stroke-width="1"/>
<line x1="401.3" y1="27.1" x2="401.3" y2="34.8" stroke="#000" stroke-width="1"/>
<line x1="417.6" y1="49.7" x2="425.6" y2="26.5" stroke="#000" stroke-width="1"/>
<g clip-path="url(#brz)">
<rect x="40" y="80" width="680" height="680" fill="#a9a9a9"/>
<path d="M238.8 111.7 L262.0 103.3 L274.7 88.5 L293.8 88.5 L293.8 111.7 L287.4 132.9 L272.6 130.8 L251.5 122.3 L240.9 115.9 Z" fill="#b2eefa"/>
<path d="M143.6 213.2 L150.0 206.9 L166.9 198.4 L179.6 185.7 L192.3 168.8 L209.2 154.0 L224.0 149.8 L240.9 160.4 L259.9 175.2 L272.6 192.1 L266.3 206.9 L255.7 217.4 L247.2 228.0 L243.0 244.9 L240.9 261.9 L234.5 268.2 L230.3 259.7 L226.1 244.9 L221.9 234.4 L213.4 225.9 L200.7 221.7 L188.0 225.9 L175.3 236.5 L162.6 240.7 L150.0 234.4 Z" fill="#b2eefa"/>
<path d="M40.0 291.5 L56.9 291.5 L65.4 270.3 L82.3 257.6 L103.4 251.3 L124.6 253.4 L145.7 264.0 L158.4 278.8 L162.6 291.5 L158.4 308.4 L145.7 319.0 L128.8 325.3 L103.4 323.2 L82.3 325.3 L67.5 323.2 L40.0 312.6 Z" fill="#b2eefa"/>
<path d="M383.1 141.5 L374.0 89.0 L424.0 89.0 L484.0 149.0 L524.0 184.0 L475.7 185.7 L488.4 190.0 L509.6 198.4 L509.6 228.0 L509.6 249.2 L505.3 259.7 L496.9 266.1 L486.3 270.3 L475.7 276.7 L469.4 283.0 L465.2 291.5 L471.5 302.0 L484.2 312.6 L496.9 333.8 L505.3 354.9 L507.4 376.0 L501.1 386.6 L488.4 397.2 L475.7 399.3 L454.6 397.2 L441.9 386.6 L433.4 365.5 L427.1 344.3 L420.8 323.2 L416.5 302.0 L412.3 283.0 L401.7 270.3 L391.1 264.0 L370.0 261.9 L367.8 259.7 L357.2 244.9 L355.1 228.0 L357.2 206.9 L363.5 192.1 L369.0 169.0 Z" fill="#b2eefa"/>
<path d="M545.5 223.8 L560.3 221.7 L581.5 225.9 L594.1 228.0 L594.1 249.2 L589.9 266.1 L581.5 274.5 L570.9 274.5 L560.3 270.3 L549.7 266.1 L545.5 249.2 L539.2 236.5 Z" fill="#b2eefa"/>
<path d="M598.4 295.7 L606.8 289.3 L623.8 289.3 L636.4 291.5 L630.1 302.0 L623.8 312.6 L606.8 314.7 L598.4 308.4 Z" fill="#b2eefa"/>
<path d="M545.5 327.4 L551.9 323.2 L556.1 329.5 L550.8 333.8 Z" fill="#b2eefa"/>
<path d="M644.9 255.5 L670.3 255.5 L729.5 259.7 L729.5 397.2 L644.9 384.5 L625.9 380.3 L623.8 371.8 L636.4 361.2 L651.2 350.7 L666.0 342.2 L676.6 333.8 L687.2 327.4 L693.5 312.6 L693.5 291.5 L676.6 283.0 L655.5 278.8 L644.9 270.3 Z" fill="#b2eefa"/>
<path d="M196.5 363.4 L209.2 350.7 L230.3 338.0 L251.5 323.2 L272.6 312.6 L293.8 308.4 L306.4 308.4 L319.1 316.8 L331.8 333.8 L346.6 346.4 L361.4 361.2 L369.9 376.0 L365.7 393.0 L346.6 401.4 L325.5 409.9 L314.9 420.0 L322.6 400.0 L326.9 442.3 L324.8 463.4 L318.4 469.8 L284.0 474.0 L224.0 449.0 L184.0 389.0 Z" fill="#b2eefa"/>
<path d="M318.4 480.4 L326.9 484.6 L337.4 493.0 L358.6 499.4 L379.7 501.5 L400.9 499.4 L422.0 495.2 L432.6 488.8 L432.6 478.2 L449.5 463.4 L460.1 450.8 L468.6 440.2 L474.9 450.8 L485.5 459.2 L496.0 463.4 L506.6 455.0 L513.0 463.4 L508.7 480.4 L504.5 493.0 L502.4 510.0 L508.7 526.9 L517.2 548.0 L527.8 558.6 L528.2 544.2 L530.1 566.6 L550.6 585.2 L484.0 809.0 L284.0 809.0 L184.0 509.0 L234.0 479.0 Z" fill="#b2eefa"/>
<path d="M541.3 529.3 L550.6 519.9 L558.1 529.3 L554.3 544.2 L548.7 547.9 L543.1 542.3 Z" fill="#b2eefa"/>
<path d="M354.0 135.9 L371.9 137.1 L383.1 141.5 L387.6 147.1 L398.8 152.7 L407.7 161.7 L415.6 170.6 L423.4 179.6 L427.9 187.4 L430.1 195.3 L432.4 205.3 L432.4 213.2 L426.8 219.9 L421.2 225.5 L415.6 228.9 L407.7 233.3 L398.8 234.5 L392.1 230.0 L387.6 222.1 L386.5 210.9 L384.2 202.0 L376.4 195.3 L367.4 191.9 L360.7 194.2 L357.4 199.8 L355.1 210.9 L354.0 216.5 Z" fill="#a9a9a9"/>
<path d="M465.9 181.8 L477.1 181.8 L477.1 186.3 L468.2 187.4 Z" fill="#a9a9a9"/>
<path d="M442.4 510.6 L448.0 499.4 L466.6 488.2 L485.3 486.3 L496.5 493.8 L490.9 506.9 L476.0 514.3 L464.8 521.8 L457.3 529.3 L448.0 533.0 L440.5 525.5 Z" fill="#a9a9a9"/>
<path d="M318.4 674.9 L335.3 672.8 L339.6 681.2 L331.1 687.6 L314.2 687.6 Z" fill="#a9a9a9"/>
<path d="M245.1 145.6 L262.0 145.6 L283.2 154.0 L302.2 162.5 L308.6 175.2 L310.7 185.7 L304.3 192.1 L293.8 187.8 L279.0 179.4 L262.0 168.8 L251.5 156.1 Z" fill="#fff7ab"/>
<path d="M295.9 177.3 L302.2 175.2 L302.2 181.5 L296.9 181.5 Z" fill="#ffc03c"/>
<path d="M175.3 261.9 L188.0 249.2 L202.8 240.7 L209.2 249.2 L209.2 266.1 L200.7 272.4 L188.0 272.4 L179.6 268.2 Z" fill="#fff7ab"/>
<path d="M183.8 261.4 L188.0 260.2 L190.6 262.9 L184.9 263.5 Z" fill="#ffc03c"/>
<path d="M281.1 240.7 L285.3 223.8 L289.5 238.6 L287.4 251.3 L283.2 253.4 Z" fill="#fff7ab"/>
<path d="M390.9 177.4 L399.9 170.6 L407.7 177.4 L416.7 185.2 L423.4 193.0 L426.8 199.8 L427.9 206.5 L425.6 214.3 L418.9 219.9 L410.0 222.1 L401.0 222.1 L395.4 216.5 L393.2 205.3 L392.1 194.2 Z" fill="#fff7ab"/>
<path d="M398.8 181.8 L404.4 179.6 L412.2 186.3 L420.0 194.2 L424.5 202.0 L423.4 210.9 L418.9 215.4 L410.0 218.8 L402.1 217.7 L398.8 210.9 L397.7 199.8 Z" fill="#ffc03c"/>
<path d="M399.9 202.0 L407.7 196.4 L416.7 195.3 L421.2 199.8 L421.2 208.7 L415.6 214.3 L406.6 214.3 L401.0 210.9 Z" fill="#ffa000"/>
<path d="M346.6 312.6 L357.2 304.2 L382.7 299.9 L397.5 312.6 L412.3 333.8 L422.9 354.9 L433.4 376.0 L439.8 397.2 L443.2 410.6 L445.3 431.7 L436.8 446.5 L424.1 459.2 L403.0 469.8 L386.1 474.0 L369.2 474.0 L354.4 463.4 L350.1 442.3 L348.0 425.4 L339.6 412.7 L344.0 399.0 L359.0 384.0 L372.0 376.0 L365.6 354.9 L357.2 333.8 L348.7 323.2 Z" fill="#fff7ab"/>
<path d="M365.6 312.6 L382.7 312.6 L397.5 325.3 L412.3 344.3 L422.9 365.5 L429.2 386.6 L433.4 407.8 L424.1 416.9 L411.5 429.6 L400.9 442.3 L390.3 444.4 L386.1 431.7 L373.4 421.1 L369.2 412.7 L369.0 399.0 L374.0 379.0 L372.0 349.0 L368.0 329.0 Z" fill="#ffc03c"/>
<path d="M380.6 323.2 L401.7 333.8 L418.6 354.9 L429.2 376.0 L431.3 397.2 L422.0 404.0 L411.5 412.7 L398.8 416.9 L390.3 408.5 L386.0 394.0 L389.0 374.0 L384.0 349.0 Z" fill="#ffa000"/>
<path d="M395.4 367.6 L406.0 365.5 L418.6 384.5 L416.5 401.4 L403.0 406.0 L393.3 388.7 Z" fill="#ff6400"/>
<path d="M480.0 291.5 L496.9 280.9 L528.6 276.7 L560.3 280.9 L573.0 291.5 L573.0 304.1 L560.3 308.4 L539.2 308.4 L522.3 312.6 L513.8 323.2 L501.1 340.1 L486.3 340.1 L480.0 323.2 Z" fill="#fff7ab"/>
<path d="M484.2 295.7 L501.1 289.3 L513.8 291.5 L518.0 312.6 L509.6 323.2 L496.9 333.8 L486.3 329.5 L484.2 312.6 Z" fill="#ffc03c"/>
<path d="M494.8 291.5 L505.3 293.6 L507.4 312.6 L501.1 323.2 L496.9 312.6 Z" fill="#ffa000"/>
<path d="M549.7 293.6 L568.8 293.6 L568.8 297.8 L549.7 297.8 Z" fill="#ffc03c"/>
<path d="M530.7 359.1 L549.7 350.7 L570.9 344.3 L581.5 338.0 L589.9 329.5 L592.0 344.3 L594.1 354.9 L589.9 365.5 L577.2 376.0 L568.8 384.5 L556.1 380.3 L543.4 373.9 Z" fill="#fff7ab"/>
<path d="M545.5 361.2 L562.4 352.8 L570.9 359.1 L568.8 373.9 L560.3 378.2 Z" fill="#ffc03c"/>
<path d="M628.0 327.4 L636.4 325.3 L638.6 331.6 L632.2 333.8 Z" fill="#fff7ab"/>
<path d="M515.1 409.9 L531.9 406.1 L550.6 403.3 L574.9 411.7 L582.3 426.6 L591.6 441.6 L595.4 454.6 L595.4 469.6 L589.8 478.9 L597.2 491.9 L593.5 501.3 L580.4 505.0 L565.5 501.3 L550.6 495.7 L539.4 488.2 L530.1 477.0 L528.2 464.0 L530.1 450.9 L524.5 436.0 L517.0 422.9 Z" fill="#fff7ab"/>
<path d="M539.4 411.7 L550.6 408.9 L558.1 411.7 L559.9 426.6 L550.6 437.8 L541.3 426.6 Z" fill="#ffc03c"/>
<path d="M543.1 462.1 L550.6 454.6 L558.1 462.1 L550.6 468.6 Z" fill="#ffc03c"/>
<path d="M565.5 493.8 L578.6 491.9 L586.0 493.8 L584.2 497.5 L569.3 497.5 Z" fill="#ffc03c"/>
<path d="M177.4 211.1 L194.4 181.5 L207.1 160.4 L219.7 156.1 L240.9 164.6 L257.8 177.3 L266.3 194.2 L257.8 206.9 L249.3 217.4 L238.8 228.0 L234.5 230.1 L226.1 223.8 L213.4 217.4 L198.6 213.2 Z" fill="#96d2fa"/>
<path d="M97.1 278.8 L114.0 274.5 L135.2 276.7 L150.0 289.3 L152.1 297.8 L135.2 304.1 L116.1 299.9 L103.4 291.5 Z" fill="#96d2fa"/>
<path d="M204.9 371.8 L219.7 354.9 L240.9 340.1 L262.0 329.5 L283.2 321.1 L304.3 319.0 L323.4 325.3 L340.3 340.1 L355.1 357.0 L363.5 376.0 L357.2 390.8 L336.0 399.3 L321.2 405.7 L310.7 420.0 L318.4 431.7 L316.3 450.8 L310.0 452.9 L264.0 469.0 L184.0 389.0 Z" fill="#96d2fa"/>
<path d="M413.3 143.8 L416.7 132.6 L423.4 123.6 L430.1 121.4 L434.6 127.0 L439.1 135.9 L443.6 142.7 L451.4 149.4 L452.5 157.2 L449.2 163.9 L443.6 168.4 L435.7 170.6 L430.1 166.2 L423.4 161.7 L416.7 155.0 Z" fill="#96d2fa"/>
<path d="M440.2 180.7 L449.2 177.4 L454.8 184.1 L452.5 195.3 L446.9 199.8 L441.3 195.3 Z" fill="#96d2fa"/>
<path d="M389.8 244.5 L404.4 238.9 L421.2 233.3 L432.4 225.5 L443.6 219.9 L454.8 215.4 L465.9 210.9 L474.9 206.5 L482.7 199.8 L493.9 194.2 L501.8 191.9 L504.0 199.8 L502.9 216.5 L499.5 233.3 L497.3 250.1 L493.9 261.3 L488.3 266.9 L477.1 266.9 L465.9 261.3 L454.8 258.0 L443.6 261.3 L432.4 266.9 L421.2 262.4 L410.0 255.7 L398.8 250.1 Z" fill="#96d2fa"/>
<path d="M422.9 280.9 L439.8 274.5 L458.8 276.7 L469.4 291.5 L471.5 312.6 L480.0 333.8 L488.4 354.9 L496.9 376.0 L492.6 388.7 L475.7 393.0 L458.8 388.7 L446.1 376.0 L433.4 354.9 L427.1 333.8 L422.9 312.6 Z" fill="#96d2fa"/>
<path d="M560.3 257.6 L573.0 253.4 L587.8 255.5 L585.7 266.1 L570.9 266.1 Z" fill="#96d2fa"/>
<path d="M318.4 510.0 L348.0 507.8 L379.7 512.1 L400.9 510.0 L422.0 505.7 L432.6 512.1 L424.1 526.9 L411.5 537.4 L400.9 548.0 L390.3 560.7 L379.7 569.2 L364.9 575.5 L360.7 567.1 L356.5 548.0 L320.5 545.9 Z" fill="#96d2fa"/>
<path d="M422.0 531.1 L443.2 526.9 L464.3 531.1 L481.2 535.3 L496.0 526.9 L506.6 548.0 L517.2 569.2 L508.7 577.6 L496.0 575.5 L474.9 579.7 L464.3 584.0 L453.8 598.8 L445.3 590.3 L443.2 575.5 L432.6 569.2 L422.0 560.7 Z" fill="#96d2fa"/>
<path d="M420.0 533.0 L438.7 529.3 L457.3 527.4 L476.0 525.5 L490.9 529.3 L498.4 534.9 L504.0 547.9 L513.3 561.0 L520.7 566.6 L524.5 572.2 L513.3 577.8 L498.4 577.8 L485.3 570.3 L466.6 575.9 L444.3 575.9 L420.0 575.9 Z" fill="#96d2fa"/>
<path d="M377.6 575.5 L390.3 569.2 L411.5 575.5 L432.6 581.9 L443.2 579.7 L453.8 590.3 L464.3 603.0 L470.7 611.5 L460.1 619.9 L432.6 619.9 L411.5 611.5 L390.3 607.2 L377.6 594.5 Z" fill="#96d2fa"/>
<path d="M386.1 617.8 L411.5 611.5 L432.6 619.9 L460.1 619.9 L472.8 615.7 L474.9 632.6 L470.7 653.8 L453.8 670.7 L443.2 679.1 L432.6 683.4 L411.5 683.4 L390.3 679.1 L369.2 670.7 L348.0 662.2 L335.3 672.8 L318.4 672.8 L348.0 649.5 L369.2 636.8 L379.7 628.4 Z" fill="#96d2fa"/>
<path d="M481.2 548.0 L500.3 537.4 L508.7 548.0 L500.3 558.6 L485.5 556.5 Z" fill="#b2eefa"/>
<path d="M481.6 538.6 L502.1 536.7 L504.0 551.6 L483.4 553.5 Z" fill="#b2eefa"/>
<path d="M444.3 575.9 L457.3 572.2 L466.6 585.2 L461.0 600.1 L448.0 600.1 Z" fill="#b2eefa"/>
<path d="M466.6 575.9 L485.3 566.6 L504.0 574.0 L513.3 579.6 L494.6 589.0 L481.6 594.6 L470.4 589.0 Z" fill="#b2eefa"/>
<path d="M379.7 590.3 L390.3 586.1 L396.7 594.5 L390.3 603.0 L379.7 600.9 Z" fill="#b2eefa"/>
<path d="M445.3 577.6 L458.0 573.4 L464.3 590.3 L453.8 600.9 L445.3 590.3 Z" fill="#b2eefa"/>
<path d="M196.5 196.3 L200.7 175.2 L213.4 160.4 L230.3 160.4 L243.0 170.9 L255.7 185.7 L251.5 202.6 L240.9 211.1 L234.5 213.2 L219.7 209.0 L204.9 204.8 Z" fill="#50a5f5"/>
<path d="M209.2 376.0 L226.1 359.1 L251.5 342.2 L272.6 329.5 L293.8 325.3 L314.9 327.4 L331.8 340.1 L348.7 357.0 L355.1 376.0 L348.7 388.7 L331.8 393.0 L314.9 401.4 L304.3 420.0 L310.0 442.3 L299.4 448.6 L254.0 469.0 L174.0 389.0 Z" fill="#50a5f5"/>
<path d="M427.9 160.6 L432.4 152.7 L439.1 147.1 L448.0 147.1 L452.5 152.7 L451.4 159.5 L444.7 166.2 L436.8 169.5 Z" fill="#50a5f5"/>
<path d="M421.2 243.4 L432.4 230.0 L443.6 232.2 L460.3 236.7 L471.5 241.2 L481.6 245.6 L471.5 253.5 L454.8 261.3 L438.0 269.2 L432.4 264.7 L426.8 253.5 Z" fill="#50a5f5"/>
<path d="M429.2 291.5 L439.8 289.3 L460.9 287.2 L467.3 312.6 L463.0 333.8 L475.7 354.9 L486.3 365.5 L480.0 382.4 L463.0 380.3 L450.4 371.8 L439.8 354.9 L433.4 333.8 Z" fill="#50a5f5"/>
<path d="M318.4 529.0 L337.4 526.9 L369.2 531.1 L390.3 537.4 L411.5 531.1 L419.9 535.3 L411.5 548.0 L400.9 556.5 L390.3 567.1 L379.7 569.2 L364.9 573.4 L358.6 567.1 L356.5 548.0 L320.5 545.9 Z" fill="#50a5f5"/>
<path d="M390.3 560.7 L411.5 554.4 L432.6 552.3 L443.2 564.9 L443.2 575.5 L422.0 579.7 L400.9 573.4 Z" fill="#50a5f5"/>
<path d="M390.3 619.9 L400.9 609.3 L417.8 611.5 L428.4 622.0 L443.2 632.6 L453.8 643.2 L453.8 653.8 L439.0 670.7 L424.1 670.7 L411.5 660.1 L390.3 643.2 L384.0 632.6 Z" fill="#50a5f5"/>
<path d="M420.0 534.9 L434.9 544.2 L444.3 557.2 L434.9 566.6 L420.0 566.6 Z" fill="#50a5f5"/>
<path d="M420.0 622.5 L438.7 637.5 L453.6 641.2 L453.6 650.5 L438.7 659.9 L420.0 659.9 Z" fill="#50a5f5"/>
<path d="M496.5 561.0 L502.1 559.1 L503.0 565.6 L498.4 566.6 Z" fill="#50a5f5"/>
<path d="M207.1 181.5 L215.5 162.5 L224.0 160.4 L238.8 170.9 L251.5 187.8 L249.3 198.4 L236.7 204.8 L221.9 202.6 L209.2 194.2 Z" fill="#1e6eeb"/>
<path d="M215.5 380.3 L234.5 363.4 L257.8 346.4 L279.0 333.8 L302.2 331.6 L321.2 338.0 L338.2 352.8 L346.6 369.7 L344.5 384.5 L325.5 388.7 L306.4 395.1 L293.8 407.8 L289.5 420.0 L299.4 446.5 L282.5 448.6 L244.0 469.0 L164.0 399.0 Z" fill="#1e6eeb"/>
<path d="M432.4 243.4 L439.1 242.3 L446.9 244.5 L436.8 250.1 Z" fill="#1e6eeb"/>
<path d="M429.2 312.6 L441.9 297.8 L456.7 293.6 L463.0 308.4 L460.9 323.2 L450.4 338.0 L437.7 340.1 L429.2 329.5 Z" fill="#1e6eeb"/>
<path d="M411.5 560.7 L417.8 556.5 L424.1 562.8 L417.8 564.9 Z" fill="#1e6eeb"/>
<path d="M394.5 628.4 L400.9 627.3 L401.9 631.6 L395.6 631.6 Z" fill="#1e6eeb"/>
<path d="M420.0 557.2 L423.7 559.1 L423.7 564.7 L420.0 564.7 Z" fill="#1e6eeb"/>
<path d="M295.9 359.1 L302.2 344.3 L317.0 335.9 L331.8 350.7 L340.3 363.4 L340.3 380.3 L321.2 380.3 L306.4 376.0 Z" fill="#0a0fc8"/>
<path d="M234.5 388.7 L251.5 380.3 L266.3 393.0 L264.1 403.5 L251.5 403.5 L240.9 399.3 Z" fill="#0a0fc8"/>
<path d="M433.4 329.5 L450.4 310.5 L454.6 325.3 L452.5 329.5 L437.7 332.7 Z" fill="#0a0fc8"/>
</g>
<path d="M227.4 140.9 L236.7 145.2 L238.8 152.4 L241.0 158.1 L242.4 165.3 L241.0 175.3 L245.3 183.9 L242.4 191.0 L249.6 196.7 L253.9 201.0 L257.4 201.7 L258.1 193.9 L261.0 189.6 L265.0 186.7" fill="none" stroke="#000" stroke-width="0.9"/>
<path d="M265.0 186.7 L270.7 191.0 L275.7 191.7 L279.3 188.1 L282.2 178.1 L283.6 174.6 L302.9 174.6" fill="none" stroke="#000" stroke-width="0.9"/>
<path d="M301.5 156.0 L302.5 163.8 L302.9 174.6 L305.1 185.3 L307.9 189.6 L313.6 195.3 L319.4 199.6 L325.1 203.9 L332.2 206.7 L338.0 211.0 L342.2 214.6 L339.4 216.0 L333.7 219.6 L339.4 218.9 L343.7 216.0 L342.2 219.6 L339.4 226.8 L335.1 235.3 L329.4 246.8 L322.2 261.1 L315.1 275.4 L310.8 285.4 L309.3 291.1 L312.2 298.3 L315.1 304.0 L316.5 308.0" fill="none" stroke="#000" stroke-width="0.9"/>
<path d="M371.6 136.6 L371.6 146.7 L379.4 149.5 L388.0 155.2 L393.7 161.0 L398.0 169.5 L402.3 181.0 L408.0 191.0 L413.8 196.7 L419.5 198.2" fill="none" stroke="#000" stroke-width="0.9"/>
<path d="M405.9 204.6 L413.8 201.0 L419.5 198.9 L426.6 192.4 L432.4 185.3 L439.5 178.1 L446.7 171.0 L451.0 163.8" fill="none" stroke="#000" stroke-width="0.9"/>
<path d="M426.6 206.7 L427.4 215.3 L433.8 219.6 L437.4 213.9 L442.4 207.5 L451.0 208.9 L459.5 206.0 L468.1 203.9 L478.1 202.4 L476.7 195.3 L475.3 189.6 L468.1 183.9 L455.2 178.1 L443.8 181.0 L436.6 186.7 L430.9 195.3 L426.6 206.7" fill="none" stroke="#000" stroke-width="0.9"/>
<path d="M436.6 221.0 L439.5 211.0 L440.9 203.9" fill="none" stroke="#000" stroke-width="0.9"/>
<path d="M459.5 219.6 L462.4 209.6 L466.7 203.9" fill="none" stroke="#000" stroke-width="0.9"/>
<path d="M495.0 246.8 L483.9 258.2 L472.4 265.4" fill="none" stroke="#000" stroke-width="0.9"/>
<path d="M471.5 267.0 L475.5 268.0 L478.5 269.0 L480.5 271.9 L478.5 275.9 L477.5 279.9 L474.5 283.9 L471.5 287.9 L466.6 290.8 L463.6 293.8 L462.6 299.8 L463.6 305.8 L463.6 311.7 L461.6 317.7 L457.6 323.7 L453.6 329.7 L449.7 335.6 L446.7 341.6 L443.7 349.6 L440.7 357.5 L438.7 365.5 L438.7 373.4 L439.7 381.4 L441.7 387.4 L443.7 389.4 L445.7 386.4 L443.7 390.3 L441.7 394.3 L439.7 401.3 L436.7 409.3 L433.7 415.2 L432.7 420.0" fill="none" stroke="#000" stroke-width="0.9"/>
<path d="M380.0 338.6 L445.7 342.1" fill="none" stroke="#000" stroke-width="0.9"/>
<path d="M444.7 391.3 L449.7 393.3 L455.6 395.3 L461.6 397.3 L463.6 391.3 L465.6 388.4 L467.6 390.3 L469.6 396.3 L474.5 396.3 L479.5 397.3 L484.5 399.3 L487.5 399.3 L489.5 397.3 L494.4 396.3 L499.4 394.3 L505.4 392.3 L512.3 391.3" fill="none" stroke="#000" stroke-width="0.9"/>
<path d="M514.3 197.2 L515.0 201.5 L513.6 208.6 L510.8 217.2 L507.9 224.3 L505.0 231.5 L500.0 238.6 L494.3 245.8 L488.6 251.5 L482.9 257.2 L480.0 260.1" fill="none" stroke="#000" stroke-width="0.9"/>
<path d="M485.3 268.2 L492.4 275.4 L493.9 284.0 L489.6 296.9 L492.4 308.0" fill="none" stroke="#000" stroke-width="0.9"/>
<path d="M480.0 265.1 L485.7 265.8 L491.4 268.7 L493.6 277.3 L494.3 284.4 L492.9 293.0 L490.0 298.7 L491.4 303.0 L497.2 307.3 L502.9 310.2 L507.2 311.6 L507.9 315.9 L504.3 320.2 L501.5 324.5 L500.0 328.8 L502.9 333.1 L505.7 337.3 L508.6 344.5 L514.3 350.2 L518.6 351.6" fill="none" stroke="#000" stroke-width="0.9"/>
<path d="M518.6 351.6 L512.9 355.9 L508.6 361.7 L507.9 366.0 L511.5 371.7 L513.6 377.4 L512.9 387.4 L513.6 394.6 L512.9 403.1 L512.2 410.0" fill="none" stroke="#000" stroke-width="0.9"/>
<path d="M586.6 225.1 L580.1 231.5 L574.4 235.8 L570.1 241.5 L567.3 248.7 L568.0 255.8 L566.5 263.0 L565.1 271.5 L565.8 278.7 L568.7 283.0 L567.3 287.3 L561.5 290.1 L551.5 290.1 L545.8 293.0 L540.1 297.3 L532.9 301.6 L527.2 304.4 L524.3 308.7 L522.9 315.9 L520.1 323.0 L518.6 330.2 L518.6 337.3 L520.1 344.5 L519.3 350.2" fill="none" stroke="#000" stroke-width="0.9"/>
<path d="M594.4 226.5 L593.0 234.4 L594.4 240.1 L597.3 248.7 L600.2 260.1 L601.6 268.7 L603.0 280.1 L605.9 288.7 L608.7 294.4 L607.3 301.6 L605.9 308.7 L605.9 317.3 L600.2 321.6 L594.4 324.5" fill="none" stroke="#000" stroke-width="0.9"/>
<path d="M594.4 324.5 L588.7 328.8 L580.1 331.6 L571.5 335.9 L565.8 337.3 L560.1 334.5 L554.4 334.5 L553.0 338.8 L554.4 344.5 L553.0 348.8 L548.7 353.1 L542.9 355.9 L537.2 358.8 L531.5 358.8 L525.8 355.9 L521.5 351.6 L518.6 351.6" fill="none" stroke="#000" stroke-width="0.9"/>
<path d="M605.9 301.6 L614.5 301.6 L623.0 303.0 L628.8 305.9 L633.1 308.7 L637.3 305.9" fill="none" stroke="#000" stroke-width="0.9"/>
<path d="M594.4 324.5 L598.7 325.9 L601.6 331.6 L605.9 335.9 L608.7 334.5 L614.5 330.2 L620.2 324.5 L625.9 321.6 L631.6 324.5 L637.3 324.5 L643.1 328.8 L647.4 335.9 L651.6 338.8 L658.8 340.2 L666.0 344.5 L671.7 348.8 L676.0 353.1" fill="none" stroke="#000" stroke-width="0.9"/>
<path d="M663.1 259.4 L657.4 261.5 L653.1 267.3 L648.8 274.4 L643.1 280.1 L640.2 285.9 L638.8 293.0 L640.2 300.2 L638.8 305.9" fill="none" stroke="#000" stroke-width="0.9"/>
<path d="M640.2 285.9 L645.9 283.0 L651.6 280.1 L657.4 278.7 L661.7 280.1 L660.2 285.9 L664.5 290.1 L668.8 293.0 L673.1 293.0 L674.5 284.4 L680.3 284.4 L687.4 285.9 L694.6 286.6 L700.3 286.6" fill="none" stroke="#000" stroke-width="0.9"/>
<path d="M638.8 305.9 L644.5 307.3 L651.6 304.4 L658.8 301.6 L664.5 301.6 L666.0 305.9 L668.8 308.7 L673.1 310.2 L680.3 308.7 L687.4 305.9 L691.7 303.0 L697.4 301.6 L702.4 303.0" fill="none" stroke="#000" stroke-width="0.9"/>
<path d="M647.4 335.9 L655.9 327.3 L661.7 328.8 L666.0 331.6 L673.1 328.8 L680.3 327.3 L687.4 325.9 L694.6 325.9 L698.9 327.3" fill="none" stroke="#000" stroke-width="0.9"/>
<path d="M647.4 335.9 L651.6 340.2 L655.9 345.9 L653.1 351.6 L647.4 358.8 L645.9 363.1 L650.2 367.4 L655.9 371.7 L660.2 366.0" fill="none" stroke="#000" stroke-width="0.9"/>
<path d="M514.4 400.0 L513.0 408.6 L514.4 414.3 L517.3 420.0 L517.3 428.6" fill="none" stroke="#000" stroke-width="0.9"/>
<path d="M517.3 430.0 L524.4 427.2 L533.0 422.9 L540.2 418.6 L547.3 415.7 L553.1 418.6 L554.5 422.9 L561.6 422.9 L568.8 425.7 L575.9 428.6 L584.5 430.0 L590.2 434.3" fill="none" stroke="#000" stroke-width="0.9"/>
<path d="M593.8 436.7 L594.8 439.7 L599.8 439.7 L604.8 440.7 L609.8 441.7 L614.7 443.7 L618.2 447.7 L617.7 450.6 L613.7 453.6 L611.7 457.6 L608.8 459.6 L607.8 462.6 L606.8 467.6 L608.8 470.5 L611.7 473.5 L613.7 476.5 L617.7 479.5 L621.7 482.5" fill="none" stroke="#000" stroke-width="0.9"/>
<path d="M612.7 476.5 L606.8 476.5 L602.8 478.5 L599.8 480.5 L597.8 484.5 L599.8 489.5 L596.8 492.4 L599.8 494.4 L600.8 499.4 L599.8 504.4 L597.8 508.4 L595.8 512.3 L591.8 515.3 L586.9 516.3 L585.9 521.3 L584.9 525.3 L587.9 530.2 L589.9 531.2 L594.8 532.2 L599.8 532.7" fill="none" stroke="#000" stroke-width="0.9"/>
<path d="M586.0 525.9 L583.1 531.6 L578.8 537.3 L577.4 541.6 L571.6 543.0 L564.5 544.5 L557.3 545.9 L550.2 547.3 L543.0 550.2 L535.9 551.6 L528.7 554.5 L521.6 557.3 L514.4 558.8 L510.1 557.3 L507.3 551.6 L505.9 543.0 L507.3 537.3 L503.0 534.5 L500.1 528.7 L497.3 524.4 L495.8 520.2 L494.4 514.4 L491.5 511.6 L485.8 511.6 L480.1 513.0 L474.4 513.0 L468.7 514.4 L467.2 518.7 L464.4 515.9 L461.5 511.6 L454.4 510.1 L447.2 510.1 L441.5 508.7 L435.8 510.9 L432.9 514.4 L428.6 518.7 L424.3 524.4 L420.0 534.5 L414.3 543.0 L408.6 548.8 L400.0 553.1" fill="none" stroke="#000" stroke-width="0.9"/>
<path d="M535.9 551.6 L539.5 557.3 L537.3 564.5" fill="none" stroke="#000" stroke-width="0.9"/>
<path d="M485.8 485.1 L491.5 481.5 L494.4 474.4 L493.0 465.8 L494.4 460.1 L493.0 454.4 L494.4 445.8" fill="none" stroke="#000" stroke-width="0.9"/>
<path d="M480.1 437.2 L494.4 437.2 L494.4 445.8 L479.4 445.8 L480.1 437.2" fill="none" stroke="#000" stroke-width="0.9"/>
<path d="M494.4 445.8 L500.1 444.3 L503.0 441.5 L502.3 435.8 L503.0 430.0 L507.3 425.7 L510.1 423.6 L513.0 425.7 L517.3 430.0" fill="none" stroke="#000" stroke-width="0.9"/>
<path d="M400.0 484.4 L405.7 488.7 L414.3 493.0 L421.5 495.8 L428.6 498.7 L435.8 503.0" fill="none" stroke="#000" stroke-width="0.9"/>
<path d="M435.8 503.0 L440.1 493.0 L445.8 488.7 L454.4 487.3 L461.5 485.8 L468.7 483.7 L475.8 484.4 L484.4 485.8 L491.5 481.5" fill="none" stroke="#000" stroke-width="0.9"/>
<path d="M435.8 503.0 L434.3 510.1" fill="none" stroke="#000" stroke-width="0.9"/>
<path d="M438.6 400.0 L435.8 408.6 L432.9 418.6 L425.7 428.6 L421.5 435.8 L417.2 442.9 L408.6 451.5 L402.9 457.2 L400.0 461.5" fill="none" stroke="#000" stroke-width="0.9"/>
<path d="M388.7 616.5 L400.1 618.7 L408.7 620.1 L418.7 621.5 L425.9 622.2 L428.7 620.1 L430.2 617.2 L437.3 614.4 L444.5 613.0 L450.2 613.0 L455.9 614.4 L461.6 613.0 L467.4 611.5 L473.1 611.5" fill="none" stroke="#000" stroke-width="0.9"/>
<path d="M388.7 630.1 L400.1 631.5 L408.7 633.0 L417.3 635.8 L424.4 638.7 L430.2 643.0 L435.9 648.7 L440.2 653.0 L447.3 654.4 L454.5 654.4 L453.1 660.2 L450.2 664.4 L448.8 667.3 L454.5 667.3" fill="none" stroke="#000" stroke-width="0.9"/>
<path d="M380.1 578.6 L384.4 568.6 L388.7 561.5 L394.4 557.2 L400.1 554.3 L408.7 554.3 L417.3 555.0 L425.9 555.7 L434.5 557.2 L443.0 558.6 L451.6 561.5 L455.9 564.3 L457.3 571.5 L460.2 580.1 L463.1 587.2 L468.8 590.1 L474.5 591.5 L477.4 594.4 L480.2 597.2" fill="none" stroke="#000" stroke-width="0.9"/>
<path d="M400.1 554.3 L405.9 548.6 L411.6 544.3 L415.9 540.0" fill="none" stroke="#000" stroke-width="0.9"/>
<path d="M428.7 680.2 L430.2 688.8 L427.3 694.5 L423.0 698.8 L418.7 703.1 L415.9 708.8 L414.4 713.1" fill="none" stroke="#000" stroke-width="0.9"/>
<path d="M440.2 683.0 L437.3 688.8 L433.0 693.1 L428.7 697.3" fill="none" stroke="#000" stroke-width="0.9"/>
<path d="M55.0 297.2 L171.6 343.0 L178.8 335.8 L187.3 335.8 L191.6 334.4 L198.8 331.5 L205.9 328.7 L214.5 327.2 L217.4 320.1 L221.7 315.8 L226.0 311.5 L236.0 311.5 L241.7 315.8 L247.4 320.1 L253.1 324.4 L257.4 324.4" fill="none" stroke="#000" stroke-width="0.9"/>
<path d="M257.2 324.3 L257.9 335.8 L258.6 347.2 L258.6 361.5 L277.2 361.5 L283.0 364.4 L284.4 371.5 L285.8 380.1 L285.8 387.3 L281.5 394.4 L277.2 400.1 L273.0 405.9" fill="none" stroke="#000" stroke-width="0.9"/>
<path d="M257.2 324.3 L310.1 324.3 L311.6 314.3 L314.4 300.0" fill="none" stroke="#000" stroke-width="0.9"/>
<path d="M314.4 300.0 L323.0 318.6 L328.7 327.2 L337.3 332.9 L343.0 335.8 L357.3 337.2 L386.0 339.3 L430.0 341.5" fill="none" stroke="#000" stroke-width="0.9"/>
<path d="M323.0 475.9 L328.7 475.9 L337.3 470.2 L343.0 465.9 L350.2 464.5 L357.3 468.8 L364.5 473.1 L371.6 471.6 L380.2 470.2 L386.0 465.9 L388.8 467.4 L386.0 474.5 L384.5 477.4 L390.2 478.8 L397.4 478.8 L400.3 484.5 L403.1 490.2 L414.6 494.5 L423.1 497.4 L430.0 498.8" fill="none" stroke="#000" stroke-width="0.9"/>
<path d="M430.0 428.7 L423.1 431.6 L420.3 438.7 L414.6 444.5 L408.8 450.2 L403.1 457.3 L398.8 464.5 L397.4 471.6 L397.4 478.8" fill="none" stroke="#000" stroke-width="0.9"/>
<use href="#brzline"/>
<rect x="35.3" y="78" width="680.7" height="684" fill="none" stroke="#000" stroke-width="2"/>
<line x1="31" y1="94.5" x2="35.3" y2="94.5" stroke="#000" stroke-width="1"/>
<text x="26.4" y="101.7" font-size="20" text-anchor="end" textLength="17.0" lengthAdjust="spacingAndGlyphs" style="font-family:'Liberation Serif',serif" >5N</text>
<line x1="31" y1="177.9" x2="35.3" y2="177.9" stroke="#000" stroke-width="1"/>
<text x="26.4" y="185.1" font-size="20" text-anchor="end" textLength="17.0" lengthAdjust="spacingAndGlyphs" style="font-family:'Liberation Serif',serif" >EQ</text>
<line x1="31" y1="261.4" x2="35.3" y2="261.4" stroke="#000" stroke-width="1"/>
<text x="26.4" y="268.6" font-size="20" text-anchor="end" textLength="17.0" lengthAdjust="spacingAndGlyphs" style="font-family:'Liberation Serif',serif" >5S</text>
<line x1="31" y1="344.9" x2="35.3" y2="344.9" stroke="#000" stroke-width="1"/>
<text x="26.4" y="352.1" font-size="20" text-anchor="end" textLength="25.5" lengthAdjust="spacingAndGlyphs" style="font-family:'Liberation Serif',serif" >10S</text>
<line x1="31" y1="428.3" x2="35.3" y2="428.3" stroke="#000" stroke-width="1"/>
<text x="26.4" y="435.5" font-size="20" text-anchor="end" textLength="25.5" lengthAdjust="spacingAndGlyphs" style="font-family:'Liberation Serif',serif" >15S</text>
<line x1="31" y1="511.8" x2="35.3" y2="511.8" stroke="#000" stroke-width="1"/>
<text x="26.4" y="519.0" font-size="20" text-anchor="end" textLength="25.5" lengthAdjust="spacingAndGlyphs" style="font-family:'Liberation Serif',serif" >20S</text>
<line x1="31" y1="595.2" x2="35.3" y2="595.2" stroke="#000" stroke-width="1"/>
<text x="26.4" y="602.4" font-size="20" text-anchor="end" textLength="25.5" lengthAdjust="spacingAndGlyphs" style="font-family:'Liberation Serif',serif" >25S</text>
<line x1="31" y1="678.7" x2="35.3" y2="678.7" stroke="#000" stroke-width="1"/>
<text x="26.4" y="685.9" font-size="20" text-anchor="end" textLength="25.5" lengthAdjust="spacingAndGlyphs" style="font-family:'Liberation Serif',serif" >30S</text>
<line x1="31" y1="762.1" x2="35.3" y2="762.1" stroke="#000" stroke-width="1"/>
<text x="26.4" y="769.3" font-size="20" text-anchor="end" textLength="25.5" lengthAdjust="spacingAndGlyphs" style="font-family:'Liberation Serif',serif" >35S</text>
<line x1="35.3" y1="762" x2="35.3" y2="766.5" stroke="#000" stroke-width="1"/>
<text x="35.3" y="785.8" font-size="20" text-anchor="middle" textLength="26.5" lengthAdjust="spacingAndGlyphs" style="font-family:'Liberation Serif',serif" >75W</text>
<line x1="118.3" y1="762" x2="118.3" y2="766.5" stroke="#000" stroke-width="1"/>
<text x="118.3" y="785.8" font-size="20" text-anchor="middle" textLength="26.5" lengthAdjust="spacingAndGlyphs" style="font-family:'Liberation Serif',serif" >70W</text>
<line x1="201.3" y1="762" x2="201.3" y2="766.5" stroke="#000" stroke-width="1"/>
<text x="201.3" y="785.8" font-size="20" text-anchor="middle" textLength="26.5" lengthAdjust="spacingAndGlyphs" style="font-family:'Liberation Serif',serif" >65W</text>
<line x1="284.3" y1="762" x2="284.3" y2="766.5" stroke="#000" stroke-width="1"/>
<text x="284.3" y="785.8" font-size="20" text-anchor="middle" textLength="26.5" lengthAdjust="spacingAndGlyphs" style="font-family:'Liberation Serif',serif" >60W</text>
<line x1="367.3" y1="762" x2="367.3" y2="766.5" stroke="#000" stroke-width="1"/>
<text x="367.3" y="785.8" font-size="20" text-anchor="middle" textLength="26.5" lengthAdjust="spacingAndGlyphs" style="font-family:'Liberation Serif',serif" >55W</text>
<line x1="450.3" y1="762" x2="450.3" y2="766.5" stroke="#000" stroke-width="1"/>
<text x="450.3" y="785.8" font-size="20" text-anchor="middle" textLength="26.5" lengthAdjust="spacingAndGlyphs" style="font-family:'Liberation Serif',serif" >50W</text>
<line x1="533.3" y1="762" x2="533.3" y2="766.5" stroke="#000" stroke-width="1"/>
<text x="533.3" y="785.8" font-size="20" text-anchor="middle" textLength="26.5" lengthAdjust="spacingAndGlyphs" style="font-family:'Liberation Serif',serif" >45W</text>
<line x1="616.3" y1="762" x2="616.3" y2="766.5" stroke="#000" stroke-width="1"/>
<text x="616.3" y="785.8" font-size="20" text-anchor="middle" textLength="26.5" lengthAdjust="spacingAndGlyphs" style="font-family:'Liberation Serif',serif" >40W</text>
<line x1="699.3" y1="762" x2="699.3" y2="766.5" stroke="#000" stroke-width="1"/>
<text x="699.3" y="785.8" font-size="20" text-anchor="middle" textLength="26.5" lengthAdjust="spacingAndGlyphs" style="font-family:'Liberation Serif',serif" >35W</text>
<rect x="731" y="201" width="14" height="46" fill="#ff6400" stroke="#000" stroke-width="1.6"/>
<rect x="731" y="247" width="14" height="46" fill="#ffa000" stroke="#000" stroke-width="1.6"/>
<rect x="731" y="293" width="14" height="46" fill="#ffc03c" stroke="#000" stroke-width="1.6"/>
<rect x="731" y="339" width="14" height="46" fill="#fff7ab" stroke="#000" stroke-width="1.6"/>
<rect x="731" y="385" width="14" height="46" fill="#a9a9a9" stroke="#000" stroke-width="1.6"/>
<rect x="731" y="431" width="14" height="46" fill="#b2eefa" stroke="#000" stroke-width="1.6"/>
<rect x="731" y="477" width="14" height="46" fill="#96d2fa" stroke="#000" stroke-width="1.6"/>
<rect x="731" y="523" width="14" height="46" fill="#50a5f5" stroke="#000" stroke-width="1.6"/>
<rect x="731" y="569" width="14" height="46" fill="#1e6eeb" stroke="#000" stroke-width="1.6"/>
<path d="M731 201 L738 155 L745 201 Z" fill="#ff3200" stroke="#000" stroke-width="1.6" stroke-linejoin="round"/>
<path d="M731 615 L738 661 L745 615 Z" fill="#0a0fc8" stroke="#000" stroke-width="1.6" stroke-linejoin="round"/>
<text x="749.5" y="207.3" font-size="18.5" textLength="7.6" lengthAdjust="spacingAndGlyphs" style="font-family:'Liberation Serif',serif;font-weight:bold">3</text>
<text x="749.5" y="253.3" font-size="18.5" textLength="7.6" lengthAdjust="spacingAndGlyphs" style="font-family:'Liberation Serif',serif;font-weight:bold">2</text>
<text x="749.5" y="299.3" font-size="18.5" textLength="21" lengthAdjust="spacingAndGlyphs" style="font-family:'Liberation Serif',serif;font-weight:bold">1.5</text>
<text x="749.5" y="345.3" font-size="18.5" textLength="5.6" lengthAdjust="spacingAndGlyphs" style="font-family:'Liberation Serif',serif;font-weight:bold">1</text>
<text x="749.5" y="391.3" font-size="18.5" textLength="21" lengthAdjust="spacingAndGlyphs" style="font-family:'Liberation Serif',serif;font-weight:bold">0.5</text>
<rect x="750.1" y="430.8" width="8.6" height="1.5" fill="#000"/>
<text x="761" y="437.3" font-size="18.5" textLength="20" lengthAdjust="spacingAndGlyphs" style="font-family:'Liberation Serif',serif;font-weight:bold">0.5</text>
<rect x="750.1" y="476.8" width="8.6" height="1.5" fill="#000"/>
<text x="761" y="483.3" font-size="18.5" textLength="5.6" lengthAdjust="spacingAndGlyphs" style="font-family:'Liberation Serif',serif;font-weight:bold">1</text>
<rect x="750.1" y="522.8" width="8.6" height="1.5" fill="#000"/>
<text x="761" y="529.3" font-size="18.5" textLength="19.5" lengthAdjust="spacingAndGlyphs" style="font-family:'Liberation Serif',serif;font-weight:bold">1.5</text>
<rect x="750.1" y="568.8" width="8.6" height="1.5" fill="#000"/>
<text x="761" y="575.3" font-size="18.5" textLength="7.6" lengthAdjust="spacingAndGlyphs" style="font-family:'Liberation Serif',serif;font-weight:bold">2</text>
<rect x="750.1" y="614.8" width="8.6" height="1.5" fill="#000"/>
<text x="761" y="621.3" font-size="18.5" textLength="7.6" lengthAdjust="spacingAndGlyphs" style="font-family:'Liberation Serif',serif;font-weight:bold">3</text>
<text transform="translate(795,354.3) rotate(-90)" font-size="17" text-anchor="middle" textLength="34.5" lengthAdjust="spacingAndGlyphs" style="font-family:'Liberation Serif',serif">( °C )</text>
<use href="#logo"/>
</g>
</svg></body></html>
